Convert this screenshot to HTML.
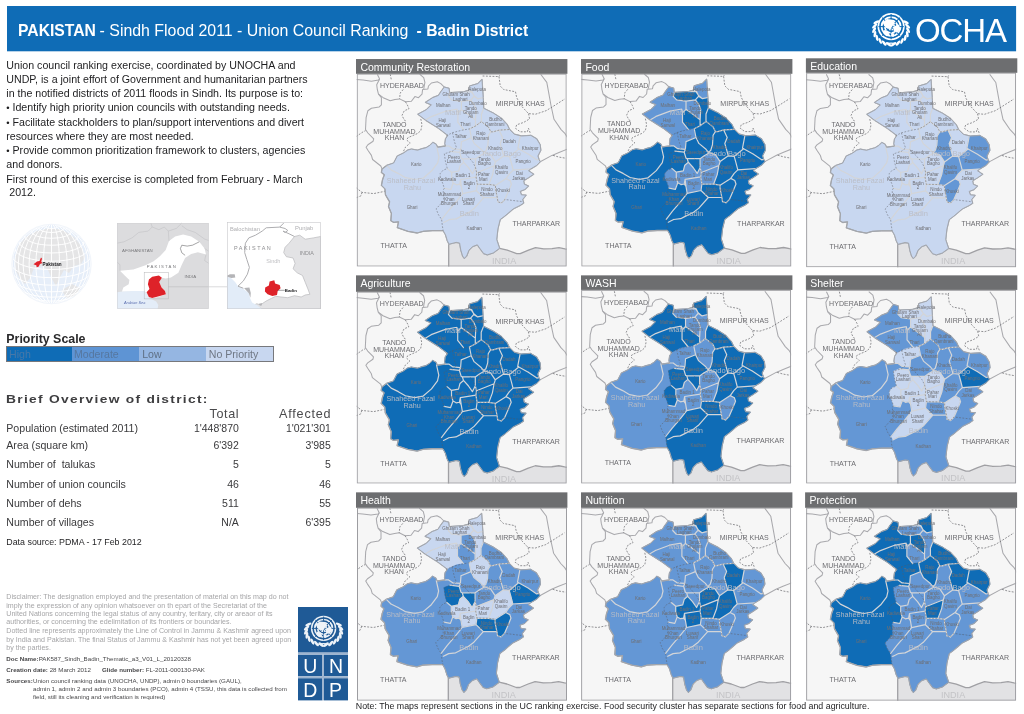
<!DOCTYPE html>
<html lang="en">
<head>
<meta charset="utf-8">
<title>PAKISTAN - Sindh Flood 2011 - Union Council Ranking - Badin District</title>
<style>
html,body{margin:0;padding:0;background:#fff;}
body{width:1024px;height:714px;overflow:hidden;font-family:"Liberation Sans",sans-serif;}
#page{position:relative;width:1024px;height:714px;overflow:hidden;background:#fff;}
#page *{box-sizing:border-box;}
.abs{position:absolute;white-space:nowrap;line-height:1;}
.ht{position:absolute;top:19.2px;color:#fff;font-size:15.8px;line-height:1;white-space:nowrap;}
.ptitle{position:absolute;color:#fff;font-size:10.5px;line-height:16.1px;padding-left:4.4px;white-space:nowrap;overflow:hidden;}
#maps{position:absolute;left:0;top:0;display:block;}
.intro{position:absolute;left:6.3px;font-size:10.65px;color:#1d1d1f;white-space:nowrap;line-height:1;}
.row{position:absolute;left:6.3px;font-size:10.6px;color:#3a3a3c;white-space:nowrap;line-height:1;}
.val{position:absolute;font-size:10.5px;color:#3a3a3c;white-space:nowrap;line-height:1;text-align:right;}
.disc{position:absolute;left:6.3px;font-size:7.1px;color:#a3a3a5;white-space:nowrap;line-height:1;}
.meta{position:absolute;left:6.3px;font-size:6.2px;color:#4a4a4c;white-space:nowrap;line-height:1;}
.meta b{font-weight:bold;}
.bul{display:inline-block;width:6.2px;font-size:9.5px;line-height:1px;vertical-align:0.3px;}
#legend{position:absolute;left:6px;top:346px;width:268.2px;height:16px;border:1px solid #77787c;display:flex;font-size:10.6px;line-height:14px;}
#legend span{display:block;height:100%;white-space:nowrap;padding-left:3px;}
#legend span:nth-child(1){width:65px;padding-left:2px;}
#legend span:nth-child(2){width:67.2px;padding-left:2px;}
#legend span:nth-child(3){width:66.6px;}
#legend span:nth-child(4){flex:1;}
#undp{position:absolute;left:298px;top:607.4px;width:50px;height:93.4px;}

</style>
</head>
<body>
<div id="page">
<svg id="maps" width="1024" height="714" viewBox="0 0 1024 714">
<rect x="7" y="6" width="1009.1" height="45.3" fill="#0f6cb6"/>
<svg x="356.70" y="73.60" width="210" height="193.00" overflow="hidden">
<g transform="translate(-0.60 0.60)">
<rect x="-3" y="-3" width="216" height="199" fill="#f6f6f6"/>
<polygon points="92.6,165.0 143.5,174.1 151.2,175.9 160.6,179.4 164.1,179.4 172.4,175.9 179.4,173.5 187.6,174.7 195.9,174.5 202.9,173.5 208.8,174.7 213.0,175.3 213.0,196.0 92.6,196.0" fill="#e2e2e4"/>
<g fill="none" stroke="#a9a9ad" stroke-width="1.05" stroke-linejoin="round">
<polyline points="-3.0,5.1 7.0,5.9 15.3,7.0 22.4,5.9 23.5,4.7 21.2,0.0"/>
<polyline points="23.5,4.7 20.6,10.6 21.2,15.3 22.4,20.0 25.3,23.5 25.3,30.6 22.9,32.9 15.3,34.1 11.8,36.5 10.0,43.5 9.4,55.3 11.8,58.8 17.6,64.7 17.0,67.0 11.8,70.6 10.0,73.0 11.8,76.0 15.3,81.2 16.5,85.3 24.7,91.8 25.9,94.7"/>
<polyline points="22.4,20.0 27.1,23.5 34.1,26.5 38.8,25.3 43.5,24.7 49.4,27.6 55.3,27.1 58.8,22.4 62.4,23.5 65.9,20.0 66.5,15.3 71.8,14.7 72.4,11.8 75.3,8.8 81.2,7.6 84.7,9.4 88.2,12.9"/>
<polyline points="63.5,0.0 67.6,3.5 68.8,8.2 67.6,14.7"/>
<polyline points="184.6,0.0 190.7,8.2 192.5,18.0 194.8,30.8 197.9,45.1 205.0,55.4 209.0,59.5 213.0,66.0"/>
<polyline points="184.1,87.6 195.9,81.2 202.9,78.2 213.0,74.2"/>
<polyline points="143.5,174.1 151.2,175.9 160.6,179.4 164.1,179.4 172.4,175.9 179.4,173.5 187.6,174.7 195.9,174.5 202.9,173.5 208.8,174.7 213.0,175.3" stroke="#a0a0a4" stroke-width="1.3"/>
<polyline points="92.6,170.0 92.6,196.0" stroke="#a0a0a4" stroke-width="1.3"/>
</g>
<g fill="none" stroke="#66666a" stroke-width="0.7" stroke-dasharray="1.9 1.4">
<polyline points="34.1,0.0 35.3,5.9"/>
<polyline points="47.1,15.3 44.1,18.8 43.5,24.7"/>
<polyline points="49.4,27.6 51.8,31.8 52.9,34.7 48.2,36.5 45.9,41.2 48.2,45.9 50.6,47.1"/>
<polyline points="64.7,44.7 65.9,50.6 64.7,56.5 61.2,59.4 51.8,63.5 50.6,65.9 54.1,68.8 49.4,72.9 47.1,77.6"/>
<polyline points="0.0,62.4 7.0,57.6 9.4,56.5"/>
<polyline points="0.0,113.5 5.9,118.2 17.6,119.4 28.8,117.1"/>
<polyline points="5.9,118.2 4.7,121.8 0.0,123.5"/>
<polyline points="126.5,1.8 142.9,2.4 143.5,1.2"/>
<polyline points="142.9,2.4 144.1,11.8 147.6,15.3 159.4,17.6 160.6,23.5 165.3,31.8 172.4,39.4 179.4,40.0 190.0,36.5 195.9,32.9 208.8,24.7"/>
<polyline points="172.4,39.4 173.5,44.7 167.6,48.2 160.6,50.6 159.4,54.1 164.1,57.6 171.2,57.6 172.4,54.1 174.1,58.8"/>
<polyline points="197.0,81.2 202.9,82.9 210.0,84.1"/>
</g>
<polygon points="125.9,5.3 127.1,23.5 127.6,34.1 137.1,38.8 145.3,44.1 151.2,50.6 153.5,55.3 158.2,60.0 165.3,61.8 174.7,61.2 180.6,64.7 184.1,70.6 184.7,76.0 181.8,81.8 182.9,85.3 184.1,87.6 180.6,91.2 174.7,94.7 172.4,96.5 177.6,100.0 172.4,103.5 167.6,106.5 168.2,110.0 172.4,111.8 168.8,115.3 164.1,117.1 165.3,120.6 170.0,121.0 166.5,125.3 167.6,128.8 164.1,131.2 157.1,134.7 148.8,141.8 144.1,145.3 141.8,154.7 140.6,165.3 143.5,174.1 137.1,178.8 131.2,180.6 127.6,179.4 124.1,174.7 121.2,170.6 116.5,172.4 112.9,175.9 110.6,181.8 108.2,184.1 106.5,181.8 104.7,175.9 103.5,168.8 100.0,168.2 92.9,170.0 91.2,166.5 89.4,160.6 87.1,156.5 76.5,156.5 67.1,157.1 61.2,158.8 51.8,157.1 41.2,153.5 42.4,147.6 37.6,148.2 34.7,146.5 35.3,139.4 32.4,132.4 33.5,127.6 29.4,120.6 28.8,114.7 25.3,111.2 26.5,105.3 28.2,100.6 25.3,98.2 25.9,94.7 30.6,91.2 37.6,88.8 41.2,81.8 47.2,79.0 51.8,75.8 55.4,74.9 61.5,76.0 66.0,74.5 70.0,73.5 74.0,71.0 76.8,68.2 80.0,70.0 81.5,72.9 89.4,71.8 88.8,69.4 89.4,64.7 91.8,61.2 82.4,54.1 69.4,45.9 61.8,40.0 70.6,35.3 75.3,30.6 69.4,28.2 76.5,23.5 82.4,21.2 84.7,17.6 88.2,12.9 92.9,14.1 93.5,18.5 107.6,17.6 112.9,16.0 113.5,11.8 121.8,9.4" fill="#c8d7f0" stroke="#a3a6ac" stroke-width="1.3" stroke-linejoin="round"/>
<polygon points="125.9,5.3 121.8,9.4 113.5,11.8 113.5,16.5 115.9,17.6 118.2,22.4 121.8,24.7 125.3,23.8 127.1,23.5" fill="#c8d7f0" stroke="#c8d7f0" stroke-width="0.35"/>
<polygon points="93.5,18.5 107.6,17.6 115.3,17.6 118.2,21.8 114.7,25.9 105.3,27.1 95.9,25.9 92.6,22.4" fill="#c8d7f0" stroke="#c8d7f0" stroke-width="0.35"/>
<polygon points="121.8,24.7 125.3,23.8 127.1,23.5 127.6,34.1 125.3,40.0 125.3,47.4 119.4,51.8 119.4,45.9 120.0,35.3 118.2,30.6 114.7,25.9 118.2,21.8" fill="#c8d7f0" stroke="#c8d7f0" stroke-width="0.35"/>
<polygon points="105.3,27.1 114.7,25.9 118.2,30.6 120.0,35.3 119.4,45.9 113.5,41.2 105.3,35.3" fill="#c8d7f0" stroke="#c8d7f0" stroke-width="0.35"/>
<polygon points="101.8,38.8 105.3,35.3 113.5,41.2 119.4,45.9 119.4,51.8 113.5,54.7 107.6,55.3 101.8,48.2" fill="#c8d7f0" stroke="#c8d7f0" stroke-width="0.35"/>
<polygon points="88.2,12.9 92.9,14.1 93.5,18.5 92.6,22.4 95.9,25.9 105.3,27.1 105.3,35.3 101.8,38.8 101.0,35.0 89.4,37.1 75.3,42.4 69.4,45.9 61.8,40.0 70.6,35.3 75.3,30.6 69.4,28.2 76.5,23.5 82.4,21.2 84.7,17.6" fill="#c8d7f0" stroke="#c8d7f0" stroke-width="0.35"/>
<polygon points="69.4,45.9 75.3,42.4 89.4,37.1 101.0,35.0 101.8,38.8 101.8,48.2 107.6,55.3 100.0,57.0 91.8,61.2 82.4,54.1" fill="#c8d7f0" stroke="#c8d7f0" stroke-width="0.35"/>
<polygon points="91.8,61.2 100.0,57.0 107.6,55.3 113.5,54.7 115.3,63.5 105.3,67.6 104.7,75.3 97.0,74.7 92.9,71.8 89.4,71.8 88.8,69.4 89.4,64.7" fill="#c8d7f0" stroke="#c8d7f0" stroke-width="0.35"/>
<polygon points="113.5,54.7 119.4,51.8 125.3,47.4 132.4,52.9 134.7,57.6 132.4,61.2 131.8,70.6 130.0,76.5 127.6,78.2 125.3,75.3 118.2,69.4 115.3,63.5" fill="#c8d7f0" stroke="#c8d7f0" stroke-width="0.35"/>
<polygon points="127.6,34.1 137.1,38.8 145.3,44.1 151.2,50.6 153.5,55.3 143.0,55.9 137.1,57.6 134.7,57.6 132.4,52.9 125.3,47.4 125.3,40.0" fill="#c8d7f0" stroke="#c8d7f0" stroke-width="0.35"/>
<polygon points="134.7,57.6 137.1,57.6 143.0,55.9 146.5,63.5 144.1,69.4 146.0,76.0 147.6,81.8 139.4,87.6 134.7,80.6 128.8,78.8 127.6,78.2 130.0,76.5 131.8,70.6 132.4,61.2" fill="#c8d7f0" stroke="#c8d7f0" stroke-width="0.35"/>
<polygon points="143.0,55.9 153.5,55.3 158.2,60.0 164.1,62.1 161.8,74.1 162.9,74.7 153.5,82.4 147.6,81.8 146.0,76.0 144.1,69.4 146.5,63.5" fill="#c8d7f0" stroke="#c8d7f0" stroke-width="0.35"/>
<polygon points="164.1,62.1 165.3,61.8 174.7,61.2 180.6,64.7 184.1,70.6 184.7,76.0 181.8,81.8 182.9,85.3 181.0,85.8 172.4,80.0 162.9,74.7 161.8,74.1" fill="#c8d7f0" stroke="#c8d7f0" stroke-width="0.35"/>
<polygon points="162.9,74.7 172.4,80.0 181.0,85.8 182.9,85.3 184.1,87.6 180.6,91.2 174.7,94.7 157.1,95.9 155.3,88.8 153.5,82.4" fill="#c8d7f0" stroke="#c8d7f0" stroke-width="0.35"/>
<polygon points="139.4,87.6 147.6,81.8 153.5,82.4 155.3,88.8 157.1,95.9 153.5,99.4 150.0,104.4 139.4,111.2 132.9,110.2 136.5,100.6 138.2,91.5" fill="#c8d7f0" stroke="#c8d7f0" stroke-width="0.35"/>
<polygon points="123.5,81.8 128.8,78.8 134.7,80.6 139.4,87.6 138.2,91.5 120.6,98.5 119.4,93.5 119.4,84.7" fill="#c8d7f0" stroke="#c8d7f0" stroke-width="0.35"/>
<polygon points="120.6,98.5 138.2,91.5 136.5,100.6 132.9,110.2 121.2,110.0 120.0,102.9" fill="#c8d7f0" stroke="#c8d7f0" stroke-width="0.35"/>
<polygon points="105.3,67.6 115.3,63.5 118.2,69.4 125.3,75.3 127.6,78.2 128.8,78.8 123.5,81.8 119.4,84.7 106.5,84.7 105.3,84.1 103.5,78.2 104.7,75.3" fill="#c8d7f0" stroke="#c8d7f0" stroke-width="0.35"/>
<polygon points="88.2,79.4 94.1,77.1 103.5,78.2 105.3,84.1 106.5,84.7 107.6,88.2 104.1,91.2 102.6,96.8 95.6,98.2 91.2,94.4 89.4,87.6" fill="#c8d7f0" stroke="#c8d7f0" stroke-width="0.35"/>
<polygon points="107.6,88.2 106.5,84.7 119.4,84.7 119.4,93.5 116.5,99.4 112.4,93.5" fill="#c8d7f0" stroke="#c8d7f0" stroke-width="0.35"/>
<polygon points="95.6,98.2 102.6,96.8 104.1,91.2 107.6,88.2 112.4,93.5 116.5,99.4 119.4,93.5 120.6,98.5 120.0,102.9 104.4,105.3 103.5,110.0 100.3,110.6 97.1,108.8 95.6,104.1" fill="#c8d7f0" stroke="#c8d7f0" stroke-width="0.35"/>
<polygon points="87.1,95.9 91.2,94.4 95.6,98.2 95.6,104.1 97.1,108.8 94.7,115.3 88.2,114.1 86.5,108.8 84.1,104.1 84.1,99.4" fill="#c8d7f0" stroke="#c8d7f0" stroke-width="0.35"/>
<polygon points="104.4,105.3 120.0,102.9 121.2,110.0 120.3,116.5 106.5,119.4 105.3,112.4" fill="#c8d7f0" stroke="#c8d7f0" stroke-width="0.35"/>
<polygon points="121.2,110.0 132.9,110.2 139.4,111.2 139.4,114.7 141.2,123.5 127.6,123.5 120.3,116.5" fill="#c8d7f0" stroke="#c8d7f0" stroke-width="0.35"/>
<polygon points="139.4,111.2 150.0,104.4 154.1,106.5 155.3,110.0 152.4,117.1 148.8,125.3 145.3,128.8 141.8,127.6 141.2,123.5 139.4,114.7" fill="#c8d7f0" stroke="#c8d7f0" stroke-width="0.35"/>
<polygon points="157.1,95.9 174.7,94.7 172.4,96.5 177.6,100.0 172.4,103.5 167.6,106.5 168.2,110.0 172.4,111.8 168.8,115.3 164.1,117.1 165.3,120.6 170.0,121.0 166.5,125.3 167.0,127.5 148.8,125.3 152.4,117.1 155.3,110.0 154.1,106.5 150.0,104.4 153.5,99.4" fill="#c8d7f0" stroke="#c8d7f0" stroke-width="0.35"/>
<polygon points="106.5,119.4 120.3,116.5 127.6,123.5 118.2,134.1 112.9,138.2 103.5,142.9 100.0,144.7 93.0,145.5 89.5,147.3 87.6,148.2 85.5,145.3 91.8,137.1 100.0,127.6" fill="#c8d7f0" stroke="#c8d7f0" stroke-width="0.35"/>
<polygon points="88.2,114.1 94.7,115.3 97.1,108.8 100.3,110.6 103.5,110.0 105.3,112.4 106.5,119.4 100.0,127.6 91.8,137.1 85.5,145.3 82.4,140.6 80.0,134.7 87.6,126.5 87.1,115.9" fill="#c8d7f0" stroke="#c8d7f0" stroke-width="0.35"/>
<polygon points="87.6,148.2 89.5,147.3 93.0,145.5 100.0,144.7 103.5,142.9 112.9,138.2 118.2,134.1 127.6,123.5 141.2,123.5 141.8,127.6 145.3,128.8 148.8,125.3 167.0,127.5 167.6,128.8 164.1,131.2 157.1,134.7 148.8,141.8 144.1,145.3 141.8,154.7 140.6,165.3 143.5,174.1 137.1,178.8 131.2,180.6 127.6,179.4 124.1,174.7 121.2,170.6 116.5,172.4 112.9,175.9 110.6,181.8 108.2,184.1 106.5,181.8 104.7,175.9 103.5,168.8 100.0,168.2 92.9,170.0 91.2,166.5 89.4,160.6 87.1,156.5 86.3,152.0 85.5,145.3" fill="#c8d7f0" stroke="#c8d7f0" stroke-width="0.35"/>
<polygon points="30.6,91.2 37.6,88.8 41.2,81.8 47.2,79.0 51.8,75.8 55.4,74.9 61.5,76.0 66.0,74.5 70.0,73.5 74.0,71.0 76.8,68.2 80.0,70.0 80.6,72.6 82.9,82.9 81.6,88.6 75.6,96.6 67.3,103.8 58.8,105.3 49.4,103.5 42.4,99.4 35.3,95.9" fill="#c8d7f0" stroke="#c8d7f0" stroke-width="0.35"/>
<path d="M113.5 16.5L115.9 17.6 M115.9 17.6L118.2 22.4 M118.2 22.4L121.8 24.7 M121.8 24.7L125.3 23.8 M125.3 23.8L127.1 23.5 M107.6 17.6L115.3 17.6 M115.3 17.6L118.2 21.8 M118.2 21.8L114.7 25.9 M114.7 25.9L105.3 27.1 M105.3 27.1L95.9 25.9 M95.9 25.9L92.6 22.4 M92.6 22.4L93.5 18.5 M121.8 24.7L125.3 23.8 M125.3 23.8L127.1 23.5 M127.6 34.1L125.3 40.0 M125.3 40.0L125.3 47.4 M125.3 47.4L119.4 51.8 M119.4 51.8L119.4 45.9 M119.4 45.9L120.0 35.3 M120.0 35.3L118.2 30.6 M118.2 30.6L114.7 25.9 M114.7 25.9L118.2 21.8 M118.2 21.8L121.8 24.7 M105.3 27.1L114.7 25.9 M114.7 25.9L118.2 30.6 M118.2 30.6L120.0 35.3 M120.0 35.3L119.4 45.9 M119.4 45.9L113.5 41.2 M113.5 41.2L105.3 35.3 M105.3 35.3L105.3 27.1 M101.8 38.8L105.3 35.3 M105.3 35.3L113.5 41.2 M113.5 41.2L119.4 45.9 M119.4 45.9L119.4 51.8 M119.4 51.8L113.5 54.7 M107.6 55.3L101.8 48.2 M101.8 48.2L101.8 38.8 M93.5 18.5L92.6 22.4 M92.6 22.4L95.9 25.9 M95.9 25.9L105.3 27.1 M105.3 27.1L105.3 35.3 M105.3 35.3L101.8 38.8 M101.8 38.8L101.0 35.0 M101.0 35.0L89.4 37.1 M89.4 37.1L75.3 42.4 M75.3 42.4L69.4 45.9 M69.4 45.9L75.3 42.4 M75.3 42.4L89.4 37.1 M89.4 37.1L101.0 35.0 M101.0 35.0L101.8 38.8 M101.8 38.8L101.8 48.2 M101.8 48.2L107.6 55.3 M113.5 54.7L115.3 63.5 M115.3 63.5L105.3 67.6 M105.3 67.6L104.7 75.3 M104.7 75.3L97.0 74.7 M97.0 74.7L92.9 71.8 M92.9 71.8L89.4 71.8 M113.5 54.7L119.4 51.8 M119.4 51.8L125.3 47.4 M125.3 47.4L132.4 52.9 M132.4 52.9L134.7 57.6 M134.7 57.6L132.4 61.2 M132.4 61.2L131.8 70.6 M131.8 70.6L130.0 76.5 M130.0 76.5L127.6 78.2 M127.6 78.2L125.3 75.3 M125.3 75.3L118.2 69.4 M118.2 69.4L115.3 63.5 M115.3 63.5L113.5 54.7 M153.5 55.3L143.0 55.9 M143.0 55.9L137.1 57.6 M137.1 57.6L134.7 57.6 M134.7 57.6L132.4 52.9 M132.4 52.9L125.3 47.4 M125.3 47.4L125.3 40.0 M125.3 40.0L127.6 34.1 M134.7 57.6L137.1 57.6 M137.1 57.6L143.0 55.9 M143.0 55.9L146.5 63.5 M146.5 63.5L144.1 69.4 M144.1 69.4L146.0 76.0 M146.0 76.0L147.6 81.8 M147.6 81.8L139.4 87.6 M139.4 87.6L134.7 80.6 M134.7 80.6L128.8 78.8 M128.8 78.8L127.6 78.2 M127.6 78.2L130.0 76.5 M130.0 76.5L131.8 70.6 M131.8 70.6L132.4 61.2 M132.4 61.2L134.7 57.6 M143.0 55.9L153.5 55.3 M164.1 62.1L161.8 74.1 M161.8 74.1L162.9 74.7 M162.9 74.7L153.5 82.4 M153.5 82.4L147.6 81.8 M147.6 81.8L146.0 76.0 M146.0 76.0L144.1 69.4 M144.1 69.4L146.5 63.5 M146.5 63.5L143.0 55.9 M182.9 85.3L181.0 85.8 M181.0 85.8L172.4 80.0 M172.4 80.0L162.9 74.7 M162.9 74.7L161.8 74.1 M161.8 74.1L164.1 62.1 M162.9 74.7L172.4 80.0 M172.4 80.0L181.0 85.8 M181.0 85.8L182.9 85.3 M174.7 94.7L157.1 95.9 M157.1 95.9L155.3 88.8 M155.3 88.8L153.5 82.4 M153.5 82.4L162.9 74.7 M139.4 87.6L147.6 81.8 M147.6 81.8L153.5 82.4 M153.5 82.4L155.3 88.8 M155.3 88.8L157.1 95.9 M157.1 95.9L153.5 99.4 M153.5 99.4L150.0 104.4 M150.0 104.4L139.4 111.2 M139.4 111.2L132.9 110.2 M132.9 110.2L136.5 100.6 M136.5 100.6L138.2 91.5 M138.2 91.5L139.4 87.6 M123.5 81.8L128.8 78.8 M128.8 78.8L134.7 80.6 M134.7 80.6L139.4 87.6 M139.4 87.6L138.2 91.5 M138.2 91.5L120.6 98.5 M120.6 98.5L119.4 93.5 M119.4 93.5L119.4 84.7 M119.4 84.7L123.5 81.8 M120.6 98.5L138.2 91.5 M138.2 91.5L136.5 100.6 M136.5 100.6L132.9 110.2 M132.9 110.2L121.2 110.0 M121.2 110.0L120.0 102.9 M120.0 102.9L120.6 98.5 M105.3 67.6L115.3 63.5 M115.3 63.5L118.2 69.4 M118.2 69.4L125.3 75.3 M125.3 75.3L127.6 78.2 M127.6 78.2L128.8 78.8 M128.8 78.8L123.5 81.8 M123.5 81.8L119.4 84.7 M119.4 84.7L106.5 84.7 M106.5 84.7L105.3 84.1 M105.3 84.1L103.5 78.2 M103.5 78.2L104.7 75.3 M104.7 75.3L105.3 67.6 M94.1 77.1L103.5 78.2 M103.5 78.2L105.3 84.1 M105.3 84.1L106.5 84.7 M106.5 84.7L107.6 88.2 M107.6 88.2L104.1 91.2 M104.1 91.2L102.6 96.8 M102.6 96.8L95.6 98.2 M95.6 98.2L91.2 94.4 M107.6 88.2L106.5 84.7 M106.5 84.7L119.4 84.7 M119.4 84.7L119.4 93.5 M119.4 93.5L116.5 99.4 M116.5 99.4L112.4 93.5 M112.4 93.5L107.6 88.2 M95.6 98.2L102.6 96.8 M102.6 96.8L104.1 91.2 M104.1 91.2L107.6 88.2 M107.6 88.2L112.4 93.5 M112.4 93.5L116.5 99.4 M116.5 99.4L119.4 93.5 M119.4 93.5L120.6 98.5 M120.6 98.5L120.0 102.9 M120.0 102.9L104.4 105.3 M104.4 105.3L103.5 110.0 M103.5 110.0L100.3 110.6 M100.3 110.6L97.1 108.8 M97.1 108.8L95.6 104.1 M95.6 104.1L95.6 98.2 M91.2 94.4L95.6 98.2 M95.6 98.2L95.6 104.1 M95.6 104.1L97.1 108.8 M97.1 108.8L94.7 115.3 M94.7 115.3L88.2 114.1 M104.4 105.3L120.0 102.9 M120.0 102.9L121.2 110.0 M121.2 110.0L120.3 116.5 M120.3 116.5L106.5 119.4 M106.5 119.4L105.3 112.4 M105.3 112.4L104.4 105.3 M121.2 110.0L132.9 110.2 M132.9 110.2L139.4 111.2 M139.4 111.2L139.4 114.7 M139.4 114.7L141.2 123.5 M141.2 123.5L127.6 123.5 M127.6 123.5L120.3 116.5 M120.3 116.5L121.2 110.0 M139.4 111.2L150.0 104.4 M150.0 104.4L154.1 106.5 M154.1 106.5L155.3 110.0 M155.3 110.0L152.4 117.1 M152.4 117.1L148.8 125.3 M148.8 125.3L145.3 128.8 M145.3 128.8L141.8 127.6 M141.8 127.6L141.2 123.5 M141.2 123.5L139.4 114.7 M139.4 114.7L139.4 111.2 M157.1 95.9L174.7 94.7 M148.8 125.3L152.4 117.1 M152.4 117.1L155.3 110.0 M155.3 110.0L154.1 106.5 M154.1 106.5L150.0 104.4 M150.0 104.4L153.5 99.4 M153.5 99.4L157.1 95.9 M106.5 119.4L120.3 116.5 M120.3 116.5L127.6 123.5 M127.6 123.5L118.2 134.1 M118.2 134.1L112.9 138.2 M112.9 138.2L103.5 142.9 M103.5 142.9L100.0 144.7 M100.0 144.7L93.0 145.5 M93.0 145.5L89.5 147.3 M89.5 147.3L87.6 148.2 M85.5 145.3L91.8 137.1 M91.8 137.1L100.0 127.6 M100.0 127.6L106.5 119.4 M88.2 114.1L94.7 115.3 M94.7 115.3L97.1 108.8 M97.1 108.8L100.3 110.6 M100.3 110.6L103.5 110.0 M103.5 110.0L105.3 112.4 M105.3 112.4L106.5 119.4 M106.5 119.4L100.0 127.6 M100.0 127.6L91.8 137.1 M91.8 137.1L85.5 145.3 M87.6 148.2L89.5 147.3 M89.5 147.3L93.0 145.5 M93.0 145.5L100.0 144.7 M100.0 144.7L103.5 142.9 M103.5 142.9L112.9 138.2 M112.9 138.2L118.2 134.1 M118.2 134.1L127.6 123.5 M127.6 123.5L141.2 123.5 M141.2 123.5L141.8 127.6 M141.8 127.6L145.3 128.8 M145.3 128.8L148.8 125.3 M80.6 72.6L82.9 82.9 M82.9 82.9L81.6 88.6 M81.6 88.6L75.6 96.6 M75.6 96.6L67.3 103.8 M67.3 103.8L58.8 105.3 M58.8 105.3L49.4 103.5 M49.4 103.5L42.4 99.4 M42.4 99.4L35.3 95.9 M35.3 95.9L30.6 91.2" fill="none" stroke="#d3d5d8" stroke-width="1.2" stroke-linecap="round"/>
<polygon points="125.9,5.3 127.1,23.5 127.6,34.1 137.1,38.8 145.3,44.1 151.2,50.6 153.5,55.3 158.2,60.0 165.3,61.8 174.7,61.2 180.6,64.7 184.1,70.6 184.7,76.0 181.8,81.8 182.9,85.3 184.1,87.6 180.6,91.2 174.7,94.7 172.4,96.5 177.6,100.0 172.4,103.5 167.6,106.5 168.2,110.0 172.4,111.8 168.8,115.3 164.1,117.1 165.3,120.6 170.0,121.0 166.5,125.3 167.6,128.8 164.1,131.2 157.1,134.7 148.8,141.8 144.1,145.3 141.8,154.7 140.6,165.3 143.5,174.1 137.1,178.8 131.2,180.6 127.6,179.4 124.1,174.7 121.2,170.6 116.5,172.4 112.9,175.9 110.6,181.8 108.2,184.1 106.5,181.8 104.7,175.9 103.5,168.8 100.0,168.2 92.9,170.0 91.2,166.5 89.4,160.6 87.1,156.5 76.5,156.5 67.1,157.1 61.2,158.8 51.8,157.1 41.2,153.5 42.4,147.6 37.6,148.2 34.7,146.5 35.3,139.4 32.4,132.4 33.5,127.6 29.4,120.6 28.8,114.7 25.3,111.2 26.5,105.3 28.2,100.6 25.3,98.2 25.9,94.7 30.6,91.2 37.6,88.8 41.2,81.8 47.2,79.0 51.8,75.8 55.4,74.9 61.5,76.0 66.0,74.5 70.0,73.5 74.0,71.0 76.8,68.2 80.0,70.0 81.5,72.9 89.4,71.8 88.8,69.4 89.4,64.7 91.8,61.2 82.4,54.1 69.4,45.9 61.8,40.0 70.6,35.3 75.3,30.6 69.4,28.2 76.5,23.5 82.4,21.2 84.7,17.6 88.2,12.9 92.9,14.1 93.5,18.5 107.6,17.6 112.9,16.0 113.5,11.8 121.8,9.4" fill="none" stroke="#a3a6ac" stroke-width="1" stroke-linejoin="round"/>
<g fill="none" stroke="#5a5a5e" stroke-width="0.6" stroke-dasharray="1.8 1.5" stroke-opacity="0.8">
<polyline points="90.2,61.5 96.4,58.5 105.9,56.0 113.5,54.7 119.4,51.8 125.3,47.4 132.4,52.9 134.7,57.6 137.1,57.6 143.0,55.9 153.5,55.3"/>
<polyline points="96.4,58.5 98.4,67.7 100.5,73.8 96.4,76.9 90.2,79.0 88.2,79.4 89.4,87.6 91.2,94.4 87.1,95.9 84.1,99.4 84.1,104.1 86.5,108.8 88.2,114.1 87.1,115.9 87.6,126.5 80.0,134.7 82.4,140.6 85.5,145.3 86.3,152.0 87.1,156.5"/>
<polyline points="104.7,75.3 110.7,81.0 116.9,88.2 119.4,93.5 120.6,98.5 120.0,102.9 121.2,110.0 132.9,110.2 139.4,111.2 139.4,114.7 141.2,123.5 141.8,127.6 145.3,128.8 148.8,125.3 167.0,127.5"/>
</g>
<g font-family="'Liberation Sans',sans-serif" text-anchor="middle">
<g font-size="7.05" fill="#6c6c70">
<text x="45.8" y="13.80">HYDERABAD</text>
<text x="164.1" y="31.80">MIRPUR KHAS</text>
<text x="38.4" y="52.80">TANDO</text>
<text x="38.4" y="59.80">MUHAMMAD</text>
<text x="38.4" y="65.80">KHAN</text>
<text x="37.6" y="173.80">THATTA</text>
<text x="180.2" y="151.80">THARPARKAR</text>
</g>
<text x="148.0" y="189.80" font-size="9.1" fill="#c3c3c6">INDIA</text>
<g font-size="7.15" fill="#b9bdc5" fill-opacity="0.95">
<text x="96.8" y="40.80" font-size="7.5">Matli</text>
<text x="144.9" y="81.80" font-size="7.5">Tando Bago</text>
<text x="54.8" y="108.80" font-size="7.2">Shaheed Fazal</text>
<text x="56.3" y="115.80" font-size="7.2">Rahu</text>
<text x="113.2" y="141.80" font-size="7.5">Badin</text>
</g>
<g font-size="4.45" fill="#6e6e72">
<text x="121.0" y="16.80">Halepota</text>
<text x="100.1" y="21.80">Ghulam Shah</text>
<text x="104.1" y="26.80">Laghari</text>
<text x="121.7" y="30.80">Dumbalo</text>
<text x="87.1" y="32.80">Malhan</text>
<text x="114.6" y="35.80">Tando</text>
<text x="114.6" y="39.80">Ghulam</text>
<text x="114.6" y="43.80">Ali</text>
<text x="86.2" y="47.80">Haji</text>
<text x="87.1" y="52.80">Sanwal</text>
<text x="109.3" y="51.80">Thari</text>
<text x="139.5" y="46.80">Budho</text>
<text x="138.6" y="51.80">Qambrani</text>
<text x="104.7" y="63.80">Talhar</text>
<text x="124.7" y="60.80">Rajo</text>
<text x="124.7" y="65.80">Khanani</text>
<text x="153.1" y="68.80">Dadah</text>
<text x="139.2" y="75.80">Khadro</text>
<text x="174.1" y="75.80">Khairpur</text>
<text x="114.9" y="79.80">Saeedpur</text>
<text x="97.9" y="84.80">Peero</text>
<text x="97.9" y="88.80">Lashari</text>
<text x="128.4" y="86.80">Tando</text>
<text x="128.4" y="90.80">Bagho</text>
<text x="167.0" y="88.80">Pangrio</text>
<text x="60.1" y="91.80">Kario</text>
<text x="145.4" y="94.80">Khalifo</text>
<text x="145.4" y="99.80">Qasim</text>
<text x="163.3" y="100.80">Dai</text>
<text x="162.7" y="105.80">Jarkas</text>
<text x="106.9" y="102.80">Badin 1</text>
<text x="127.8" y="101.80">Pahar</text>
<text x="127.2" y="106.80">Mari</text>
<text x="90.8" y="106.80">Kadiwala</text>
<text x="113.0" y="110.80">Badin</text>
<text x="113.0" y="114.80">2</text>
<text x="130.9" y="116.80">Nindo</text>
<text x="130.9" y="121.80">Shahar</text>
<text x="146.9" y="117.80">Khoski</text>
<text x="93.3" y="121.80">Muhammad</text>
<text x="93.3" y="126.80">Khan</text>
<text x="93.3" y="130.80">Bhurgari</text>
<text x="112.4" y="126.80">Luwari</text>
<text x="112.4" y="130.80">Sharif</text>
<text x="56.0" y="134.80">Ghari</text>
<text x="118.0" y="155.80">Kadhan</text>
</g>
</g>
</g>
<rect x="0.5" y="0.5" width="209" height="192.00" fill="none" stroke="#9d9da1" stroke-width="1"/>
</svg>
<rect x="356.00" y="59.05" width="211.40" height="14.75" fill="#6d6e70"/>
<svg x="581.30" y="73.60" width="210" height="193.00" overflow="hidden">
<g transform="translate(-0.60 0.40)">
<rect x="-3" y="-3" width="216" height="199" fill="#f6f6f6"/>
<polygon points="92.6,165.0 143.5,174.1 151.2,175.9 160.6,179.4 164.1,179.4 172.4,175.9 179.4,173.5 187.6,174.7 195.9,174.5 202.9,173.5 208.8,174.7 213.0,175.3 213.0,196.0 92.6,196.0" fill="#e2e2e4"/>
<g fill="none" stroke="#a9a9ad" stroke-width="1.05" stroke-linejoin="round">
<polyline points="-3.0,5.1 7.0,5.9 15.3,7.0 22.4,5.9 23.5,4.7 21.2,0.0"/>
<polyline points="23.5,4.7 20.6,10.6 21.2,15.3 22.4,20.0 25.3,23.5 25.3,30.6 22.9,32.9 15.3,34.1 11.8,36.5 10.0,43.5 9.4,55.3 11.8,58.8 17.6,64.7 17.0,67.0 11.8,70.6 10.0,73.0 11.8,76.0 15.3,81.2 16.5,85.3 24.7,91.8 25.9,94.7"/>
<polyline points="22.4,20.0 27.1,23.5 34.1,26.5 38.8,25.3 43.5,24.7 49.4,27.6 55.3,27.1 58.8,22.4 62.4,23.5 65.9,20.0 66.5,15.3 71.8,14.7 72.4,11.8 75.3,8.8 81.2,7.6 84.7,9.4 88.2,12.9"/>
<polyline points="63.5,0.0 67.6,3.5 68.8,8.2 67.6,14.7"/>
<polyline points="184.6,0.0 190.7,8.2 192.5,18.0 194.8,30.8 197.9,45.1 205.0,55.4 209.0,59.5 213.0,66.0"/>
<polyline points="184.1,87.6 195.9,81.2 202.9,78.2 213.0,74.2"/>
<polyline points="143.5,174.1 151.2,175.9 160.6,179.4 164.1,179.4 172.4,175.9 179.4,173.5 187.6,174.7 195.9,174.5 202.9,173.5 208.8,174.7 213.0,175.3" stroke="#a0a0a4" stroke-width="1.3"/>
<polyline points="92.6,170.0 92.6,196.0" stroke="#a0a0a4" stroke-width="1.3"/>
</g>
<g fill="none" stroke="#66666a" stroke-width="0.7" stroke-dasharray="1.9 1.4">
<polyline points="34.1,0.0 35.3,5.9"/>
<polyline points="47.1,15.3 44.1,18.8 43.5,24.7"/>
<polyline points="49.4,27.6 51.8,31.8 52.9,34.7 48.2,36.5 45.9,41.2 48.2,45.9 50.6,47.1"/>
<polyline points="64.7,44.7 65.9,50.6 64.7,56.5 61.2,59.4 51.8,63.5 50.6,65.9 54.1,68.8 49.4,72.9 47.1,77.6"/>
<polyline points="0.0,62.4 7.0,57.6 9.4,56.5"/>
<polyline points="0.0,113.5 5.9,118.2 17.6,119.4 28.8,117.1"/>
<polyline points="5.9,118.2 4.7,121.8 0.0,123.5"/>
<polyline points="126.5,1.8 142.9,2.4 143.5,1.2"/>
<polyline points="142.9,2.4 144.1,11.8 147.6,15.3 159.4,17.6 160.6,23.5 165.3,31.8 172.4,39.4 179.4,40.0 190.0,36.5 195.9,32.9 208.8,24.7"/>
<polyline points="172.4,39.4 173.5,44.7 167.6,48.2 160.6,50.6 159.4,54.1 164.1,57.6 171.2,57.6 172.4,54.1 174.1,58.8"/>
<polyline points="197.0,81.2 202.9,82.9 210.0,84.1"/>
</g>
<polygon points="125.9,5.3 127.1,23.5 127.6,34.1 137.1,38.8 145.3,44.1 151.2,50.6 153.5,55.3 158.2,60.0 165.3,61.8 174.7,61.2 180.6,64.7 184.1,70.6 184.7,76.0 181.8,81.8 182.9,85.3 184.1,87.6 180.6,91.2 174.7,94.7 172.4,96.5 177.6,100.0 172.4,103.5 167.6,106.5 168.2,110.0 172.4,111.8 168.8,115.3 164.1,117.1 165.3,120.6 170.0,121.0 166.5,125.3 167.6,128.8 164.1,131.2 157.1,134.7 148.8,141.8 144.1,145.3 141.8,154.7 140.6,165.3 143.5,174.1 137.1,178.8 131.2,180.6 127.6,179.4 124.1,174.7 121.2,170.6 116.5,172.4 112.9,175.9 110.6,181.8 108.2,184.1 106.5,181.8 104.7,175.9 103.5,168.8 100.0,168.2 92.9,170.0 91.2,166.5 89.4,160.6 87.1,156.5 76.5,156.5 67.1,157.1 61.2,158.8 51.8,157.1 41.2,153.5 42.4,147.6 37.6,148.2 34.7,146.5 35.3,139.4 32.4,132.4 33.5,127.6 29.4,120.6 28.8,114.7 25.3,111.2 26.5,105.3 28.2,100.6 25.3,98.2 25.9,94.7 30.6,91.2 37.6,88.8 41.2,81.8 47.2,79.0 51.8,75.8 55.4,74.9 61.5,76.0 66.0,74.5 70.0,73.5 74.0,71.0 76.8,68.2 80.0,70.0 81.5,72.9 89.4,71.8 88.8,69.4 89.4,64.7 91.8,61.2 82.4,54.1 69.4,45.9 61.8,40.0 70.6,35.3 75.3,30.6 69.4,28.2 76.5,23.5 82.4,21.2 84.7,17.6 88.2,12.9 92.9,14.1 93.5,18.5 107.6,17.6 112.9,16.0 113.5,11.8 121.8,9.4" fill="#0f6cb6" stroke="#a3a6ac" stroke-width="1.3" stroke-linejoin="round"/>
<polygon points="125.9,5.3 121.8,9.4 113.5,11.8 113.5,16.5 115.9,17.6 118.2,22.4 121.8,24.7 125.3,23.8 127.1,23.5" fill="#6497d5" stroke="#6497d5" stroke-width="0.35"/>
<polygon points="93.5,18.5 107.6,17.6 115.3,17.6 118.2,21.8 114.7,25.9 105.3,27.1 95.9,25.9 92.6,22.4" fill="#0f6cb6" stroke="#0f6cb6" stroke-width="0.35"/>
<polygon points="121.8,24.7 125.3,23.8 127.1,23.5 127.6,34.1 125.3,40.0 125.3,47.4 119.4,51.8 119.4,45.9 120.0,35.3 118.2,30.6 114.7,25.9 118.2,21.8" fill="#0f6cb6" stroke="#0f6cb6" stroke-width="0.35"/>
<polygon points="105.3,27.1 114.7,25.9 118.2,30.6 120.0,35.3 119.4,45.9 113.5,41.2 105.3,35.3" fill="#6497d5" stroke="#6497d5" stroke-width="0.35"/>
<polygon points="101.8,38.8 105.3,35.3 113.5,41.2 119.4,45.9 119.4,51.8 113.5,54.7 107.6,55.3 101.8,48.2" fill="#0f6cb6" stroke="#0f6cb6" stroke-width="0.35"/>
<polygon points="88.2,12.9 92.9,14.1 93.5,18.5 92.6,22.4 95.9,25.9 105.3,27.1 105.3,35.3 101.8,38.8 101.0,35.0 89.4,37.1 75.3,42.4 69.4,45.9 61.8,40.0 70.6,35.3 75.3,30.6 69.4,28.2 76.5,23.5 82.4,21.2 84.7,17.6" fill="#6497d5" stroke="#6497d5" stroke-width="0.35"/>
<polygon points="69.4,45.9 75.3,42.4 89.4,37.1 101.0,35.0 101.8,38.8 101.8,48.2 107.6,55.3 100.0,57.0 91.8,61.2 82.4,54.1" fill="#6497d5" stroke="#6497d5" stroke-width="0.35"/>
<polygon points="91.8,61.2 100.0,57.0 107.6,55.3 113.5,54.7 115.3,63.5 105.3,67.6 104.7,75.3 97.0,74.7 92.9,71.8 89.4,71.8 88.8,69.4 89.4,64.7" fill="#6497d5" stroke="#6497d5" stroke-width="0.35"/>
<polygon points="113.5,54.7 119.4,51.8 125.3,47.4 132.4,52.9 134.7,57.6 132.4,61.2 131.8,70.6 130.0,76.5 127.6,78.2 125.3,75.3 118.2,69.4 115.3,63.5" fill="#0f6cb6" stroke="#0f6cb6" stroke-width="0.35"/>
<polygon points="127.6,34.1 137.1,38.8 145.3,44.1 151.2,50.6 153.5,55.3 143.0,55.9 137.1,57.6 134.7,57.6 132.4,52.9 125.3,47.4 125.3,40.0" fill="#0f6cb6" stroke="#0f6cb6" stroke-width="0.35"/>
<polygon points="134.7,57.6 137.1,57.6 143.0,55.9 146.5,63.5 144.1,69.4 146.0,76.0 147.6,81.8 139.4,87.6 134.7,80.6 128.8,78.8 127.6,78.2 130.0,76.5 131.8,70.6 132.4,61.2" fill="#0f6cb6" stroke="#0f6cb6" stroke-width="0.35"/>
<polygon points="143.0,55.9 153.5,55.3 158.2,60.0 164.1,62.1 161.8,74.1 162.9,74.7 153.5,82.4 147.6,81.8 146.0,76.0 144.1,69.4 146.5,63.5" fill="#0f6cb6" stroke="#0f6cb6" stroke-width="0.35"/>
<polygon points="164.1,62.1 165.3,61.8 174.7,61.2 180.6,64.7 184.1,70.6 184.7,76.0 181.8,81.8 182.9,85.3 181.0,85.8 172.4,80.0 162.9,74.7 161.8,74.1" fill="#0f6cb6" stroke="#0f6cb6" stroke-width="0.35"/>
<polygon points="162.9,74.7 172.4,80.0 181.0,85.8 182.9,85.3 184.1,87.6 180.6,91.2 174.7,94.7 157.1,95.9 155.3,88.8 153.5,82.4" fill="#0f6cb6" stroke="#0f6cb6" stroke-width="0.35"/>
<polygon points="139.4,87.6 147.6,81.8 153.5,82.4 155.3,88.8 157.1,95.9 153.5,99.4 150.0,104.4 139.4,111.2 132.9,110.2 136.5,100.6 138.2,91.5" fill="#0f6cb6" stroke="#0f6cb6" stroke-width="0.35"/>
<polygon points="123.5,81.8 128.8,78.8 134.7,80.6 139.4,87.6 138.2,91.5 120.6,98.5 119.4,93.5 119.4,84.7" fill="#6497d5" stroke="#6497d5" stroke-width="0.35"/>
<polygon points="120.6,98.5 138.2,91.5 136.5,100.6 132.9,110.2 121.2,110.0 120.0,102.9" fill="#6497d5" stroke="#6497d5" stroke-width="0.35"/>
<polygon points="105.3,67.6 115.3,63.5 118.2,69.4 125.3,75.3 127.6,78.2 128.8,78.8 123.5,81.8 119.4,84.7 106.5,84.7 105.3,84.1 103.5,78.2 104.7,75.3" fill="#0f6cb6" stroke="#0f6cb6" stroke-width="0.35"/>
<polygon points="88.2,79.4 94.1,77.1 103.5,78.2 105.3,84.1 106.5,84.7 107.6,88.2 104.1,91.2 102.6,96.8 95.6,98.2 91.2,94.4 89.4,87.6" fill="#0f6cb6" stroke="#0f6cb6" stroke-width="0.35"/>
<polygon points="107.6,88.2 106.5,84.7 119.4,84.7 119.4,93.5 116.5,99.4 112.4,93.5" fill="#0f6cb6" stroke="#0f6cb6" stroke-width="0.35"/>
<polygon points="95.6,98.2 102.6,96.8 104.1,91.2 107.6,88.2 112.4,93.5 116.5,99.4 119.4,93.5 120.6,98.5 120.0,102.9 104.4,105.3 103.5,110.0 100.3,110.6 97.1,108.8 95.6,104.1" fill="#6497d5" stroke="#6497d5" stroke-width="0.35"/>
<polygon points="87.1,95.9 91.2,94.4 95.6,98.2 95.6,104.1 97.1,108.8 94.7,115.3 88.2,114.1 86.5,108.8 84.1,104.1 84.1,99.4" fill="#6497d5" stroke="#6497d5" stroke-width="0.35"/>
<polygon points="104.4,105.3 120.0,102.9 121.2,110.0 120.3,116.5 106.5,119.4 105.3,112.4" fill="#6497d5" stroke="#6497d5" stroke-width="0.35"/>
<polygon points="121.2,110.0 132.9,110.2 139.4,111.2 139.4,114.7 141.2,123.5 127.6,123.5 120.3,116.5" fill="#0f6cb6" stroke="#0f6cb6" stroke-width="0.35"/>
<polygon points="139.4,111.2 150.0,104.4 154.1,106.5 155.3,110.0 152.4,117.1 148.8,125.3 145.3,128.8 141.8,127.6 141.2,123.5 139.4,114.7" fill="#0f6cb6" stroke="#0f6cb6" stroke-width="0.35"/>
<polygon points="157.1,95.9 174.7,94.7 172.4,96.5 177.6,100.0 172.4,103.5 167.6,106.5 168.2,110.0 172.4,111.8 168.8,115.3 164.1,117.1 165.3,120.6 170.0,121.0 166.5,125.3 167.0,127.5 148.8,125.3 152.4,117.1 155.3,110.0 154.1,106.5 150.0,104.4 153.5,99.4" fill="#0f6cb6" stroke="#0f6cb6" stroke-width="0.35"/>
<polygon points="106.5,119.4 120.3,116.5 127.6,123.5 118.2,134.1 112.9,138.2 103.5,142.9 100.0,144.7 93.0,145.5 89.5,147.3 87.6,148.2 85.5,145.3 91.8,137.1 100.0,127.6" fill="#0f6cb6" stroke="#0f6cb6" stroke-width="0.35"/>
<polygon points="88.2,114.1 94.7,115.3 97.1,108.8 100.3,110.6 103.5,110.0 105.3,112.4 106.5,119.4 100.0,127.6 91.8,137.1 85.5,145.3 82.4,140.6 80.0,134.7 87.6,126.5 87.1,115.9" fill="#0f6cb6" stroke="#0f6cb6" stroke-width="0.35"/>
<polygon points="87.6,148.2 89.5,147.3 93.0,145.5 100.0,144.7 103.5,142.9 112.9,138.2 118.2,134.1 127.6,123.5 141.2,123.5 141.8,127.6 145.3,128.8 148.8,125.3 167.0,127.5 167.6,128.8 164.1,131.2 157.1,134.7 148.8,141.8 144.1,145.3 141.8,154.7 140.6,165.3 143.5,174.1 137.1,178.8 131.2,180.6 127.6,179.4 124.1,174.7 121.2,170.6 116.5,172.4 112.9,175.9 110.6,181.8 108.2,184.1 106.5,181.8 104.7,175.9 103.5,168.8 100.0,168.2 92.9,170.0 91.2,166.5 89.4,160.6 87.1,156.5 86.3,152.0 85.5,145.3" fill="#0f6cb6" stroke="#0f6cb6" stroke-width="0.35"/>
<polygon points="30.6,91.2 37.6,88.8 41.2,81.8 47.2,79.0 51.8,75.8 55.4,74.9 61.5,76.0 66.0,74.5 70.0,73.5 74.0,71.0 76.8,68.2 80.0,70.0 80.6,72.6 82.9,82.9 81.6,88.6 75.6,96.6 67.3,103.8 58.8,105.3 49.4,103.5 42.4,99.4 35.3,95.9" fill="#0f6cb6" stroke="#0f6cb6" stroke-width="0.35"/>
<path d="M113.5 16.5L115.9 17.6 M115.9 17.6L118.2 22.4 M118.2 22.4L121.8 24.7 M121.8 24.7L125.3 23.8 M125.3 23.8L127.1 23.5 M107.6 17.6L115.3 17.6 M115.3 17.6L118.2 21.8 M118.2 21.8L114.7 25.9 M114.7 25.9L105.3 27.1 M105.3 27.1L95.9 25.9 M95.9 25.9L92.6 22.4 M92.6 22.4L93.5 18.5 M121.8 24.7L125.3 23.8 M125.3 23.8L127.1 23.5 M127.6 34.1L125.3 40.0 M125.3 40.0L125.3 47.4 M125.3 47.4L119.4 51.8 M119.4 51.8L119.4 45.9 M119.4 45.9L120.0 35.3 M120.0 35.3L118.2 30.6 M118.2 30.6L114.7 25.9 M114.7 25.9L118.2 21.8 M118.2 21.8L121.8 24.7 M105.3 27.1L114.7 25.9 M114.7 25.9L118.2 30.6 M118.2 30.6L120.0 35.3 M120.0 35.3L119.4 45.9 M119.4 45.9L113.5 41.2 M113.5 41.2L105.3 35.3 M105.3 35.3L105.3 27.1 M101.8 38.8L105.3 35.3 M105.3 35.3L113.5 41.2 M113.5 41.2L119.4 45.9 M119.4 45.9L119.4 51.8 M119.4 51.8L113.5 54.7 M107.6 55.3L101.8 48.2 M101.8 48.2L101.8 38.8 M93.5 18.5L92.6 22.4 M92.6 22.4L95.9 25.9 M95.9 25.9L105.3 27.1 M105.3 27.1L105.3 35.3 M105.3 35.3L101.8 38.8 M101.8 38.8L101.0 35.0 M101.0 35.0L89.4 37.1 M89.4 37.1L75.3 42.4 M75.3 42.4L69.4 45.9 M69.4 45.9L75.3 42.4 M75.3 42.4L89.4 37.1 M89.4 37.1L101.0 35.0 M101.0 35.0L101.8 38.8 M101.8 38.8L101.8 48.2 M101.8 48.2L107.6 55.3 M113.5 54.7L115.3 63.5 M115.3 63.5L105.3 67.6 M105.3 67.6L104.7 75.3 M104.7 75.3L97.0 74.7 M97.0 74.7L92.9 71.8 M92.9 71.8L89.4 71.8 M113.5 54.7L119.4 51.8 M119.4 51.8L125.3 47.4 M125.3 47.4L132.4 52.9 M132.4 52.9L134.7 57.6 M134.7 57.6L132.4 61.2 M132.4 61.2L131.8 70.6 M131.8 70.6L130.0 76.5 M130.0 76.5L127.6 78.2 M127.6 78.2L125.3 75.3 M125.3 75.3L118.2 69.4 M118.2 69.4L115.3 63.5 M115.3 63.5L113.5 54.7 M153.5 55.3L143.0 55.9 M143.0 55.9L137.1 57.6 M137.1 57.6L134.7 57.6 M134.7 57.6L132.4 52.9 M132.4 52.9L125.3 47.4 M125.3 47.4L125.3 40.0 M125.3 40.0L127.6 34.1 M134.7 57.6L137.1 57.6 M137.1 57.6L143.0 55.9 M143.0 55.9L146.5 63.5 M146.5 63.5L144.1 69.4 M144.1 69.4L146.0 76.0 M146.0 76.0L147.6 81.8 M147.6 81.8L139.4 87.6 M139.4 87.6L134.7 80.6 M134.7 80.6L128.8 78.8 M128.8 78.8L127.6 78.2 M127.6 78.2L130.0 76.5 M130.0 76.5L131.8 70.6 M131.8 70.6L132.4 61.2 M132.4 61.2L134.7 57.6 M143.0 55.9L153.5 55.3 M164.1 62.1L161.8 74.1 M161.8 74.1L162.9 74.7 M162.9 74.7L153.5 82.4 M153.5 82.4L147.6 81.8 M147.6 81.8L146.0 76.0 M146.0 76.0L144.1 69.4 M144.1 69.4L146.5 63.5 M146.5 63.5L143.0 55.9 M182.9 85.3L181.0 85.8 M181.0 85.8L172.4 80.0 M172.4 80.0L162.9 74.7 M162.9 74.7L161.8 74.1 M161.8 74.1L164.1 62.1 M162.9 74.7L172.4 80.0 M172.4 80.0L181.0 85.8 M181.0 85.8L182.9 85.3 M174.7 94.7L157.1 95.9 M157.1 95.9L155.3 88.8 M155.3 88.8L153.5 82.4 M153.5 82.4L162.9 74.7 M139.4 87.6L147.6 81.8 M147.6 81.8L153.5 82.4 M153.5 82.4L155.3 88.8 M155.3 88.8L157.1 95.9 M157.1 95.9L153.5 99.4 M153.5 99.4L150.0 104.4 M150.0 104.4L139.4 111.2 M139.4 111.2L132.9 110.2 M132.9 110.2L136.5 100.6 M136.5 100.6L138.2 91.5 M138.2 91.5L139.4 87.6 M123.5 81.8L128.8 78.8 M128.8 78.8L134.7 80.6 M134.7 80.6L139.4 87.6 M139.4 87.6L138.2 91.5 M138.2 91.5L120.6 98.5 M120.6 98.5L119.4 93.5 M119.4 93.5L119.4 84.7 M119.4 84.7L123.5 81.8 M120.6 98.5L138.2 91.5 M138.2 91.5L136.5 100.6 M136.5 100.6L132.9 110.2 M132.9 110.2L121.2 110.0 M121.2 110.0L120.0 102.9 M120.0 102.9L120.6 98.5 M105.3 67.6L115.3 63.5 M115.3 63.5L118.2 69.4 M118.2 69.4L125.3 75.3 M125.3 75.3L127.6 78.2 M127.6 78.2L128.8 78.8 M128.8 78.8L123.5 81.8 M123.5 81.8L119.4 84.7 M119.4 84.7L106.5 84.7 M106.5 84.7L105.3 84.1 M105.3 84.1L103.5 78.2 M103.5 78.2L104.7 75.3 M104.7 75.3L105.3 67.6 M94.1 77.1L103.5 78.2 M103.5 78.2L105.3 84.1 M105.3 84.1L106.5 84.7 M106.5 84.7L107.6 88.2 M107.6 88.2L104.1 91.2 M104.1 91.2L102.6 96.8 M102.6 96.8L95.6 98.2 M95.6 98.2L91.2 94.4 M107.6 88.2L106.5 84.7 M106.5 84.7L119.4 84.7 M119.4 84.7L119.4 93.5 M119.4 93.5L116.5 99.4 M116.5 99.4L112.4 93.5 M112.4 93.5L107.6 88.2 M95.6 98.2L102.6 96.8 M102.6 96.8L104.1 91.2 M104.1 91.2L107.6 88.2 M107.6 88.2L112.4 93.5 M112.4 93.5L116.5 99.4 M116.5 99.4L119.4 93.5 M119.4 93.5L120.6 98.5 M120.6 98.5L120.0 102.9 M120.0 102.9L104.4 105.3 M104.4 105.3L103.5 110.0 M103.5 110.0L100.3 110.6 M100.3 110.6L97.1 108.8 M97.1 108.8L95.6 104.1 M95.6 104.1L95.6 98.2 M91.2 94.4L95.6 98.2 M95.6 98.2L95.6 104.1 M95.6 104.1L97.1 108.8 M97.1 108.8L94.7 115.3 M94.7 115.3L88.2 114.1 M104.4 105.3L120.0 102.9 M120.0 102.9L121.2 110.0 M121.2 110.0L120.3 116.5 M120.3 116.5L106.5 119.4 M106.5 119.4L105.3 112.4 M105.3 112.4L104.4 105.3 M121.2 110.0L132.9 110.2 M132.9 110.2L139.4 111.2 M139.4 111.2L139.4 114.7 M139.4 114.7L141.2 123.5 M141.2 123.5L127.6 123.5 M127.6 123.5L120.3 116.5 M120.3 116.5L121.2 110.0 M139.4 111.2L150.0 104.4 M150.0 104.4L154.1 106.5 M154.1 106.5L155.3 110.0 M155.3 110.0L152.4 117.1 M152.4 117.1L148.8 125.3 M148.8 125.3L145.3 128.8 M145.3 128.8L141.8 127.6 M141.8 127.6L141.2 123.5 M141.2 123.5L139.4 114.7 M139.4 114.7L139.4 111.2 M157.1 95.9L174.7 94.7 M148.8 125.3L152.4 117.1 M152.4 117.1L155.3 110.0 M155.3 110.0L154.1 106.5 M154.1 106.5L150.0 104.4 M150.0 104.4L153.5 99.4 M153.5 99.4L157.1 95.9 M106.5 119.4L120.3 116.5 M120.3 116.5L127.6 123.5 M127.6 123.5L118.2 134.1 M118.2 134.1L112.9 138.2 M112.9 138.2L103.5 142.9 M103.5 142.9L100.0 144.7 M100.0 144.7L93.0 145.5 M93.0 145.5L89.5 147.3 M89.5 147.3L87.6 148.2 M85.5 145.3L91.8 137.1 M91.8 137.1L100.0 127.6 M100.0 127.6L106.5 119.4 M88.2 114.1L94.7 115.3 M94.7 115.3L97.1 108.8 M97.1 108.8L100.3 110.6 M100.3 110.6L103.5 110.0 M103.5 110.0L105.3 112.4 M105.3 112.4L106.5 119.4 M106.5 119.4L100.0 127.6 M100.0 127.6L91.8 137.1 M91.8 137.1L85.5 145.3 M87.6 148.2L89.5 147.3 M89.5 147.3L93.0 145.5 M93.0 145.5L100.0 144.7 M100.0 144.7L103.5 142.9 M103.5 142.9L112.9 138.2 M112.9 138.2L118.2 134.1 M118.2 134.1L127.6 123.5 M127.6 123.5L141.2 123.5 M141.2 123.5L141.8 127.6 M141.8 127.6L145.3 128.8 M145.3 128.8L148.8 125.3 M80.6 72.6L82.9 82.9 M82.9 82.9L81.6 88.6 M81.6 88.6L75.6 96.6 M75.6 96.6L67.3 103.8 M67.3 103.8L58.8 105.3 M58.8 105.3L49.4 103.5 M49.4 103.5L42.4 99.4 M42.4 99.4L35.3 95.9 M35.3 95.9L30.6 91.2" fill="none" stroke="#d3d5d8" stroke-width="1.2" stroke-linecap="round"/>
<polygon points="125.9,5.3 127.1,23.5 127.6,34.1 137.1,38.8 145.3,44.1 151.2,50.6 153.5,55.3 158.2,60.0 165.3,61.8 174.7,61.2 180.6,64.7 184.1,70.6 184.7,76.0 181.8,81.8 182.9,85.3 184.1,87.6 180.6,91.2 174.7,94.7 172.4,96.5 177.6,100.0 172.4,103.5 167.6,106.5 168.2,110.0 172.4,111.8 168.8,115.3 164.1,117.1 165.3,120.6 170.0,121.0 166.5,125.3 167.6,128.8 164.1,131.2 157.1,134.7 148.8,141.8 144.1,145.3 141.8,154.7 140.6,165.3 143.5,174.1 137.1,178.8 131.2,180.6 127.6,179.4 124.1,174.7 121.2,170.6 116.5,172.4 112.9,175.9 110.6,181.8 108.2,184.1 106.5,181.8 104.7,175.9 103.5,168.8 100.0,168.2 92.9,170.0 91.2,166.5 89.4,160.6 87.1,156.5 76.5,156.5 67.1,157.1 61.2,158.8 51.8,157.1 41.2,153.5 42.4,147.6 37.6,148.2 34.7,146.5 35.3,139.4 32.4,132.4 33.5,127.6 29.4,120.6 28.8,114.7 25.3,111.2 26.5,105.3 28.2,100.6 25.3,98.2 25.9,94.7 30.6,91.2 37.6,88.8 41.2,81.8 47.2,79.0 51.8,75.8 55.4,74.9 61.5,76.0 66.0,74.5 70.0,73.5 74.0,71.0 76.8,68.2 80.0,70.0 81.5,72.9 89.4,71.8 88.8,69.4 89.4,64.7 91.8,61.2 82.4,54.1 69.4,45.9 61.8,40.0 70.6,35.3 75.3,30.6 69.4,28.2 76.5,23.5 82.4,21.2 84.7,17.6 88.2,12.9 92.9,14.1 93.5,18.5 107.6,17.6 112.9,16.0 113.5,11.8 121.8,9.4" fill="none" stroke="#a3a6ac" stroke-width="1" stroke-linejoin="round"/>
<g fill="none" stroke="#5a5a5e" stroke-width="0.6" stroke-dasharray="1.8 1.5" stroke-opacity="0.8">
<polyline points="90.2,61.5 96.4,58.5 105.9,56.0 113.5,54.7 119.4,51.8 125.3,47.4 132.4,52.9 134.7,57.6 137.1,57.6 143.0,55.9 153.5,55.3"/>
<polyline points="96.4,58.5 98.4,67.7 100.5,73.8 96.4,76.9 90.2,79.0 88.2,79.4 89.4,87.6 91.2,94.4 87.1,95.9 84.1,99.4 84.1,104.1 86.5,108.8 88.2,114.1 87.1,115.9 87.6,126.5 80.0,134.7 82.4,140.6 85.5,145.3 86.3,152.0 87.1,156.5"/>
<polyline points="104.7,75.3 110.7,81.0 116.9,88.2 119.4,93.5 120.6,98.5 120.0,102.9 121.2,110.0 132.9,110.2 139.4,111.2 139.4,114.7 141.2,123.5 141.8,127.6 145.3,128.8 148.8,125.3 167.0,127.5"/>
</g>
<g font-family="'Liberation Sans',sans-serif" text-anchor="middle">
<g font-size="7.05" fill="#6c6c70">
<text x="45.8" y="14.00">HYDERABAD</text>
<text x="164.1" y="32.00">MIRPUR KHAS</text>
<text x="38.4" y="52.00">TANDO</text>
<text x="38.4" y="59.00">MUHAMMAD</text>
<text x="38.4" y="66.00">KHAN</text>
<text x="37.6" y="174.00">THATTA</text>
<text x="180.2" y="152.00">THARPARKAR</text>
</g>
<text x="148.0" y="190.00" font-size="9.1" fill="#c3c3c6">INDIA</text>
<g font-size="7.15" fill="#b9bdc5" fill-opacity="0.95">
<text x="96.8" y="41.00" font-size="7.5">Matli</text>
<text x="144.9" y="82.00" font-size="7.5">Tando Bago</text>
<text x="54.8" y="109.00" font-size="7.2">Shaheed Fazal</text>
<text x="56.3" y="115.00" font-size="7.2">Rahu</text>
<text x="113.2" y="142.00" font-size="7.5">Badin</text>
</g>
<g font-size="4.45" fill="#6e6e72">
<text x="121.0" y="17.00">Halepota</text>
<text x="100.1" y="22.00">Ghulam Shah</text>
<text x="104.1" y="26.00">Laghari</text>
<text x="121.7" y="31.00">Dumbalo</text>
<text x="87.1" y="33.00">Malhan</text>
<text x="114.6" y="36.00">Tando</text>
<text x="114.6" y="40.00">Ghulam</text>
<text x="114.6" y="44.00">Ali</text>
<text x="86.2" y="48.00">Haji</text>
<text x="87.1" y="53.00">Sanwal</text>
<text x="109.3" y="52.00">Thari</text>
<text x="139.5" y="46.00">Budho</text>
<text x="138.6" y="51.00">Qambrani</text>
<text x="104.7" y="64.00">Talhar</text>
<text x="124.7" y="61.00">Rajo</text>
<text x="124.7" y="66.00">Khanani</text>
<text x="153.1" y="69.00">Dadah</text>
<text x="139.2" y="75.00">Khadro</text>
<text x="174.1" y="75.00">Khairpur</text>
<text x="114.9" y="80.00">Saeedpur</text>
<text x="97.9" y="85.00">Peero</text>
<text x="97.9" y="89.00">Lashari</text>
<text x="128.4" y="87.00">Tando</text>
<text x="128.4" y="91.00">Bagho</text>
<text x="167.0" y="88.00">Pangrio</text>
<text x="60.1" y="92.00">Kario</text>
<text x="145.4" y="95.00">Khalifo</text>
<text x="145.4" y="100.00">Qasim</text>
<text x="163.3" y="101.00">Dai</text>
<text x="162.7" y="105.00">Jarkas</text>
<text x="106.9" y="103.00">Badin 1</text>
<text x="127.8" y="102.00">Pahar</text>
<text x="127.2" y="107.00">Mari</text>
<text x="90.8" y="107.00">Kadiwala</text>
<text x="113.0" y="111.00">Badin</text>
<text x="113.0" y="115.00">2</text>
<text x="130.9" y="117.00">Nindo</text>
<text x="130.9" y="121.00">Shahar</text>
<text x="146.9" y="118.00">Khoski</text>
<text x="93.3" y="122.00">Muhammad</text>
<text x="93.3" y="127.00">Khan</text>
<text x="93.3" y="131.00">Bhurgari</text>
<text x="112.4" y="127.00">Luwari</text>
<text x="112.4" y="131.00">Sharif</text>
<text x="56.0" y="135.00">Ghari</text>
<text x="118.0" y="156.00">Kadhan</text>
</g>
</g>
</g>
<rect x="0.5" y="0.5" width="209" height="192.00" fill="none" stroke="#9d9da1" stroke-width="1"/>
</svg>
<rect x="581.00" y="59.05" width="211.40" height="14.75" fill="#6d6e70"/>
<svg x="806.10" y="72.60" width="210" height="194.70" overflow="hidden">
<g transform="translate(-1.00 1.70)">
<rect x="-3" y="-3" width="216" height="199" fill="#f6f6f6"/>
<polygon points="92.6,165.0 143.5,174.1 151.2,175.9 160.6,179.4 164.1,179.4 172.4,175.9 179.4,173.5 187.6,174.7 195.9,174.5 202.9,173.5 208.8,174.7 213.0,175.3 213.0,196.0 92.6,196.0" fill="#e2e2e4"/>
<g fill="none" stroke="#a9a9ad" stroke-width="1.05" stroke-linejoin="round">
<polyline points="-3.0,5.1 7.0,5.9 15.3,7.0 22.4,5.9 23.5,4.7 21.2,0.0"/>
<polyline points="23.5,4.7 20.6,10.6 21.2,15.3 22.4,20.0 25.3,23.5 25.3,30.6 22.9,32.9 15.3,34.1 11.8,36.5 10.0,43.5 9.4,55.3 11.8,58.8 17.6,64.7 17.0,67.0 11.8,70.6 10.0,73.0 11.8,76.0 15.3,81.2 16.5,85.3 24.7,91.8 25.9,94.7"/>
<polyline points="22.4,20.0 27.1,23.5 34.1,26.5 38.8,25.3 43.5,24.7 49.4,27.6 55.3,27.1 58.8,22.4 62.4,23.5 65.9,20.0 66.5,15.3 71.8,14.7 72.4,11.8 75.3,8.8 81.2,7.6 84.7,9.4 88.2,12.9"/>
<polyline points="63.5,0.0 67.6,3.5 68.8,8.2 67.6,14.7"/>
<polyline points="184.6,0.0 190.7,8.2 192.5,18.0 194.8,30.8 197.9,45.1 205.0,55.4 209.0,59.5 213.0,66.0"/>
<polyline points="184.1,87.6 195.9,81.2 202.9,78.2 213.0,74.2"/>
<polyline points="143.5,174.1 151.2,175.9 160.6,179.4 164.1,179.4 172.4,175.9 179.4,173.5 187.6,174.7 195.9,174.5 202.9,173.5 208.8,174.7 213.0,175.3" stroke="#a0a0a4" stroke-width="1.3"/>
<polyline points="92.6,170.0 92.6,196.0" stroke="#a0a0a4" stroke-width="1.3"/>
</g>
<g fill="none" stroke="#66666a" stroke-width="0.7" stroke-dasharray="1.9 1.4">
<polyline points="34.1,0.0 35.3,5.9"/>
<polyline points="47.1,15.3 44.1,18.8 43.5,24.7"/>
<polyline points="49.4,27.6 51.8,31.8 52.9,34.7 48.2,36.5 45.9,41.2 48.2,45.9 50.6,47.1"/>
<polyline points="64.7,44.7 65.9,50.6 64.7,56.5 61.2,59.4 51.8,63.5 50.6,65.9 54.1,68.8 49.4,72.9 47.1,77.6"/>
<polyline points="0.0,62.4 7.0,57.6 9.4,56.5"/>
<polyline points="0.0,113.5 5.9,118.2 17.6,119.4 28.8,117.1"/>
<polyline points="5.9,118.2 4.7,121.8 0.0,123.5"/>
<polyline points="126.5,1.8 142.9,2.4 143.5,1.2"/>
<polyline points="142.9,2.4 144.1,11.8 147.6,15.3 159.4,17.6 160.6,23.5 165.3,31.8 172.4,39.4 179.4,40.0 190.0,36.5 195.9,32.9 208.8,24.7"/>
<polyline points="172.4,39.4 173.5,44.7 167.6,48.2 160.6,50.6 159.4,54.1 164.1,57.6 171.2,57.6 172.4,54.1 174.1,58.8"/>
<polyline points="197.0,81.2 202.9,82.9 210.0,84.1"/>
</g>
<polygon points="125.9,5.3 127.1,23.5 127.6,34.1 137.1,38.8 145.3,44.1 151.2,50.6 153.5,55.3 158.2,60.0 165.3,61.8 174.7,61.2 180.6,64.7 184.1,70.6 184.7,76.0 181.8,81.8 182.9,85.3 184.1,87.6 180.6,91.2 174.7,94.7 172.4,96.5 177.6,100.0 172.4,103.5 167.6,106.5 168.2,110.0 172.4,111.8 168.8,115.3 164.1,117.1 165.3,120.6 170.0,121.0 166.5,125.3 167.6,128.8 164.1,131.2 157.1,134.7 148.8,141.8 144.1,145.3 141.8,154.7 140.6,165.3 143.5,174.1 137.1,178.8 131.2,180.6 127.6,179.4 124.1,174.7 121.2,170.6 116.5,172.4 112.9,175.9 110.6,181.8 108.2,184.1 106.5,181.8 104.7,175.9 103.5,168.8 100.0,168.2 92.9,170.0 91.2,166.5 89.4,160.6 87.1,156.5 76.5,156.5 67.1,157.1 61.2,158.8 51.8,157.1 41.2,153.5 42.4,147.6 37.6,148.2 34.7,146.5 35.3,139.4 32.4,132.4 33.5,127.6 29.4,120.6 28.8,114.7 25.3,111.2 26.5,105.3 28.2,100.6 25.3,98.2 25.9,94.7 30.6,91.2 37.6,88.8 41.2,81.8 47.2,79.0 51.8,75.8 55.4,74.9 61.5,76.0 66.0,74.5 70.0,73.5 74.0,71.0 76.8,68.2 80.0,70.0 81.5,72.9 89.4,71.8 88.8,69.4 89.4,64.7 91.8,61.2 82.4,54.1 69.4,45.9 61.8,40.0 70.6,35.3 75.3,30.6 69.4,28.2 76.5,23.5 82.4,21.2 84.7,17.6 88.2,12.9 92.9,14.1 93.5,18.5 107.6,17.6 112.9,16.0 113.5,11.8 121.8,9.4" fill="#c8d7f0" stroke="#a3a6ac" stroke-width="1.3" stroke-linejoin="round"/>
<polygon points="125.9,5.3 121.8,9.4 113.5,11.8 113.5,16.5 115.9,17.6 118.2,22.4 121.8,24.7 125.3,23.8 127.1,23.5" fill="#c8d7f0" stroke="#c8d7f0" stroke-width="0.35"/>
<polygon points="93.5,18.5 107.6,17.6 115.3,17.6 118.2,21.8 114.7,25.9 105.3,27.1 95.9,25.9 92.6,22.4" fill="#c8d7f0" stroke="#c8d7f0" stroke-width="0.35"/>
<polygon points="121.8,24.7 125.3,23.8 127.1,23.5 127.6,34.1 125.3,40.0 125.3,47.4 119.4,51.8 119.4,45.9 120.0,35.3 118.2,30.6 114.7,25.9 118.2,21.8" fill="#c8d7f0" stroke="#c8d7f0" stroke-width="0.35"/>
<polygon points="105.3,27.1 114.7,25.9 118.2,30.6 120.0,35.3 119.4,45.9 113.5,41.2 105.3,35.3" fill="#c8d7f0" stroke="#c8d7f0" stroke-width="0.35"/>
<polygon points="101.8,38.8 105.3,35.3 113.5,41.2 119.4,45.9 119.4,51.8 113.5,54.7 107.6,55.3 101.8,48.2" fill="#c8d7f0" stroke="#c8d7f0" stroke-width="0.35"/>
<polygon points="88.2,12.9 92.9,14.1 93.5,18.5 92.6,22.4 95.9,25.9 105.3,27.1 105.3,35.3 101.8,38.8 101.0,35.0 89.4,37.1 75.3,42.4 69.4,45.9 61.8,40.0 70.6,35.3 75.3,30.6 69.4,28.2 76.5,23.5 82.4,21.2 84.7,17.6" fill="#c8d7f0" stroke="#c8d7f0" stroke-width="0.35"/>
<polygon points="69.4,45.9 75.3,42.4 89.4,37.1 101.0,35.0 101.8,38.8 101.8,48.2 107.6,55.3 100.0,57.0 91.8,61.2 82.4,54.1" fill="#c8d7f0" stroke="#c8d7f0" stroke-width="0.35"/>
<polygon points="91.8,61.2 100.0,57.0 107.6,55.3 113.5,54.7 115.3,63.5 105.3,67.6 104.7,75.3 97.0,74.7 92.9,71.8 89.4,71.8 88.8,69.4 89.4,64.7" fill="#c8d7f0" stroke="#c8d7f0" stroke-width="0.35"/>
<polygon points="113.5,54.7 119.4,51.8 125.3,47.4 132.4,52.9 134.7,57.6 132.4,61.2 131.8,70.6 130.0,76.5 127.6,78.2 125.3,75.3 118.2,69.4 115.3,63.5" fill="#c8d7f0" stroke="#c8d7f0" stroke-width="0.35"/>
<polygon points="127.6,34.1 137.1,38.8 145.3,44.1 151.2,50.6 153.5,55.3 143.0,55.9 137.1,57.6 134.7,57.6 132.4,52.9 125.3,47.4 125.3,40.0" fill="#c8d7f0" stroke="#c8d7f0" stroke-width="0.35"/>
<polygon points="134.7,57.6 137.1,57.6 143.0,55.9 146.5,63.5 144.1,69.4 146.0,76.0 147.6,81.8 139.4,87.6 134.7,80.6 128.8,78.8 127.6,78.2 130.0,76.5 131.8,70.6 132.4,61.2" fill="#6497d5" stroke="#6497d5" stroke-width="0.35"/>
<polygon points="143.0,55.9 153.5,55.3 158.2,60.0 164.1,62.1 161.8,74.1 162.9,74.7 153.5,82.4 147.6,81.8 146.0,76.0 144.1,69.4 146.5,63.5" fill="#c8d7f0" stroke="#c8d7f0" stroke-width="0.35"/>
<polygon points="164.1,62.1 165.3,61.8 174.7,61.2 180.6,64.7 184.1,70.6 184.7,76.0 181.8,81.8 182.9,85.3 181.0,85.8 172.4,80.0 162.9,74.7 161.8,74.1" fill="#6497d5" stroke="#6497d5" stroke-width="0.35"/>
<polygon points="162.9,74.7 172.4,80.0 181.0,85.8 182.9,85.3 184.1,87.6 180.6,91.2 174.7,94.7 157.1,95.9 155.3,88.8 153.5,82.4" fill="#6497d5" stroke="#6497d5" stroke-width="0.35"/>
<polygon points="139.4,87.6 147.6,81.8 153.5,82.4 155.3,88.8 157.1,95.9 153.5,99.4 150.0,104.4 139.4,111.2 132.9,110.2 136.5,100.6 138.2,91.5" fill="#6497d5" stroke="#6497d5" stroke-width="0.35"/>
<polygon points="123.5,81.8 128.8,78.8 134.7,80.6 139.4,87.6 138.2,91.5 120.6,98.5 119.4,93.5 119.4,84.7" fill="#c8d7f0" stroke="#c8d7f0" stroke-width="0.35"/>
<polygon points="120.6,98.5 138.2,91.5 136.5,100.6 132.9,110.2 121.2,110.0 120.0,102.9" fill="#c8d7f0" stroke="#c8d7f0" stroke-width="0.35"/>
<polygon points="105.3,67.6 115.3,63.5 118.2,69.4 125.3,75.3 127.6,78.2 128.8,78.8 123.5,81.8 119.4,84.7 106.5,84.7 105.3,84.1 103.5,78.2 104.7,75.3" fill="#c8d7f0" stroke="#c8d7f0" stroke-width="0.35"/>
<polygon points="88.2,79.4 94.1,77.1 103.5,78.2 105.3,84.1 106.5,84.7 107.6,88.2 104.1,91.2 102.6,96.8 95.6,98.2 91.2,94.4 89.4,87.6" fill="#c8d7f0" stroke="#c8d7f0" stroke-width="0.35"/>
<polygon points="107.6,88.2 106.5,84.7 119.4,84.7 119.4,93.5 116.5,99.4 112.4,93.5" fill="#c8d7f0" stroke="#c8d7f0" stroke-width="0.35"/>
<polygon points="95.6,98.2 102.6,96.8 104.1,91.2 107.6,88.2 112.4,93.5 116.5,99.4 119.4,93.5 120.6,98.5 120.0,102.9 104.4,105.3 103.5,110.0 100.3,110.6 97.1,108.8 95.6,104.1" fill="#c8d7f0" stroke="#c8d7f0" stroke-width="0.35"/>
<polygon points="87.1,95.9 91.2,94.4 95.6,98.2 95.6,104.1 97.1,108.8 94.7,115.3 88.2,114.1 86.5,108.8 84.1,104.1 84.1,99.4" fill="#c8d7f0" stroke="#c8d7f0" stroke-width="0.35"/>
<polygon points="104.4,105.3 120.0,102.9 121.2,110.0 120.3,116.5 106.5,119.4 105.3,112.4" fill="#c8d7f0" stroke="#c8d7f0" stroke-width="0.35"/>
<polygon points="121.2,110.0 132.9,110.2 139.4,111.2 139.4,114.7 141.2,123.5 127.6,123.5 120.3,116.5" fill="#c8d7f0" stroke="#c8d7f0" stroke-width="0.35"/>
<polygon points="139.4,111.2 150.0,104.4 154.1,106.5 155.3,110.0 152.4,117.1 148.8,125.3 145.3,128.8 141.8,127.6 141.2,123.5 139.4,114.7" fill="#6497d5" stroke="#6497d5" stroke-width="0.35"/>
<polygon points="157.1,95.9 174.7,94.7 172.4,96.5 177.6,100.0 172.4,103.5 167.6,106.5 168.2,110.0 172.4,111.8 168.8,115.3 164.1,117.1 165.3,120.6 170.0,121.0 166.5,125.3 167.0,127.5 148.8,125.3 152.4,117.1 155.3,110.0 154.1,106.5 150.0,104.4 153.5,99.4" fill="#c8d7f0" stroke="#c8d7f0" stroke-width="0.35"/>
<polygon points="106.5,119.4 120.3,116.5 127.6,123.5 118.2,134.1 112.9,138.2 103.5,142.9 100.0,144.7 93.0,145.5 89.5,147.3 87.6,148.2 85.5,145.3 91.8,137.1 100.0,127.6" fill="#c8d7f0" stroke="#c8d7f0" stroke-width="0.35"/>
<polygon points="88.2,114.1 94.7,115.3 97.1,108.8 100.3,110.6 103.5,110.0 105.3,112.4 106.5,119.4 100.0,127.6 91.8,137.1 85.5,145.3 82.4,140.6 80.0,134.7 87.6,126.5 87.1,115.9" fill="#c8d7f0" stroke="#c8d7f0" stroke-width="0.35"/>
<polygon points="87.6,148.2 89.5,147.3 93.0,145.5 100.0,144.7 103.5,142.9 112.9,138.2 118.2,134.1 127.6,123.5 141.2,123.5 141.8,127.6 145.3,128.8 148.8,125.3 167.0,127.5 167.6,128.8 164.1,131.2 157.1,134.7 148.8,141.8 144.1,145.3 141.8,154.7 140.6,165.3 143.5,174.1 137.1,178.8 131.2,180.6 127.6,179.4 124.1,174.7 121.2,170.6 116.5,172.4 112.9,175.9 110.6,181.8 108.2,184.1 106.5,181.8 104.7,175.9 103.5,168.8 100.0,168.2 92.9,170.0 91.2,166.5 89.4,160.6 87.1,156.5 86.3,152.0 85.5,145.3" fill="#c8d7f0" stroke="#c8d7f0" stroke-width="0.35"/>
<polygon points="30.6,91.2 37.6,88.8 41.2,81.8 47.2,79.0 51.8,75.8 55.4,74.9 61.5,76.0 66.0,74.5 70.0,73.5 74.0,71.0 76.8,68.2 80.0,70.0 80.6,72.6 82.9,82.9 81.6,88.6 75.6,96.6 67.3,103.8 58.8,105.3 49.4,103.5 42.4,99.4 35.3,95.9" fill="#c8d7f0" stroke="#c8d7f0" stroke-width="0.35"/>
<path d="M113.5 16.5L115.9 17.6 M115.9 17.6L118.2 22.4 M118.2 22.4L121.8 24.7 M121.8 24.7L125.3 23.8 M125.3 23.8L127.1 23.5 M107.6 17.6L115.3 17.6 M115.3 17.6L118.2 21.8 M118.2 21.8L114.7 25.9 M114.7 25.9L105.3 27.1 M105.3 27.1L95.9 25.9 M95.9 25.9L92.6 22.4 M92.6 22.4L93.5 18.5 M121.8 24.7L125.3 23.8 M125.3 23.8L127.1 23.5 M127.6 34.1L125.3 40.0 M125.3 40.0L125.3 47.4 M125.3 47.4L119.4 51.8 M119.4 51.8L119.4 45.9 M119.4 45.9L120.0 35.3 M120.0 35.3L118.2 30.6 M118.2 30.6L114.7 25.9 M114.7 25.9L118.2 21.8 M118.2 21.8L121.8 24.7 M105.3 27.1L114.7 25.9 M114.7 25.9L118.2 30.6 M118.2 30.6L120.0 35.3 M120.0 35.3L119.4 45.9 M119.4 45.9L113.5 41.2 M113.5 41.2L105.3 35.3 M105.3 35.3L105.3 27.1 M101.8 38.8L105.3 35.3 M105.3 35.3L113.5 41.2 M113.5 41.2L119.4 45.9 M119.4 45.9L119.4 51.8 M119.4 51.8L113.5 54.7 M107.6 55.3L101.8 48.2 M101.8 48.2L101.8 38.8 M93.5 18.5L92.6 22.4 M92.6 22.4L95.9 25.9 M95.9 25.9L105.3 27.1 M105.3 27.1L105.3 35.3 M105.3 35.3L101.8 38.8 M101.8 38.8L101.0 35.0 M101.0 35.0L89.4 37.1 M89.4 37.1L75.3 42.4 M75.3 42.4L69.4 45.9 M69.4 45.9L75.3 42.4 M75.3 42.4L89.4 37.1 M89.4 37.1L101.0 35.0 M101.0 35.0L101.8 38.8 M101.8 38.8L101.8 48.2 M101.8 48.2L107.6 55.3 M113.5 54.7L115.3 63.5 M115.3 63.5L105.3 67.6 M105.3 67.6L104.7 75.3 M104.7 75.3L97.0 74.7 M97.0 74.7L92.9 71.8 M92.9 71.8L89.4 71.8 M113.5 54.7L119.4 51.8 M119.4 51.8L125.3 47.4 M125.3 47.4L132.4 52.9 M132.4 52.9L134.7 57.6 M134.7 57.6L132.4 61.2 M132.4 61.2L131.8 70.6 M131.8 70.6L130.0 76.5 M130.0 76.5L127.6 78.2 M127.6 78.2L125.3 75.3 M125.3 75.3L118.2 69.4 M118.2 69.4L115.3 63.5 M115.3 63.5L113.5 54.7 M153.5 55.3L143.0 55.9 M143.0 55.9L137.1 57.6 M137.1 57.6L134.7 57.6 M134.7 57.6L132.4 52.9 M132.4 52.9L125.3 47.4 M125.3 47.4L125.3 40.0 M125.3 40.0L127.6 34.1 M134.7 57.6L137.1 57.6 M137.1 57.6L143.0 55.9 M143.0 55.9L146.5 63.5 M146.5 63.5L144.1 69.4 M144.1 69.4L146.0 76.0 M146.0 76.0L147.6 81.8 M147.6 81.8L139.4 87.6 M139.4 87.6L134.7 80.6 M134.7 80.6L128.8 78.8 M128.8 78.8L127.6 78.2 M127.6 78.2L130.0 76.5 M130.0 76.5L131.8 70.6 M131.8 70.6L132.4 61.2 M132.4 61.2L134.7 57.6 M143.0 55.9L153.5 55.3 M164.1 62.1L161.8 74.1 M161.8 74.1L162.9 74.7 M162.9 74.7L153.5 82.4 M153.5 82.4L147.6 81.8 M147.6 81.8L146.0 76.0 M146.0 76.0L144.1 69.4 M144.1 69.4L146.5 63.5 M146.5 63.5L143.0 55.9 M182.9 85.3L181.0 85.8 M181.0 85.8L172.4 80.0 M172.4 80.0L162.9 74.7 M162.9 74.7L161.8 74.1 M161.8 74.1L164.1 62.1 M162.9 74.7L172.4 80.0 M172.4 80.0L181.0 85.8 M181.0 85.8L182.9 85.3 M174.7 94.7L157.1 95.9 M157.1 95.9L155.3 88.8 M155.3 88.8L153.5 82.4 M153.5 82.4L162.9 74.7 M139.4 87.6L147.6 81.8 M147.6 81.8L153.5 82.4 M153.5 82.4L155.3 88.8 M155.3 88.8L157.1 95.9 M157.1 95.9L153.5 99.4 M153.5 99.4L150.0 104.4 M150.0 104.4L139.4 111.2 M139.4 111.2L132.9 110.2 M132.9 110.2L136.5 100.6 M136.5 100.6L138.2 91.5 M138.2 91.5L139.4 87.6 M123.5 81.8L128.8 78.8 M128.8 78.8L134.7 80.6 M134.7 80.6L139.4 87.6 M139.4 87.6L138.2 91.5 M138.2 91.5L120.6 98.5 M120.6 98.5L119.4 93.5 M119.4 93.5L119.4 84.7 M119.4 84.7L123.5 81.8 M120.6 98.5L138.2 91.5 M138.2 91.5L136.5 100.6 M136.5 100.6L132.9 110.2 M132.9 110.2L121.2 110.0 M121.2 110.0L120.0 102.9 M120.0 102.9L120.6 98.5 M105.3 67.6L115.3 63.5 M115.3 63.5L118.2 69.4 M118.2 69.4L125.3 75.3 M125.3 75.3L127.6 78.2 M127.6 78.2L128.8 78.8 M128.8 78.8L123.5 81.8 M123.5 81.8L119.4 84.7 M119.4 84.7L106.5 84.7 M106.5 84.7L105.3 84.1 M105.3 84.1L103.5 78.2 M103.5 78.2L104.7 75.3 M104.7 75.3L105.3 67.6 M94.1 77.1L103.5 78.2 M103.5 78.2L105.3 84.1 M105.3 84.1L106.5 84.7 M106.5 84.7L107.6 88.2 M107.6 88.2L104.1 91.2 M104.1 91.2L102.6 96.8 M102.6 96.8L95.6 98.2 M95.6 98.2L91.2 94.4 M107.6 88.2L106.5 84.7 M106.5 84.7L119.4 84.7 M119.4 84.7L119.4 93.5 M119.4 93.5L116.5 99.4 M116.5 99.4L112.4 93.5 M112.4 93.5L107.6 88.2 M95.6 98.2L102.6 96.8 M102.6 96.8L104.1 91.2 M104.1 91.2L107.6 88.2 M107.6 88.2L112.4 93.5 M112.4 93.5L116.5 99.4 M116.5 99.4L119.4 93.5 M119.4 93.5L120.6 98.5 M120.6 98.5L120.0 102.9 M120.0 102.9L104.4 105.3 M104.4 105.3L103.5 110.0 M103.5 110.0L100.3 110.6 M100.3 110.6L97.1 108.8 M97.1 108.8L95.6 104.1 M95.6 104.1L95.6 98.2 M91.2 94.4L95.6 98.2 M95.6 98.2L95.6 104.1 M95.6 104.1L97.1 108.8 M97.1 108.8L94.7 115.3 M94.7 115.3L88.2 114.1 M104.4 105.3L120.0 102.9 M120.0 102.9L121.2 110.0 M121.2 110.0L120.3 116.5 M120.3 116.5L106.5 119.4 M106.5 119.4L105.3 112.4 M105.3 112.4L104.4 105.3 M121.2 110.0L132.9 110.2 M132.9 110.2L139.4 111.2 M139.4 111.2L139.4 114.7 M139.4 114.7L141.2 123.5 M141.2 123.5L127.6 123.5 M127.6 123.5L120.3 116.5 M120.3 116.5L121.2 110.0 M139.4 111.2L150.0 104.4 M150.0 104.4L154.1 106.5 M154.1 106.5L155.3 110.0 M155.3 110.0L152.4 117.1 M152.4 117.1L148.8 125.3 M148.8 125.3L145.3 128.8 M145.3 128.8L141.8 127.6 M141.8 127.6L141.2 123.5 M141.2 123.5L139.4 114.7 M139.4 114.7L139.4 111.2 M157.1 95.9L174.7 94.7 M148.8 125.3L152.4 117.1 M152.4 117.1L155.3 110.0 M155.3 110.0L154.1 106.5 M154.1 106.5L150.0 104.4 M150.0 104.4L153.5 99.4 M153.5 99.4L157.1 95.9 M106.5 119.4L120.3 116.5 M120.3 116.5L127.6 123.5 M127.6 123.5L118.2 134.1 M118.2 134.1L112.9 138.2 M112.9 138.2L103.5 142.9 M103.5 142.9L100.0 144.7 M100.0 144.7L93.0 145.5 M93.0 145.5L89.5 147.3 M89.5 147.3L87.6 148.2 M85.5 145.3L91.8 137.1 M91.8 137.1L100.0 127.6 M100.0 127.6L106.5 119.4 M88.2 114.1L94.7 115.3 M94.7 115.3L97.1 108.8 M97.1 108.8L100.3 110.6 M100.3 110.6L103.5 110.0 M103.5 110.0L105.3 112.4 M105.3 112.4L106.5 119.4 M106.5 119.4L100.0 127.6 M100.0 127.6L91.8 137.1 M91.8 137.1L85.5 145.3 M87.6 148.2L89.5 147.3 M89.5 147.3L93.0 145.5 M93.0 145.5L100.0 144.7 M100.0 144.7L103.5 142.9 M103.5 142.9L112.9 138.2 M112.9 138.2L118.2 134.1 M118.2 134.1L127.6 123.5 M127.6 123.5L141.2 123.5 M141.2 123.5L141.8 127.6 M141.8 127.6L145.3 128.8 M145.3 128.8L148.8 125.3 M80.6 72.6L82.9 82.9 M82.9 82.9L81.6 88.6 M81.6 88.6L75.6 96.6 M75.6 96.6L67.3 103.8 M67.3 103.8L58.8 105.3 M58.8 105.3L49.4 103.5 M49.4 103.5L42.4 99.4 M42.4 99.4L35.3 95.9 M35.3 95.9L30.6 91.2" fill="none" stroke="#d3d5d8" stroke-width="1.2" stroke-linecap="round"/>
<polygon points="125.9,5.3 127.1,23.5 127.6,34.1 137.1,38.8 145.3,44.1 151.2,50.6 153.5,55.3 158.2,60.0 165.3,61.8 174.7,61.2 180.6,64.7 184.1,70.6 184.7,76.0 181.8,81.8 182.9,85.3 184.1,87.6 180.6,91.2 174.7,94.7 172.4,96.5 177.6,100.0 172.4,103.5 167.6,106.5 168.2,110.0 172.4,111.8 168.8,115.3 164.1,117.1 165.3,120.6 170.0,121.0 166.5,125.3 167.6,128.8 164.1,131.2 157.1,134.7 148.8,141.8 144.1,145.3 141.8,154.7 140.6,165.3 143.5,174.1 137.1,178.8 131.2,180.6 127.6,179.4 124.1,174.7 121.2,170.6 116.5,172.4 112.9,175.9 110.6,181.8 108.2,184.1 106.5,181.8 104.7,175.9 103.5,168.8 100.0,168.2 92.9,170.0 91.2,166.5 89.4,160.6 87.1,156.5 76.5,156.5 67.1,157.1 61.2,158.8 51.8,157.1 41.2,153.5 42.4,147.6 37.6,148.2 34.7,146.5 35.3,139.4 32.4,132.4 33.5,127.6 29.4,120.6 28.8,114.7 25.3,111.2 26.5,105.3 28.2,100.6 25.3,98.2 25.9,94.7 30.6,91.2 37.6,88.8 41.2,81.8 47.2,79.0 51.8,75.8 55.4,74.9 61.5,76.0 66.0,74.5 70.0,73.5 74.0,71.0 76.8,68.2 80.0,70.0 81.5,72.9 89.4,71.8 88.8,69.4 89.4,64.7 91.8,61.2 82.4,54.1 69.4,45.9 61.8,40.0 70.6,35.3 75.3,30.6 69.4,28.2 76.5,23.5 82.4,21.2 84.7,17.6 88.2,12.9 92.9,14.1 93.5,18.5 107.6,17.6 112.9,16.0 113.5,11.8 121.8,9.4" fill="none" stroke="#a3a6ac" stroke-width="1" stroke-linejoin="round"/>
<g fill="none" stroke="#5a5a5e" stroke-width="0.6" stroke-dasharray="1.8 1.5" stroke-opacity="0.8">
<polyline points="90.2,61.5 96.4,58.5 105.9,56.0 113.5,54.7 119.4,51.8 125.3,47.4 132.4,52.9 134.7,57.6 137.1,57.6 143.0,55.9 153.5,55.3"/>
<polyline points="96.4,58.5 98.4,67.7 100.5,73.8 96.4,76.9 90.2,79.0 88.2,79.4 89.4,87.6 91.2,94.4 87.1,95.9 84.1,99.4 84.1,104.1 86.5,108.8 88.2,114.1 87.1,115.9 87.6,126.5 80.0,134.7 82.4,140.6 85.5,145.3 86.3,152.0 87.1,156.5"/>
<polyline points="104.7,75.3 110.7,81.0 116.9,88.2 119.4,93.5 120.6,98.5 120.0,102.9 121.2,110.0 132.9,110.2 139.4,111.2 139.4,114.7 141.2,123.5 141.8,127.6 145.3,128.8 148.8,125.3 167.0,127.5"/>
</g>
<g font-family="'Liberation Sans',sans-serif" text-anchor="middle">
<g font-size="7.05" fill="#6c6c70">
<text x="45.8" y="13.70">HYDERABAD</text>
<text x="164.1" y="31.70">MIRPUR KHAS</text>
<text x="38.4" y="52.70">TANDO</text>
<text x="38.4" y="59.70">MUHAMMAD</text>
<text x="38.4" y="65.70">KHAN</text>
<text x="37.6" y="174.70">THATTA</text>
<text x="180.2" y="151.70">THARPARKAR</text>
</g>
<text x="148.0" y="189.70" font-size="9.1" fill="#c3c3c6">INDIA</text>
<g font-size="7.15" fill="#b9bdc5" fill-opacity="0.95">
<text x="96.8" y="40.70" font-size="7.5">Matli</text>
<text x="144.9" y="81.70" font-size="7.5">Tando Bago</text>
<text x="54.8" y="108.70" font-size="7.2">Shaheed Fazal</text>
<text x="56.3" y="115.70" font-size="7.2">Rahu</text>
<text x="113.2" y="141.70" font-size="7.5">Badin</text>
</g>
<g font-size="4.45" fill="#6e6e72">
<text x="121.0" y="16.70">Halepota</text>
<text x="100.1" y="21.70">Ghulam Shah</text>
<text x="104.1" y="26.70">Laghari</text>
<text x="121.7" y="30.70">Dumbalo</text>
<text x="87.1" y="32.70">Malhan</text>
<text x="114.6" y="35.70">Tando</text>
<text x="114.6" y="39.70">Ghulam</text>
<text x="114.6" y="44.70">Ali</text>
<text x="86.2" y="47.70">Haji</text>
<text x="87.1" y="52.70">Sanwal</text>
<text x="109.3" y="51.70">Thari</text>
<text x="139.5" y="46.70">Budho</text>
<text x="138.6" y="51.70">Qambrani</text>
<text x="104.7" y="64.70">Talhar</text>
<text x="124.7" y="61.70">Rajo</text>
<text x="124.7" y="65.70">Khanani</text>
<text x="153.1" y="69.70">Dadah</text>
<text x="139.2" y="75.70">Khadro</text>
<text x="174.1" y="75.70">Khairpur</text>
<text x="114.9" y="79.70">Saeedpur</text>
<text x="97.9" y="84.70">Peero</text>
<text x="97.9" y="89.70">Lashari</text>
<text x="128.4" y="86.70">Tando</text>
<text x="128.4" y="90.70">Bagho</text>
<text x="167.0" y="88.70">Pangrio</text>
<text x="60.1" y="91.70">Kario</text>
<text x="145.4" y="94.70">Khalifo</text>
<text x="145.4" y="99.70">Qasim</text>
<text x="163.3" y="100.70">Dai</text>
<text x="162.7" y="105.70">Jarkas</text>
<text x="106.9" y="102.70">Badin 1</text>
<text x="127.8" y="101.70">Pahar</text>
<text x="127.2" y="106.70">Mari</text>
<text x="90.8" y="106.70">Kadiwala</text>
<text x="113.0" y="110.70">Badin</text>
<text x="113.0" y="114.70">2</text>
<text x="130.9" y="116.70">Nindo</text>
<text x="130.9" y="121.70">Shahar</text>
<text x="146.9" y="118.70">Khoski</text>
<text x="93.3" y="122.70">Muhammad</text>
<text x="93.3" y="126.70">Khan</text>
<text x="93.3" y="131.70">Bhurgari</text>
<text x="112.4" y="126.70">Luwari</text>
<text x="112.4" y="131.70">Sharif</text>
<text x="56.0" y="134.70">Ghari</text>
<text x="118.0" y="155.70">Kadhan</text>
</g>
</g>
</g>
<rect x="0.5" y="0.5" width="209" height="193.70" fill="none" stroke="#9d9da1" stroke-width="1"/>
</svg>
<rect x="805.90" y="58.30" width="211.40" height="14.50" fill="#6d6e70"/>
<svg x="356.70" y="291.60" width="210" height="192.00" overflow="hidden">
<g transform="translate(-0.80 0.65)">
<rect x="-3" y="-3" width="216" height="199" fill="#f6f6f6"/>
<polygon points="92.6,165.0 143.5,174.1 151.2,175.9 160.6,179.4 164.1,179.4 172.4,175.9 179.4,173.5 187.6,174.7 195.9,174.5 202.9,173.5 208.8,174.7 213.0,175.3 213.0,196.0 92.6,196.0" fill="#e2e2e4"/>
<g fill="none" stroke="#a9a9ad" stroke-width="1.05" stroke-linejoin="round">
<polyline points="-3.0,5.1 7.0,5.9 15.3,7.0 22.4,5.9 23.5,4.7 21.2,0.0"/>
<polyline points="23.5,4.7 20.6,10.6 21.2,15.3 22.4,20.0 25.3,23.5 25.3,30.6 22.9,32.9 15.3,34.1 11.8,36.5 10.0,43.5 9.4,55.3 11.8,58.8 17.6,64.7 17.0,67.0 11.8,70.6 10.0,73.0 11.8,76.0 15.3,81.2 16.5,85.3 24.7,91.8 25.9,94.7"/>
<polyline points="22.4,20.0 27.1,23.5 34.1,26.5 38.8,25.3 43.5,24.7 49.4,27.6 55.3,27.1 58.8,22.4 62.4,23.5 65.9,20.0 66.5,15.3 71.8,14.7 72.4,11.8 75.3,8.8 81.2,7.6 84.7,9.4 88.2,12.9"/>
<polyline points="63.5,0.0 67.6,3.5 68.8,8.2 67.6,14.7"/>
<polyline points="184.6,0.0 190.7,8.2 192.5,18.0 194.8,30.8 197.9,45.1 205.0,55.4 209.0,59.5 213.0,66.0"/>
<polyline points="184.1,87.6 195.9,81.2 202.9,78.2 213.0,74.2"/>
<polyline points="143.5,174.1 151.2,175.9 160.6,179.4 164.1,179.4 172.4,175.9 179.4,173.5 187.6,174.7 195.9,174.5 202.9,173.5 208.8,174.7 213.0,175.3" stroke="#a0a0a4" stroke-width="1.3"/>
<polyline points="92.6,170.0 92.6,196.0" stroke="#a0a0a4" stroke-width="1.3"/>
</g>
<g fill="none" stroke="#66666a" stroke-width="0.7" stroke-dasharray="1.9 1.4">
<polyline points="34.1,0.0 35.3,5.9"/>
<polyline points="47.1,15.3 44.1,18.8 43.5,24.7"/>
<polyline points="49.4,27.6 51.8,31.8 52.9,34.7 48.2,36.5 45.9,41.2 48.2,45.9 50.6,47.1"/>
<polyline points="64.7,44.7 65.9,50.6 64.7,56.5 61.2,59.4 51.8,63.5 50.6,65.9 54.1,68.8 49.4,72.9 47.1,77.6"/>
<polyline points="0.0,62.4 7.0,57.6 9.4,56.5"/>
<polyline points="0.0,113.5 5.9,118.2 17.6,119.4 28.8,117.1"/>
<polyline points="5.9,118.2 4.7,121.8 0.0,123.5"/>
<polyline points="126.5,1.8 142.9,2.4 143.5,1.2"/>
<polyline points="142.9,2.4 144.1,11.8 147.6,15.3 159.4,17.6 160.6,23.5 165.3,31.8 172.4,39.4 179.4,40.0 190.0,36.5 195.9,32.9 208.8,24.7"/>
<polyline points="172.4,39.4 173.5,44.7 167.6,48.2 160.6,50.6 159.4,54.1 164.1,57.6 171.2,57.6 172.4,54.1 174.1,58.8"/>
<polyline points="197.0,81.2 202.9,82.9 210.0,84.1"/>
</g>
<polygon points="125.9,5.3 127.1,23.5 127.6,34.1 137.1,38.8 145.3,44.1 151.2,50.6 153.5,55.3 158.2,60.0 165.3,61.8 174.7,61.2 180.6,64.7 184.1,70.6 184.7,76.0 181.8,81.8 182.9,85.3 184.1,87.6 180.6,91.2 174.7,94.7 172.4,96.5 177.6,100.0 172.4,103.5 167.6,106.5 168.2,110.0 172.4,111.8 168.8,115.3 164.1,117.1 165.3,120.6 170.0,121.0 166.5,125.3 167.6,128.8 164.1,131.2 157.1,134.7 148.8,141.8 144.1,145.3 141.8,154.7 140.6,165.3 143.5,174.1 137.1,178.8 131.2,180.6 127.6,179.4 124.1,174.7 121.2,170.6 116.5,172.4 112.9,175.9 110.6,181.8 108.2,184.1 106.5,181.8 104.7,175.9 103.5,168.8 100.0,168.2 92.9,170.0 91.2,166.5 89.4,160.6 87.1,156.5 76.5,156.5 67.1,157.1 61.2,158.8 51.8,157.1 41.2,153.5 42.4,147.6 37.6,148.2 34.7,146.5 35.3,139.4 32.4,132.4 33.5,127.6 29.4,120.6 28.8,114.7 25.3,111.2 26.5,105.3 28.2,100.6 25.3,98.2 25.9,94.7 30.6,91.2 37.6,88.8 41.2,81.8 47.2,79.0 51.8,75.8 55.4,74.9 61.5,76.0 66.0,74.5 70.0,73.5 74.0,71.0 76.8,68.2 80.0,70.0 81.5,72.9 89.4,71.8 88.8,69.4 89.4,64.7 91.8,61.2 82.4,54.1 69.4,45.9 61.8,40.0 70.6,35.3 75.3,30.6 69.4,28.2 76.5,23.5 82.4,21.2 84.7,17.6 88.2,12.9 92.9,14.1 93.5,18.5 107.6,17.6 112.9,16.0 113.5,11.8 121.8,9.4" fill="#0f6cb6" stroke="#a3a6ac" stroke-width="1.3" stroke-linejoin="round"/>
<polygon points="125.9,5.3 121.8,9.4 113.5,11.8 113.5,16.5 115.9,17.6 118.2,22.4 121.8,24.7 125.3,23.8 127.1,23.5" fill="#0f6cb6" stroke="#0f6cb6" stroke-width="0.35"/>
<polygon points="93.5,18.5 107.6,17.6 115.3,17.6 118.2,21.8 114.7,25.9 105.3,27.1 95.9,25.9 92.6,22.4" fill="#0f6cb6" stroke="#0f6cb6" stroke-width="0.35"/>
<polygon points="121.8,24.7 125.3,23.8 127.1,23.5 127.6,34.1 125.3,40.0 125.3,47.4 119.4,51.8 119.4,45.9 120.0,35.3 118.2,30.6 114.7,25.9 118.2,21.8" fill="#0f6cb6" stroke="#0f6cb6" stroke-width="0.35"/>
<polygon points="105.3,27.1 114.7,25.9 118.2,30.6 120.0,35.3 119.4,45.9 113.5,41.2 105.3,35.3" fill="#0f6cb6" stroke="#0f6cb6" stroke-width="0.35"/>
<polygon points="101.8,38.8 105.3,35.3 113.5,41.2 119.4,45.9 119.4,51.8 113.5,54.7 107.6,55.3 101.8,48.2" fill="#0f6cb6" stroke="#0f6cb6" stroke-width="0.35"/>
<polygon points="88.2,12.9 92.9,14.1 93.5,18.5 92.6,22.4 95.9,25.9 105.3,27.1 105.3,35.3 101.8,38.8 101.0,35.0 89.4,37.1 75.3,42.4 69.4,45.9 61.8,40.0 70.6,35.3 75.3,30.6 69.4,28.2 76.5,23.5 82.4,21.2 84.7,17.6" fill="#0f6cb6" stroke="#0f6cb6" stroke-width="0.35"/>
<polygon points="69.4,45.9 75.3,42.4 89.4,37.1 101.0,35.0 101.8,38.8 101.8,48.2 107.6,55.3 100.0,57.0 91.8,61.2 82.4,54.1" fill="#0f6cb6" stroke="#0f6cb6" stroke-width="0.35"/>
<polygon points="91.8,61.2 100.0,57.0 107.6,55.3 113.5,54.7 115.3,63.5 105.3,67.6 104.7,75.3 97.0,74.7 92.9,71.8 89.4,71.8 88.8,69.4 89.4,64.7" fill="#0f6cb6" stroke="#0f6cb6" stroke-width="0.35"/>
<polygon points="113.5,54.7 119.4,51.8 125.3,47.4 132.4,52.9 134.7,57.6 132.4,61.2 131.8,70.6 130.0,76.5 127.6,78.2 125.3,75.3 118.2,69.4 115.3,63.5" fill="#0f6cb6" stroke="#0f6cb6" stroke-width="0.35"/>
<polygon points="127.6,34.1 137.1,38.8 145.3,44.1 151.2,50.6 153.5,55.3 143.0,55.9 137.1,57.6 134.7,57.6 132.4,52.9 125.3,47.4 125.3,40.0" fill="#0f6cb6" stroke="#0f6cb6" stroke-width="0.35"/>
<polygon points="134.7,57.6 137.1,57.6 143.0,55.9 146.5,63.5 144.1,69.4 146.0,76.0 147.6,81.8 139.4,87.6 134.7,80.6 128.8,78.8 127.6,78.2 130.0,76.5 131.8,70.6 132.4,61.2" fill="#0f6cb6" stroke="#0f6cb6" stroke-width="0.35"/>
<polygon points="143.0,55.9 153.5,55.3 158.2,60.0 164.1,62.1 161.8,74.1 162.9,74.7 153.5,82.4 147.6,81.8 146.0,76.0 144.1,69.4 146.5,63.5" fill="#0f6cb6" stroke="#0f6cb6" stroke-width="0.35"/>
<polygon points="164.1,62.1 165.3,61.8 174.7,61.2 180.6,64.7 184.1,70.6 184.7,76.0 181.8,81.8 182.9,85.3 181.0,85.8 172.4,80.0 162.9,74.7 161.8,74.1" fill="#0f6cb6" stroke="#0f6cb6" stroke-width="0.35"/>
<polygon points="162.9,74.7 172.4,80.0 181.0,85.8 182.9,85.3 184.1,87.6 180.6,91.2 174.7,94.7 157.1,95.9 155.3,88.8 153.5,82.4" fill="#0f6cb6" stroke="#0f6cb6" stroke-width="0.35"/>
<polygon points="139.4,87.6 147.6,81.8 153.5,82.4 155.3,88.8 157.1,95.9 153.5,99.4 150.0,104.4 139.4,111.2 132.9,110.2 136.5,100.6 138.2,91.5" fill="#0f6cb6" stroke="#0f6cb6" stroke-width="0.35"/>
<polygon points="123.5,81.8 128.8,78.8 134.7,80.6 139.4,87.6 138.2,91.5 120.6,98.5 119.4,93.5 119.4,84.7" fill="#0f6cb6" stroke="#0f6cb6" stroke-width="0.35"/>
<polygon points="120.6,98.5 138.2,91.5 136.5,100.6 132.9,110.2 121.2,110.0 120.0,102.9" fill="#0f6cb6" stroke="#0f6cb6" stroke-width="0.35"/>
<polygon points="105.3,67.6 115.3,63.5 118.2,69.4 125.3,75.3 127.6,78.2 128.8,78.8 123.5,81.8 119.4,84.7 106.5,84.7 105.3,84.1 103.5,78.2 104.7,75.3" fill="#0f6cb6" stroke="#0f6cb6" stroke-width="0.35"/>
<polygon points="88.2,79.4 94.1,77.1 103.5,78.2 105.3,84.1 106.5,84.7 107.6,88.2 104.1,91.2 102.6,96.8 95.6,98.2 91.2,94.4 89.4,87.6" fill="#0f6cb6" stroke="#0f6cb6" stroke-width="0.35"/>
<polygon points="107.6,88.2 106.5,84.7 119.4,84.7 119.4,93.5 116.5,99.4 112.4,93.5" fill="#0f6cb6" stroke="#0f6cb6" stroke-width="0.35"/>
<polygon points="95.6,98.2 102.6,96.8 104.1,91.2 107.6,88.2 112.4,93.5 116.5,99.4 119.4,93.5 120.6,98.5 120.0,102.9 104.4,105.3 103.5,110.0 100.3,110.6 97.1,108.8 95.6,104.1" fill="#0f6cb6" stroke="#0f6cb6" stroke-width="0.35"/>
<polygon points="87.1,95.9 91.2,94.4 95.6,98.2 95.6,104.1 97.1,108.8 94.7,115.3 88.2,114.1 86.5,108.8 84.1,104.1 84.1,99.4" fill="#0f6cb6" stroke="#0f6cb6" stroke-width="0.35"/>
<polygon points="104.4,105.3 120.0,102.9 121.2,110.0 120.3,116.5 106.5,119.4 105.3,112.4" fill="#0f6cb6" stroke="#0f6cb6" stroke-width="0.35"/>
<polygon points="121.2,110.0 132.9,110.2 139.4,111.2 139.4,114.7 141.2,123.5 127.6,123.5 120.3,116.5" fill="#0f6cb6" stroke="#0f6cb6" stroke-width="0.35"/>
<polygon points="139.4,111.2 150.0,104.4 154.1,106.5 155.3,110.0 152.4,117.1 148.8,125.3 145.3,128.8 141.8,127.6 141.2,123.5 139.4,114.7" fill="#0f6cb6" stroke="#0f6cb6" stroke-width="0.35"/>
<polygon points="157.1,95.9 174.7,94.7 172.4,96.5 177.6,100.0 172.4,103.5 167.6,106.5 168.2,110.0 172.4,111.8 168.8,115.3 164.1,117.1 165.3,120.6 170.0,121.0 166.5,125.3 167.0,127.5 148.8,125.3 152.4,117.1 155.3,110.0 154.1,106.5 150.0,104.4 153.5,99.4" fill="#0f6cb6" stroke="#0f6cb6" stroke-width="0.35"/>
<polygon points="106.5,119.4 120.3,116.5 127.6,123.5 118.2,134.1 112.9,138.2 103.5,142.9 100.0,144.7 93.0,145.5 89.5,147.3 87.6,148.2 85.5,145.3 91.8,137.1 100.0,127.6" fill="#0f6cb6" stroke="#0f6cb6" stroke-width="0.35"/>
<polygon points="88.2,114.1 94.7,115.3 97.1,108.8 100.3,110.6 103.5,110.0 105.3,112.4 106.5,119.4 100.0,127.6 91.8,137.1 85.5,145.3 82.4,140.6 80.0,134.7 87.6,126.5 87.1,115.9" fill="#0f6cb6" stroke="#0f6cb6" stroke-width="0.35"/>
<polygon points="87.6,148.2 89.5,147.3 93.0,145.5 100.0,144.7 103.5,142.9 112.9,138.2 118.2,134.1 127.6,123.5 141.2,123.5 141.8,127.6 145.3,128.8 148.8,125.3 167.0,127.5 167.6,128.8 164.1,131.2 157.1,134.7 148.8,141.8 144.1,145.3 141.8,154.7 140.6,165.3 143.5,174.1 137.1,178.8 131.2,180.6 127.6,179.4 124.1,174.7 121.2,170.6 116.5,172.4 112.9,175.9 110.6,181.8 108.2,184.1 106.5,181.8 104.7,175.9 103.5,168.8 100.0,168.2 92.9,170.0 91.2,166.5 89.4,160.6 87.1,156.5 86.3,152.0 85.5,145.3" fill="#0f6cb6" stroke="#0f6cb6" stroke-width="0.35"/>
<polygon points="30.6,91.2 37.6,88.8 41.2,81.8 47.2,79.0 51.8,75.8 55.4,74.9 61.5,76.0 66.0,74.5 70.0,73.5 74.0,71.0 76.8,68.2 80.0,70.0 80.6,72.6 82.9,82.9 81.6,88.6 75.6,96.6 67.3,103.8 58.8,105.3 49.4,103.5 42.4,99.4 35.3,95.9" fill="#0f6cb6" stroke="#0f6cb6" stroke-width="0.35"/>
<path d="M113.5 16.5L115.9 17.6 M115.9 17.6L118.2 22.4 M118.2 22.4L121.8 24.7 M121.8 24.7L125.3 23.8 M125.3 23.8L127.1 23.5 M107.6 17.6L115.3 17.6 M115.3 17.6L118.2 21.8 M118.2 21.8L114.7 25.9 M114.7 25.9L105.3 27.1 M105.3 27.1L95.9 25.9 M95.9 25.9L92.6 22.4 M92.6 22.4L93.5 18.5 M121.8 24.7L125.3 23.8 M125.3 23.8L127.1 23.5 M127.6 34.1L125.3 40.0 M125.3 40.0L125.3 47.4 M125.3 47.4L119.4 51.8 M119.4 51.8L119.4 45.9 M119.4 45.9L120.0 35.3 M120.0 35.3L118.2 30.6 M118.2 30.6L114.7 25.9 M114.7 25.9L118.2 21.8 M118.2 21.8L121.8 24.7 M105.3 27.1L114.7 25.9 M114.7 25.9L118.2 30.6 M118.2 30.6L120.0 35.3 M120.0 35.3L119.4 45.9 M119.4 45.9L113.5 41.2 M113.5 41.2L105.3 35.3 M105.3 35.3L105.3 27.1 M101.8 38.8L105.3 35.3 M105.3 35.3L113.5 41.2 M113.5 41.2L119.4 45.9 M119.4 45.9L119.4 51.8 M119.4 51.8L113.5 54.7 M107.6 55.3L101.8 48.2 M101.8 48.2L101.8 38.8 M93.5 18.5L92.6 22.4 M92.6 22.4L95.9 25.9 M95.9 25.9L105.3 27.1 M105.3 27.1L105.3 35.3 M105.3 35.3L101.8 38.8 M101.8 38.8L101.0 35.0 M101.0 35.0L89.4 37.1 M89.4 37.1L75.3 42.4 M75.3 42.4L69.4 45.9 M69.4 45.9L75.3 42.4 M75.3 42.4L89.4 37.1 M89.4 37.1L101.0 35.0 M101.0 35.0L101.8 38.8 M101.8 38.8L101.8 48.2 M101.8 48.2L107.6 55.3 M113.5 54.7L115.3 63.5 M115.3 63.5L105.3 67.6 M105.3 67.6L104.7 75.3 M104.7 75.3L97.0 74.7 M97.0 74.7L92.9 71.8 M92.9 71.8L89.4 71.8 M113.5 54.7L119.4 51.8 M119.4 51.8L125.3 47.4 M125.3 47.4L132.4 52.9 M132.4 52.9L134.7 57.6 M134.7 57.6L132.4 61.2 M132.4 61.2L131.8 70.6 M131.8 70.6L130.0 76.5 M130.0 76.5L127.6 78.2 M127.6 78.2L125.3 75.3 M125.3 75.3L118.2 69.4 M118.2 69.4L115.3 63.5 M115.3 63.5L113.5 54.7 M153.5 55.3L143.0 55.9 M143.0 55.9L137.1 57.6 M137.1 57.6L134.7 57.6 M134.7 57.6L132.4 52.9 M132.4 52.9L125.3 47.4 M125.3 47.4L125.3 40.0 M125.3 40.0L127.6 34.1 M134.7 57.6L137.1 57.6 M137.1 57.6L143.0 55.9 M143.0 55.9L146.5 63.5 M146.5 63.5L144.1 69.4 M144.1 69.4L146.0 76.0 M146.0 76.0L147.6 81.8 M147.6 81.8L139.4 87.6 M139.4 87.6L134.7 80.6 M134.7 80.6L128.8 78.8 M128.8 78.8L127.6 78.2 M127.6 78.2L130.0 76.5 M130.0 76.5L131.8 70.6 M131.8 70.6L132.4 61.2 M132.4 61.2L134.7 57.6 M143.0 55.9L153.5 55.3 M164.1 62.1L161.8 74.1 M161.8 74.1L162.9 74.7 M162.9 74.7L153.5 82.4 M153.5 82.4L147.6 81.8 M147.6 81.8L146.0 76.0 M146.0 76.0L144.1 69.4 M144.1 69.4L146.5 63.5 M146.5 63.5L143.0 55.9 M182.9 85.3L181.0 85.8 M181.0 85.8L172.4 80.0 M172.4 80.0L162.9 74.7 M162.9 74.7L161.8 74.1 M161.8 74.1L164.1 62.1 M162.9 74.7L172.4 80.0 M172.4 80.0L181.0 85.8 M181.0 85.8L182.9 85.3 M174.7 94.7L157.1 95.9 M157.1 95.9L155.3 88.8 M155.3 88.8L153.5 82.4 M153.5 82.4L162.9 74.7 M139.4 87.6L147.6 81.8 M147.6 81.8L153.5 82.4 M153.5 82.4L155.3 88.8 M155.3 88.8L157.1 95.9 M157.1 95.9L153.5 99.4 M153.5 99.4L150.0 104.4 M150.0 104.4L139.4 111.2 M139.4 111.2L132.9 110.2 M132.9 110.2L136.5 100.6 M136.5 100.6L138.2 91.5 M138.2 91.5L139.4 87.6 M123.5 81.8L128.8 78.8 M128.8 78.8L134.7 80.6 M134.7 80.6L139.4 87.6 M139.4 87.6L138.2 91.5 M138.2 91.5L120.6 98.5 M120.6 98.5L119.4 93.5 M119.4 93.5L119.4 84.7 M119.4 84.7L123.5 81.8 M120.6 98.5L138.2 91.5 M138.2 91.5L136.5 100.6 M136.5 100.6L132.9 110.2 M132.9 110.2L121.2 110.0 M121.2 110.0L120.0 102.9 M120.0 102.9L120.6 98.5 M105.3 67.6L115.3 63.5 M115.3 63.5L118.2 69.4 M118.2 69.4L125.3 75.3 M125.3 75.3L127.6 78.2 M127.6 78.2L128.8 78.8 M128.8 78.8L123.5 81.8 M123.5 81.8L119.4 84.7 M119.4 84.7L106.5 84.7 M106.5 84.7L105.3 84.1 M105.3 84.1L103.5 78.2 M103.5 78.2L104.7 75.3 M104.7 75.3L105.3 67.6 M94.1 77.1L103.5 78.2 M103.5 78.2L105.3 84.1 M105.3 84.1L106.5 84.7 M106.5 84.7L107.6 88.2 M107.6 88.2L104.1 91.2 M104.1 91.2L102.6 96.8 M102.6 96.8L95.6 98.2 M95.6 98.2L91.2 94.4 M107.6 88.2L106.5 84.7 M106.5 84.7L119.4 84.7 M119.4 84.7L119.4 93.5 M119.4 93.5L116.5 99.4 M116.5 99.4L112.4 93.5 M112.4 93.5L107.6 88.2 M95.6 98.2L102.6 96.8 M102.6 96.8L104.1 91.2 M104.1 91.2L107.6 88.2 M107.6 88.2L112.4 93.5 M112.4 93.5L116.5 99.4 M116.5 99.4L119.4 93.5 M119.4 93.5L120.6 98.5 M120.6 98.5L120.0 102.9 M120.0 102.9L104.4 105.3 M104.4 105.3L103.5 110.0 M103.5 110.0L100.3 110.6 M100.3 110.6L97.1 108.8 M97.1 108.8L95.6 104.1 M95.6 104.1L95.6 98.2 M91.2 94.4L95.6 98.2 M95.6 98.2L95.6 104.1 M95.6 104.1L97.1 108.8 M97.1 108.8L94.7 115.3 M94.7 115.3L88.2 114.1 M104.4 105.3L120.0 102.9 M120.0 102.9L121.2 110.0 M121.2 110.0L120.3 116.5 M120.3 116.5L106.5 119.4 M106.5 119.4L105.3 112.4 M105.3 112.4L104.4 105.3 M121.2 110.0L132.9 110.2 M132.9 110.2L139.4 111.2 M139.4 111.2L139.4 114.7 M139.4 114.7L141.2 123.5 M141.2 123.5L127.6 123.5 M127.6 123.5L120.3 116.5 M120.3 116.5L121.2 110.0 M139.4 111.2L150.0 104.4 M150.0 104.4L154.1 106.5 M154.1 106.5L155.3 110.0 M155.3 110.0L152.4 117.1 M152.4 117.1L148.8 125.3 M148.8 125.3L145.3 128.8 M145.3 128.8L141.8 127.6 M141.8 127.6L141.2 123.5 M141.2 123.5L139.4 114.7 M139.4 114.7L139.4 111.2 M157.1 95.9L174.7 94.7 M148.8 125.3L152.4 117.1 M152.4 117.1L155.3 110.0 M155.3 110.0L154.1 106.5 M154.1 106.5L150.0 104.4 M150.0 104.4L153.5 99.4 M153.5 99.4L157.1 95.9 M106.5 119.4L120.3 116.5 M120.3 116.5L127.6 123.5 M127.6 123.5L118.2 134.1 M118.2 134.1L112.9 138.2 M112.9 138.2L103.5 142.9 M103.5 142.9L100.0 144.7 M100.0 144.7L93.0 145.5 M93.0 145.5L89.5 147.3 M89.5 147.3L87.6 148.2 M85.5 145.3L91.8 137.1 M91.8 137.1L100.0 127.6 M100.0 127.6L106.5 119.4 M88.2 114.1L94.7 115.3 M94.7 115.3L97.1 108.8 M97.1 108.8L100.3 110.6 M100.3 110.6L103.5 110.0 M103.5 110.0L105.3 112.4 M105.3 112.4L106.5 119.4 M106.5 119.4L100.0 127.6 M100.0 127.6L91.8 137.1 M91.8 137.1L85.5 145.3 M87.6 148.2L89.5 147.3 M89.5 147.3L93.0 145.5 M93.0 145.5L100.0 144.7 M100.0 144.7L103.5 142.9 M103.5 142.9L112.9 138.2 M112.9 138.2L118.2 134.1 M118.2 134.1L127.6 123.5 M127.6 123.5L141.2 123.5 M141.2 123.5L141.8 127.6 M141.8 127.6L145.3 128.8 M145.3 128.8L148.8 125.3 M80.6 72.6L82.9 82.9 M82.9 82.9L81.6 88.6 M81.6 88.6L75.6 96.6 M75.6 96.6L67.3 103.8 M67.3 103.8L58.8 105.3 M58.8 105.3L49.4 103.5 M49.4 103.5L42.4 99.4 M42.4 99.4L35.3 95.9 M35.3 95.9L30.6 91.2" fill="none" stroke="#d3d5d8" stroke-width="1.2" stroke-linecap="round"/>
<polygon points="125.9,5.3 127.1,23.5 127.6,34.1 137.1,38.8 145.3,44.1 151.2,50.6 153.5,55.3 158.2,60.0 165.3,61.8 174.7,61.2 180.6,64.7 184.1,70.6 184.7,76.0 181.8,81.8 182.9,85.3 184.1,87.6 180.6,91.2 174.7,94.7 172.4,96.5 177.6,100.0 172.4,103.5 167.6,106.5 168.2,110.0 172.4,111.8 168.8,115.3 164.1,117.1 165.3,120.6 170.0,121.0 166.5,125.3 167.6,128.8 164.1,131.2 157.1,134.7 148.8,141.8 144.1,145.3 141.8,154.7 140.6,165.3 143.5,174.1 137.1,178.8 131.2,180.6 127.6,179.4 124.1,174.7 121.2,170.6 116.5,172.4 112.9,175.9 110.6,181.8 108.2,184.1 106.5,181.8 104.7,175.9 103.5,168.8 100.0,168.2 92.9,170.0 91.2,166.5 89.4,160.6 87.1,156.5 76.5,156.5 67.1,157.1 61.2,158.8 51.8,157.1 41.2,153.5 42.4,147.6 37.6,148.2 34.7,146.5 35.3,139.4 32.4,132.4 33.5,127.6 29.4,120.6 28.8,114.7 25.3,111.2 26.5,105.3 28.2,100.6 25.3,98.2 25.9,94.7 30.6,91.2 37.6,88.8 41.2,81.8 47.2,79.0 51.8,75.8 55.4,74.9 61.5,76.0 66.0,74.5 70.0,73.5 74.0,71.0 76.8,68.2 80.0,70.0 81.5,72.9 89.4,71.8 88.8,69.4 89.4,64.7 91.8,61.2 82.4,54.1 69.4,45.9 61.8,40.0 70.6,35.3 75.3,30.6 69.4,28.2 76.5,23.5 82.4,21.2 84.7,17.6 88.2,12.9 92.9,14.1 93.5,18.5 107.6,17.6 112.9,16.0 113.5,11.8 121.8,9.4" fill="none" stroke="#a3a6ac" stroke-width="1" stroke-linejoin="round"/>
<g fill="none" stroke="#5a5a5e" stroke-width="0.6" stroke-dasharray="1.8 1.5" stroke-opacity="0.8">
<polyline points="90.2,61.5 96.4,58.5 105.9,56.0 113.5,54.7 119.4,51.8 125.3,47.4 132.4,52.9 134.7,57.6 137.1,57.6 143.0,55.9 153.5,55.3"/>
<polyline points="96.4,58.5 98.4,67.7 100.5,73.8 96.4,76.9 90.2,79.0 88.2,79.4 89.4,87.6 91.2,94.4 87.1,95.9 84.1,99.4 84.1,104.1 86.5,108.8 88.2,114.1 87.1,115.9 87.6,126.5 80.0,134.7 82.4,140.6 85.5,145.3 86.3,152.0 87.1,156.5"/>
<polyline points="104.7,75.3 110.7,81.0 116.9,88.2 119.4,93.5 120.6,98.5 120.0,102.9 121.2,110.0 132.9,110.2 139.4,111.2 139.4,114.7 141.2,123.5 141.8,127.6 145.3,128.8 148.8,125.3 167.0,127.5"/>
</g>
<g font-family="'Liberation Sans',sans-serif" text-anchor="middle">
<g font-size="7.05" fill="#6c6c70">
<text x="45.8" y="13.75">HYDERABAD</text>
<text x="164.1" y="31.75">MIRPUR KHAS</text>
<text x="38.4" y="52.75">TANDO</text>
<text x="38.4" y="59.75">MUHAMMAD</text>
<text x="38.4" y="65.75">KHAN</text>
<text x="37.6" y="173.75">THATTA</text>
<text x="180.2" y="151.75">THARPARKAR</text>
</g>
<text x="148.0" y="189.75" font-size="9.1" fill="#c3c3c6">INDIA</text>
<g font-size="7.15" fill="#b9bdc5" fill-opacity="0.95">
<text x="96.8" y="40.75" font-size="7.5">Matli</text>
<text x="144.9" y="81.75" font-size="7.5">Tando Bago</text>
<text x="54.8" y="108.75" font-size="7.2">Shaheed Fazal</text>
<text x="56.3" y="115.75" font-size="7.2">Rahu</text>
<text x="113.2" y="141.75" font-size="7.5">Badin</text>
</g>
<g font-size="4.45" fill="#6e6e72">
<text x="121.0" y="16.75">Halepota</text>
<text x="100.1" y="21.75">Ghulam Shah</text>
<text x="104.1" y="26.75">Laghari</text>
<text x="121.7" y="30.75">Dumbalo</text>
<text x="87.1" y="32.75">Malhan</text>
<text x="114.6" y="35.75">Tando</text>
<text x="114.6" y="39.75">Ghulam</text>
<text x="114.6" y="43.75">Ali</text>
<text x="86.2" y="47.75">Haji</text>
<text x="87.1" y="52.75">Sanwal</text>
<text x="109.3" y="51.75">Thari</text>
<text x="139.5" y="46.75">Budho</text>
<text x="138.6" y="51.75">Qambrani</text>
<text x="104.7" y="63.75">Talhar</text>
<text x="124.7" y="60.75">Rajo</text>
<text x="124.7" y="65.75">Khanani</text>
<text x="153.1" y="68.75">Dadah</text>
<text x="139.2" y="75.75">Khadro</text>
<text x="174.1" y="75.75">Khairpur</text>
<text x="114.9" y="79.75">Saeedpur</text>
<text x="97.9" y="84.75">Peero</text>
<text x="97.9" y="88.75">Lashari</text>
<text x="128.4" y="86.75">Tando</text>
<text x="128.4" y="90.75">Bagho</text>
<text x="167.0" y="88.75">Pangrio</text>
<text x="60.1" y="91.75">Kario</text>
<text x="145.4" y="94.75">Khalifo</text>
<text x="145.4" y="99.75">Qasim</text>
<text x="163.3" y="100.75">Dai</text>
<text x="162.7" y="105.75">Jarkas</text>
<text x="106.9" y="102.75">Badin 1</text>
<text x="127.8" y="101.75">Pahar</text>
<text x="127.2" y="106.75">Mari</text>
<text x="90.8" y="106.75">Kadiwala</text>
<text x="113.0" y="110.75">Badin</text>
<text x="113.0" y="114.75">2</text>
<text x="130.9" y="116.75">Nindo</text>
<text x="130.9" y="121.75">Shahar</text>
<text x="146.9" y="117.75">Khoski</text>
<text x="93.3" y="121.75">Muhammad</text>
<text x="93.3" y="126.75">Khan</text>
<text x="93.3" y="130.75">Bhurgari</text>
<text x="112.4" y="126.75">Luwari</text>
<text x="112.4" y="130.75">Sharif</text>
<text x="56.0" y="134.75">Ghari</text>
<text x="118.0" y="155.75">Kadhan</text>
</g>
</g>
</g>
<rect x="0.5" y="0.5" width="209" height="191.00" fill="none" stroke="#9d9da1" stroke-width="1"/>
</svg>
<rect x="356.00" y="275.35" width="211.40" height="16.45" fill="#6d6e70"/>
<svg x="581.10" y="289.80" width="210" height="193.80" overflow="hidden">
<g transform="translate(-0.85 1.40)">
<rect x="-3" y="-3" width="216" height="199" fill="#f6f6f6"/>
<polygon points="92.6,165.0 143.5,174.1 151.2,175.9 160.6,179.4 164.1,179.4 172.4,175.9 179.4,173.5 187.6,174.7 195.9,174.5 202.9,173.5 208.8,174.7 213.0,175.3 213.0,196.0 92.6,196.0" fill="#e2e2e4"/>
<g fill="none" stroke="#a9a9ad" stroke-width="1.05" stroke-linejoin="round">
<polyline points="-3.0,5.1 7.0,5.9 15.3,7.0 22.4,5.9 23.5,4.7 21.2,0.0"/>
<polyline points="23.5,4.7 20.6,10.6 21.2,15.3 22.4,20.0 25.3,23.5 25.3,30.6 22.9,32.9 15.3,34.1 11.8,36.5 10.0,43.5 9.4,55.3 11.8,58.8 17.6,64.7 17.0,67.0 11.8,70.6 10.0,73.0 11.8,76.0 15.3,81.2 16.5,85.3 24.7,91.8 25.9,94.7"/>
<polyline points="22.4,20.0 27.1,23.5 34.1,26.5 38.8,25.3 43.5,24.7 49.4,27.6 55.3,27.1 58.8,22.4 62.4,23.5 65.9,20.0 66.5,15.3 71.8,14.7 72.4,11.8 75.3,8.8 81.2,7.6 84.7,9.4 88.2,12.9"/>
<polyline points="63.5,0.0 67.6,3.5 68.8,8.2 67.6,14.7"/>
<polyline points="184.6,0.0 190.7,8.2 192.5,18.0 194.8,30.8 197.9,45.1 205.0,55.4 209.0,59.5 213.0,66.0"/>
<polyline points="184.1,87.6 195.9,81.2 202.9,78.2 213.0,74.2"/>
<polyline points="143.5,174.1 151.2,175.9 160.6,179.4 164.1,179.4 172.4,175.9 179.4,173.5 187.6,174.7 195.9,174.5 202.9,173.5 208.8,174.7 213.0,175.3" stroke="#a0a0a4" stroke-width="1.3"/>
<polyline points="92.6,170.0 92.6,196.0" stroke="#a0a0a4" stroke-width="1.3"/>
</g>
<g fill="none" stroke="#66666a" stroke-width="0.7" stroke-dasharray="1.9 1.4">
<polyline points="34.1,0.0 35.3,5.9"/>
<polyline points="47.1,15.3 44.1,18.8 43.5,24.7"/>
<polyline points="49.4,27.6 51.8,31.8 52.9,34.7 48.2,36.5 45.9,41.2 48.2,45.9 50.6,47.1"/>
<polyline points="64.7,44.7 65.9,50.6 64.7,56.5 61.2,59.4 51.8,63.5 50.6,65.9 54.1,68.8 49.4,72.9 47.1,77.6"/>
<polyline points="0.0,62.4 7.0,57.6 9.4,56.5"/>
<polyline points="0.0,113.5 5.9,118.2 17.6,119.4 28.8,117.1"/>
<polyline points="5.9,118.2 4.7,121.8 0.0,123.5"/>
<polyline points="126.5,1.8 142.9,2.4 143.5,1.2"/>
<polyline points="142.9,2.4 144.1,11.8 147.6,15.3 159.4,17.6 160.6,23.5 165.3,31.8 172.4,39.4 179.4,40.0 190.0,36.5 195.9,32.9 208.8,24.7"/>
<polyline points="172.4,39.4 173.5,44.7 167.6,48.2 160.6,50.6 159.4,54.1 164.1,57.6 171.2,57.6 172.4,54.1 174.1,58.8"/>
<polyline points="197.0,81.2 202.9,82.9 210.0,84.1"/>
</g>
<polygon points="125.9,5.3 127.1,23.5 127.6,34.1 137.1,38.8 145.3,44.1 151.2,50.6 153.5,55.3 158.2,60.0 165.3,61.8 174.7,61.2 180.6,64.7 184.1,70.6 184.7,76.0 181.8,81.8 182.9,85.3 184.1,87.6 180.6,91.2 174.7,94.7 172.4,96.5 177.6,100.0 172.4,103.5 167.6,106.5 168.2,110.0 172.4,111.8 168.8,115.3 164.1,117.1 165.3,120.6 170.0,121.0 166.5,125.3 167.6,128.8 164.1,131.2 157.1,134.7 148.8,141.8 144.1,145.3 141.8,154.7 140.6,165.3 143.5,174.1 137.1,178.8 131.2,180.6 127.6,179.4 124.1,174.7 121.2,170.6 116.5,172.4 112.9,175.9 110.6,181.8 108.2,184.1 106.5,181.8 104.7,175.9 103.5,168.8 100.0,168.2 92.9,170.0 91.2,166.5 89.4,160.6 87.1,156.5 76.5,156.5 67.1,157.1 61.2,158.8 51.8,157.1 41.2,153.5 42.4,147.6 37.6,148.2 34.7,146.5 35.3,139.4 32.4,132.4 33.5,127.6 29.4,120.6 28.8,114.7 25.3,111.2 26.5,105.3 28.2,100.6 25.3,98.2 25.9,94.7 30.6,91.2 37.6,88.8 41.2,81.8 47.2,79.0 51.8,75.8 55.4,74.9 61.5,76.0 66.0,74.5 70.0,73.5 74.0,71.0 76.8,68.2 80.0,70.0 81.5,72.9 89.4,71.8 88.8,69.4 89.4,64.7 91.8,61.2 82.4,54.1 69.4,45.9 61.8,40.0 70.6,35.3 75.3,30.6 69.4,28.2 76.5,23.5 82.4,21.2 84.7,17.6 88.2,12.9 92.9,14.1 93.5,18.5 107.6,17.6 112.9,16.0 113.5,11.8 121.8,9.4" fill="#6497d5" stroke="#a3a6ac" stroke-width="1.3" stroke-linejoin="round"/>
<polygon points="125.9,5.3 121.8,9.4 113.5,11.8 113.5,16.5 115.9,17.6 118.2,22.4 121.8,24.7 125.3,23.8 127.1,23.5" fill="#0f6cb6" stroke="#0f6cb6" stroke-width="0.35"/>
<polygon points="93.5,18.5 107.6,17.6 115.3,17.6 118.2,21.8 114.7,25.9 105.3,27.1 95.9,25.9 92.6,22.4" fill="#6497d5" stroke="#6497d5" stroke-width="0.35"/>
<polygon points="121.8,24.7 125.3,23.8 127.1,23.5 127.6,34.1 125.3,40.0 125.3,47.4 119.4,51.8 119.4,45.9 120.0,35.3 118.2,30.6 114.7,25.9 118.2,21.8" fill="#6497d5" stroke="#6497d5" stroke-width="0.35"/>
<polygon points="105.3,27.1 114.7,25.9 118.2,30.6 120.0,35.3 119.4,45.9 113.5,41.2 105.3,35.3" fill="#6497d5" stroke="#6497d5" stroke-width="0.35"/>
<polygon points="101.8,38.8 105.3,35.3 113.5,41.2 119.4,45.9 119.4,51.8 113.5,54.7 107.6,55.3 101.8,48.2" fill="#0f6cb6" stroke="#0f6cb6" stroke-width="0.35"/>
<polygon points="88.2,12.9 92.9,14.1 93.5,18.5 92.6,22.4 95.9,25.9 105.3,27.1 105.3,35.3 101.8,38.8 101.0,35.0 89.4,37.1 75.3,42.4 69.4,45.9 61.8,40.0 70.6,35.3 75.3,30.6 69.4,28.2 76.5,23.5 82.4,21.2 84.7,17.6" fill="#0f6cb6" stroke="#0f6cb6" stroke-width="0.35"/>
<polygon points="69.4,45.9 75.3,42.4 89.4,37.1 101.0,35.0 101.8,38.8 101.8,48.2 107.6,55.3 100.0,57.0 91.8,61.2 82.4,54.1" fill="#0f6cb6" stroke="#0f6cb6" stroke-width="0.35"/>
<polygon points="91.8,61.2 100.0,57.0 107.6,55.3 113.5,54.7 115.3,63.5 105.3,67.6 104.7,75.3 97.0,74.7 92.9,71.8 89.4,71.8 88.8,69.4 89.4,64.7" fill="#6497d5" stroke="#6497d5" stroke-width="0.35"/>
<polygon points="113.5,54.7 119.4,51.8 125.3,47.4 132.4,52.9 134.7,57.6 132.4,61.2 131.8,70.6 130.0,76.5 127.6,78.2 125.3,75.3 118.2,69.4 115.3,63.5" fill="#6497d5" stroke="#6497d5" stroke-width="0.35"/>
<polygon points="127.6,34.1 137.1,38.8 145.3,44.1 151.2,50.6 153.5,55.3 143.0,55.9 137.1,57.6 134.7,57.6 132.4,52.9 125.3,47.4 125.3,40.0" fill="#0f6cb6" stroke="#0f6cb6" stroke-width="0.35"/>
<polygon points="134.7,57.6 137.1,57.6 143.0,55.9 146.5,63.5 144.1,69.4 146.0,76.0 147.6,81.8 139.4,87.6 134.7,80.6 128.8,78.8 127.6,78.2 130.0,76.5 131.8,70.6 132.4,61.2" fill="#0f6cb6" stroke="#0f6cb6" stroke-width="0.35"/>
<polygon points="143.0,55.9 153.5,55.3 158.2,60.0 164.1,62.1 161.8,74.1 162.9,74.7 153.5,82.4 147.6,81.8 146.0,76.0 144.1,69.4 146.5,63.5" fill="#0f6cb6" stroke="#0f6cb6" stroke-width="0.35"/>
<polygon points="164.1,62.1 165.3,61.8 174.7,61.2 180.6,64.7 184.1,70.6 184.7,76.0 181.8,81.8 182.9,85.3 181.0,85.8 172.4,80.0 162.9,74.7 161.8,74.1" fill="#0f6cb6" stroke="#0f6cb6" stroke-width="0.35"/>
<polygon points="162.9,74.7 172.4,80.0 181.0,85.8 182.9,85.3 184.1,87.6 180.6,91.2 174.7,94.7 157.1,95.9 155.3,88.8 153.5,82.4" fill="#0f6cb6" stroke="#0f6cb6" stroke-width="0.35"/>
<polygon points="139.4,87.6 147.6,81.8 153.5,82.4 155.3,88.8 157.1,95.9 153.5,99.4 150.0,104.4 139.4,111.2 132.9,110.2 136.5,100.6 138.2,91.5" fill="#0f6cb6" stroke="#0f6cb6" stroke-width="0.35"/>
<polygon points="123.5,81.8 128.8,78.8 134.7,80.6 139.4,87.6 138.2,91.5 120.6,98.5 119.4,93.5 119.4,84.7" fill="#6497d5" stroke="#6497d5" stroke-width="0.35"/>
<polygon points="120.6,98.5 138.2,91.5 136.5,100.6 132.9,110.2 121.2,110.0 120.0,102.9" fill="#6497d5" stroke="#6497d5" stroke-width="0.35"/>
<polygon points="105.3,67.6 115.3,63.5 118.2,69.4 125.3,75.3 127.6,78.2 128.8,78.8 123.5,81.8 119.4,84.7 106.5,84.7 105.3,84.1 103.5,78.2 104.7,75.3" fill="#0f6cb6" stroke="#0f6cb6" stroke-width="0.35"/>
<polygon points="88.2,79.4 94.1,77.1 103.5,78.2 105.3,84.1 106.5,84.7 107.6,88.2 104.1,91.2 102.6,96.8 95.6,98.2 91.2,94.4 89.4,87.6" fill="#0f6cb6" stroke="#0f6cb6" stroke-width="0.35"/>
<polygon points="107.6,88.2 106.5,84.7 119.4,84.7 119.4,93.5 116.5,99.4 112.4,93.5" fill="#0f6cb6" stroke="#0f6cb6" stroke-width="0.35"/>
<polygon points="95.6,98.2 102.6,96.8 104.1,91.2 107.6,88.2 112.4,93.5 116.5,99.4 119.4,93.5 120.6,98.5 120.0,102.9 104.4,105.3 103.5,110.0 100.3,110.6 97.1,108.8 95.6,104.1" fill="#6497d5" stroke="#6497d5" stroke-width="0.35"/>
<polygon points="87.1,95.9 91.2,94.4 95.6,98.2 95.6,104.1 97.1,108.8 94.7,115.3 88.2,114.1 86.5,108.8 84.1,104.1 84.1,99.4" fill="#0f6cb6" stroke="#0f6cb6" stroke-width="0.35"/>
<polygon points="104.4,105.3 120.0,102.9 121.2,110.0 120.3,116.5 106.5,119.4 105.3,112.4" fill="#6497d5" stroke="#6497d5" stroke-width="0.35"/>
<polygon points="121.2,110.0 132.9,110.2 139.4,111.2 139.4,114.7 141.2,123.5 127.6,123.5 120.3,116.5" fill="#0f6cb6" stroke="#0f6cb6" stroke-width="0.35"/>
<polygon points="139.4,111.2 150.0,104.4 154.1,106.5 155.3,110.0 152.4,117.1 148.8,125.3 145.3,128.8 141.8,127.6 141.2,123.5 139.4,114.7" fill="#6497d5" stroke="#6497d5" stroke-width="0.35"/>
<polygon points="157.1,95.9 174.7,94.7 172.4,96.5 177.6,100.0 172.4,103.5 167.6,106.5 168.2,110.0 172.4,111.8 168.8,115.3 164.1,117.1 165.3,120.6 170.0,121.0 166.5,125.3 167.0,127.5 148.8,125.3 152.4,117.1 155.3,110.0 154.1,106.5 150.0,104.4 153.5,99.4" fill="#0f6cb6" stroke="#0f6cb6" stroke-width="0.35"/>
<polygon points="106.5,119.4 120.3,116.5 127.6,123.5 118.2,134.1 112.9,138.2 103.5,142.9 100.0,144.7 93.0,145.5 89.5,147.3 87.6,148.2 85.5,145.3 91.8,137.1 100.0,127.6" fill="#0f6cb6" stroke="#0f6cb6" stroke-width="0.35"/>
<polygon points="88.2,114.1 94.7,115.3 97.1,108.8 100.3,110.6 103.5,110.0 105.3,112.4 106.5,119.4 100.0,127.6 91.8,137.1 85.5,145.3 82.4,140.6 80.0,134.7 87.6,126.5 87.1,115.9" fill="#6497d5" stroke="#6497d5" stroke-width="0.35"/>
<polygon points="87.6,148.2 89.5,147.3 93.0,145.5 100.0,144.7 103.5,142.9 112.9,138.2 118.2,134.1 127.6,123.5 141.2,123.5 141.8,127.6 145.3,128.8 148.8,125.3 167.0,127.5 167.6,128.8 164.1,131.2 157.1,134.7 148.8,141.8 144.1,145.3 141.8,154.7 140.6,165.3 143.5,174.1 137.1,178.8 131.2,180.6 127.6,179.4 124.1,174.7 121.2,170.6 116.5,172.4 112.9,175.9 110.6,181.8 108.2,184.1 106.5,181.8 104.7,175.9 103.5,168.8 100.0,168.2 92.9,170.0 91.2,166.5 89.4,160.6 87.1,156.5 86.3,152.0 85.5,145.3" fill="#0f6cb6" stroke="#0f6cb6" stroke-width="0.35"/>
<polygon points="30.6,91.2 37.6,88.8 41.2,81.8 47.2,79.0 51.8,75.8 55.4,74.9 61.5,76.0 66.0,74.5 70.0,73.5 74.0,71.0 76.8,68.2 80.0,70.0 80.6,72.6 82.9,82.9 81.6,88.6 75.6,96.6 67.3,103.8 58.8,105.3 49.4,103.5 42.4,99.4 35.3,95.9" fill="#6497d5" stroke="#6497d5" stroke-width="0.35"/>
<path d="M113.5 16.5L115.9 17.6 M115.9 17.6L118.2 22.4 M118.2 22.4L121.8 24.7 M121.8 24.7L125.3 23.8 M125.3 23.8L127.1 23.5 M107.6 17.6L115.3 17.6 M115.3 17.6L118.2 21.8 M118.2 21.8L114.7 25.9 M114.7 25.9L105.3 27.1 M105.3 27.1L95.9 25.9 M95.9 25.9L92.6 22.4 M92.6 22.4L93.5 18.5 M121.8 24.7L125.3 23.8 M125.3 23.8L127.1 23.5 M127.6 34.1L125.3 40.0 M125.3 40.0L125.3 47.4 M125.3 47.4L119.4 51.8 M119.4 51.8L119.4 45.9 M119.4 45.9L120.0 35.3 M120.0 35.3L118.2 30.6 M118.2 30.6L114.7 25.9 M114.7 25.9L118.2 21.8 M118.2 21.8L121.8 24.7 M105.3 27.1L114.7 25.9 M114.7 25.9L118.2 30.6 M118.2 30.6L120.0 35.3 M120.0 35.3L119.4 45.9 M119.4 45.9L113.5 41.2 M113.5 41.2L105.3 35.3 M105.3 35.3L105.3 27.1 M101.8 38.8L105.3 35.3 M105.3 35.3L113.5 41.2 M113.5 41.2L119.4 45.9 M119.4 45.9L119.4 51.8 M119.4 51.8L113.5 54.7 M107.6 55.3L101.8 48.2 M101.8 48.2L101.8 38.8 M93.5 18.5L92.6 22.4 M92.6 22.4L95.9 25.9 M95.9 25.9L105.3 27.1 M105.3 27.1L105.3 35.3 M105.3 35.3L101.8 38.8 M101.8 38.8L101.0 35.0 M101.0 35.0L89.4 37.1 M89.4 37.1L75.3 42.4 M75.3 42.4L69.4 45.9 M69.4 45.9L75.3 42.4 M75.3 42.4L89.4 37.1 M89.4 37.1L101.0 35.0 M101.0 35.0L101.8 38.8 M101.8 38.8L101.8 48.2 M101.8 48.2L107.6 55.3 M113.5 54.7L115.3 63.5 M115.3 63.5L105.3 67.6 M105.3 67.6L104.7 75.3 M104.7 75.3L97.0 74.7 M97.0 74.7L92.9 71.8 M92.9 71.8L89.4 71.8 M113.5 54.7L119.4 51.8 M119.4 51.8L125.3 47.4 M125.3 47.4L132.4 52.9 M132.4 52.9L134.7 57.6 M134.7 57.6L132.4 61.2 M132.4 61.2L131.8 70.6 M131.8 70.6L130.0 76.5 M130.0 76.5L127.6 78.2 M127.6 78.2L125.3 75.3 M125.3 75.3L118.2 69.4 M118.2 69.4L115.3 63.5 M115.3 63.5L113.5 54.7 M153.5 55.3L143.0 55.9 M143.0 55.9L137.1 57.6 M137.1 57.6L134.7 57.6 M134.7 57.6L132.4 52.9 M132.4 52.9L125.3 47.4 M125.3 47.4L125.3 40.0 M125.3 40.0L127.6 34.1 M134.7 57.6L137.1 57.6 M137.1 57.6L143.0 55.9 M143.0 55.9L146.5 63.5 M146.5 63.5L144.1 69.4 M144.1 69.4L146.0 76.0 M146.0 76.0L147.6 81.8 M147.6 81.8L139.4 87.6 M139.4 87.6L134.7 80.6 M134.7 80.6L128.8 78.8 M128.8 78.8L127.6 78.2 M127.6 78.2L130.0 76.5 M130.0 76.5L131.8 70.6 M131.8 70.6L132.4 61.2 M132.4 61.2L134.7 57.6 M143.0 55.9L153.5 55.3 M164.1 62.1L161.8 74.1 M161.8 74.1L162.9 74.7 M162.9 74.7L153.5 82.4 M153.5 82.4L147.6 81.8 M147.6 81.8L146.0 76.0 M146.0 76.0L144.1 69.4 M144.1 69.4L146.5 63.5 M146.5 63.5L143.0 55.9 M182.9 85.3L181.0 85.8 M181.0 85.8L172.4 80.0 M172.4 80.0L162.9 74.7 M162.9 74.7L161.8 74.1 M161.8 74.1L164.1 62.1 M162.9 74.7L172.4 80.0 M172.4 80.0L181.0 85.8 M181.0 85.8L182.9 85.3 M174.7 94.7L157.1 95.9 M157.1 95.9L155.3 88.8 M155.3 88.8L153.5 82.4 M153.5 82.4L162.9 74.7 M139.4 87.6L147.6 81.8 M147.6 81.8L153.5 82.4 M153.5 82.4L155.3 88.8 M155.3 88.8L157.1 95.9 M157.1 95.9L153.5 99.4 M153.5 99.4L150.0 104.4 M150.0 104.4L139.4 111.2 M139.4 111.2L132.9 110.2 M132.9 110.2L136.5 100.6 M136.5 100.6L138.2 91.5 M138.2 91.5L139.4 87.6 M123.5 81.8L128.8 78.8 M128.8 78.8L134.7 80.6 M134.7 80.6L139.4 87.6 M139.4 87.6L138.2 91.5 M138.2 91.5L120.6 98.5 M120.6 98.5L119.4 93.5 M119.4 93.5L119.4 84.7 M119.4 84.7L123.5 81.8 M120.6 98.5L138.2 91.5 M138.2 91.5L136.5 100.6 M136.5 100.6L132.9 110.2 M132.9 110.2L121.2 110.0 M121.2 110.0L120.0 102.9 M120.0 102.9L120.6 98.5 M105.3 67.6L115.3 63.5 M115.3 63.5L118.2 69.4 M118.2 69.4L125.3 75.3 M125.3 75.3L127.6 78.2 M127.6 78.2L128.8 78.8 M128.8 78.8L123.5 81.8 M123.5 81.8L119.4 84.7 M119.4 84.7L106.5 84.7 M106.5 84.7L105.3 84.1 M105.3 84.1L103.5 78.2 M103.5 78.2L104.7 75.3 M104.7 75.3L105.3 67.6 M94.1 77.1L103.5 78.2 M103.5 78.2L105.3 84.1 M105.3 84.1L106.5 84.7 M106.5 84.7L107.6 88.2 M107.6 88.2L104.1 91.2 M104.1 91.2L102.6 96.8 M102.6 96.8L95.6 98.2 M95.6 98.2L91.2 94.4 M107.6 88.2L106.5 84.7 M106.5 84.7L119.4 84.7 M119.4 84.7L119.4 93.5 M119.4 93.5L116.5 99.4 M116.5 99.4L112.4 93.5 M112.4 93.5L107.6 88.2 M95.6 98.2L102.6 96.8 M102.6 96.8L104.1 91.2 M104.1 91.2L107.6 88.2 M107.6 88.2L112.4 93.5 M112.4 93.5L116.5 99.4 M116.5 99.4L119.4 93.5 M119.4 93.5L120.6 98.5 M120.6 98.5L120.0 102.9 M120.0 102.9L104.4 105.3 M104.4 105.3L103.5 110.0 M103.5 110.0L100.3 110.6 M100.3 110.6L97.1 108.8 M97.1 108.8L95.6 104.1 M95.6 104.1L95.6 98.2 M91.2 94.4L95.6 98.2 M95.6 98.2L95.6 104.1 M95.6 104.1L97.1 108.8 M97.1 108.8L94.7 115.3 M94.7 115.3L88.2 114.1 M104.4 105.3L120.0 102.9 M120.0 102.9L121.2 110.0 M121.2 110.0L120.3 116.5 M120.3 116.5L106.5 119.4 M106.5 119.4L105.3 112.4 M105.3 112.4L104.4 105.3 M121.2 110.0L132.9 110.2 M132.9 110.2L139.4 111.2 M139.4 111.2L139.4 114.7 M139.4 114.7L141.2 123.5 M141.2 123.5L127.6 123.5 M127.6 123.5L120.3 116.5 M120.3 116.5L121.2 110.0 M139.4 111.2L150.0 104.4 M150.0 104.4L154.1 106.5 M154.1 106.5L155.3 110.0 M155.3 110.0L152.4 117.1 M152.4 117.1L148.8 125.3 M148.8 125.3L145.3 128.8 M145.3 128.8L141.8 127.6 M141.8 127.6L141.2 123.5 M141.2 123.5L139.4 114.7 M139.4 114.7L139.4 111.2 M157.1 95.9L174.7 94.7 M148.8 125.3L152.4 117.1 M152.4 117.1L155.3 110.0 M155.3 110.0L154.1 106.5 M154.1 106.5L150.0 104.4 M150.0 104.4L153.5 99.4 M153.5 99.4L157.1 95.9 M106.5 119.4L120.3 116.5 M120.3 116.5L127.6 123.5 M127.6 123.5L118.2 134.1 M118.2 134.1L112.9 138.2 M112.9 138.2L103.5 142.9 M103.5 142.9L100.0 144.7 M100.0 144.7L93.0 145.5 M93.0 145.5L89.5 147.3 M89.5 147.3L87.6 148.2 M85.5 145.3L91.8 137.1 M91.8 137.1L100.0 127.6 M100.0 127.6L106.5 119.4 M88.2 114.1L94.7 115.3 M94.7 115.3L97.1 108.8 M97.1 108.8L100.3 110.6 M100.3 110.6L103.5 110.0 M103.5 110.0L105.3 112.4 M105.3 112.4L106.5 119.4 M106.5 119.4L100.0 127.6 M100.0 127.6L91.8 137.1 M91.8 137.1L85.5 145.3 M87.6 148.2L89.5 147.3 M89.5 147.3L93.0 145.5 M93.0 145.5L100.0 144.7 M100.0 144.7L103.5 142.9 M103.5 142.9L112.9 138.2 M112.9 138.2L118.2 134.1 M118.2 134.1L127.6 123.5 M127.6 123.5L141.2 123.5 M141.2 123.5L141.8 127.6 M141.8 127.6L145.3 128.8 M145.3 128.8L148.8 125.3 M80.6 72.6L82.9 82.9 M82.9 82.9L81.6 88.6 M81.6 88.6L75.6 96.6 M75.6 96.6L67.3 103.8 M67.3 103.8L58.8 105.3 M58.8 105.3L49.4 103.5 M49.4 103.5L42.4 99.4 M42.4 99.4L35.3 95.9 M35.3 95.9L30.6 91.2" fill="none" stroke="#d3d5d8" stroke-width="1.2" stroke-linecap="round"/>
<polygon points="125.9,5.3 127.1,23.5 127.6,34.1 137.1,38.8 145.3,44.1 151.2,50.6 153.5,55.3 158.2,60.0 165.3,61.8 174.7,61.2 180.6,64.7 184.1,70.6 184.7,76.0 181.8,81.8 182.9,85.3 184.1,87.6 180.6,91.2 174.7,94.7 172.4,96.5 177.6,100.0 172.4,103.5 167.6,106.5 168.2,110.0 172.4,111.8 168.8,115.3 164.1,117.1 165.3,120.6 170.0,121.0 166.5,125.3 167.6,128.8 164.1,131.2 157.1,134.7 148.8,141.8 144.1,145.3 141.8,154.7 140.6,165.3 143.5,174.1 137.1,178.8 131.2,180.6 127.6,179.4 124.1,174.7 121.2,170.6 116.5,172.4 112.9,175.9 110.6,181.8 108.2,184.1 106.5,181.8 104.7,175.9 103.5,168.8 100.0,168.2 92.9,170.0 91.2,166.5 89.4,160.6 87.1,156.5 76.5,156.5 67.1,157.1 61.2,158.8 51.8,157.1 41.2,153.5 42.4,147.6 37.6,148.2 34.7,146.5 35.3,139.4 32.4,132.4 33.5,127.6 29.4,120.6 28.8,114.7 25.3,111.2 26.5,105.3 28.2,100.6 25.3,98.2 25.9,94.7 30.6,91.2 37.6,88.8 41.2,81.8 47.2,79.0 51.8,75.8 55.4,74.9 61.5,76.0 66.0,74.5 70.0,73.5 74.0,71.0 76.8,68.2 80.0,70.0 81.5,72.9 89.4,71.8 88.8,69.4 89.4,64.7 91.8,61.2 82.4,54.1 69.4,45.9 61.8,40.0 70.6,35.3 75.3,30.6 69.4,28.2 76.5,23.5 82.4,21.2 84.7,17.6 88.2,12.9 92.9,14.1 93.5,18.5 107.6,17.6 112.9,16.0 113.5,11.8 121.8,9.4" fill="none" stroke="#a3a6ac" stroke-width="1" stroke-linejoin="round"/>
<g fill="none" stroke="#5a5a5e" stroke-width="0.6" stroke-dasharray="1.8 1.5" stroke-opacity="0.8">
<polyline points="90.2,61.5 96.4,58.5 105.9,56.0 113.5,54.7 119.4,51.8 125.3,47.4 132.4,52.9 134.7,57.6 137.1,57.6 143.0,55.9 153.5,55.3"/>
<polyline points="96.4,58.5 98.4,67.7 100.5,73.8 96.4,76.9 90.2,79.0 88.2,79.4 89.4,87.6 91.2,94.4 87.1,95.9 84.1,99.4 84.1,104.1 86.5,108.8 88.2,114.1 87.1,115.9 87.6,126.5 80.0,134.7 82.4,140.6 85.5,145.3 86.3,152.0 87.1,156.5"/>
<polyline points="104.7,75.3 110.7,81.0 116.9,88.2 119.4,93.5 120.6,98.5 120.0,102.9 121.2,110.0 132.9,110.2 139.4,111.2 139.4,114.7 141.2,123.5 141.8,127.6 145.3,128.8 148.8,125.3 167.0,127.5"/>
</g>
<g font-family="'Liberation Sans',sans-serif" text-anchor="middle">
<g font-size="7.05" fill="#6c6c70">
<text x="45.8" y="13.80">HYDERABAD</text>
<text x="164.1" y="31.80">MIRPUR KHAS</text>
<text x="38.4" y="52.80">TANDO</text>
<text x="38.4" y="59.80">MUHAMMAD</text>
<text x="38.4" y="65.80">KHAN</text>
<text x="37.6" y="173.80">THATTA</text>
<text x="180.2" y="151.80">THARPARKAR</text>
</g>
<text x="148.0" y="189.80" font-size="9.1" fill="#c3c3c6">INDIA</text>
<g font-size="7.15" fill="#b9bdc5" fill-opacity="0.95">
<text x="96.8" y="40.80" font-size="7.5">Matli</text>
<text x="144.9" y="81.80" font-size="7.5">Tando Bago</text>
<text x="54.8" y="108.80" font-size="7.2">Shaheed Fazal</text>
<text x="56.3" y="115.80" font-size="7.2">Rahu</text>
<text x="113.2" y="141.80" font-size="7.5">Badin</text>
</g>
<g font-size="4.45" fill="#6e6e72">
<text x="121.0" y="16.80">Halepota</text>
<text x="100.1" y="21.80">Ghulam Shah</text>
<text x="104.1" y="26.80">Laghari</text>
<text x="121.7" y="30.80">Dumbalo</text>
<text x="87.1" y="32.80">Malhan</text>
<text x="114.6" y="35.80">Tando</text>
<text x="114.6" y="39.80">Ghulam</text>
<text x="114.6" y="43.80">Ali</text>
<text x="86.2" y="47.80">Haji</text>
<text x="87.1" y="52.80">Sanwal</text>
<text x="109.3" y="51.80">Thari</text>
<text x="139.5" y="46.80">Budho</text>
<text x="138.6" y="51.80">Qambrani</text>
<text x="104.7" y="63.80">Talhar</text>
<text x="124.7" y="60.80">Rajo</text>
<text x="124.7" y="65.80">Khanani</text>
<text x="153.1" y="68.80">Dadah</text>
<text x="139.2" y="75.80">Khadro</text>
<text x="174.1" y="75.80">Khairpur</text>
<text x="114.9" y="79.80">Saeedpur</text>
<text x="97.9" y="84.80">Peero</text>
<text x="97.9" y="88.80">Lashari</text>
<text x="128.4" y="86.80">Tando</text>
<text x="128.4" y="90.80">Bagho</text>
<text x="167.0" y="88.80">Pangrio</text>
<text x="60.1" y="91.80">Kario</text>
<text x="145.4" y="94.80">Khalifo</text>
<text x="145.4" y="99.80">Qasim</text>
<text x="163.3" y="100.80">Dai</text>
<text x="162.7" y="105.80">Jarkas</text>
<text x="106.9" y="102.80">Badin 1</text>
<text x="127.8" y="101.80">Pahar</text>
<text x="127.2" y="106.80">Mari</text>
<text x="90.8" y="106.80">Kadiwala</text>
<text x="113.0" y="110.80">Badin</text>
<text x="113.0" y="114.80">2</text>
<text x="130.9" y="116.80">Nindo</text>
<text x="130.9" y="121.80">Shahar</text>
<text x="146.9" y="117.80">Khoski</text>
<text x="93.3" y="121.80">Muhammad</text>
<text x="93.3" y="126.80">Khan</text>
<text x="93.3" y="130.80">Bhurgari</text>
<text x="112.4" y="126.80">Luwari</text>
<text x="112.4" y="130.80">Sharif</text>
<text x="56.0" y="134.80">Ghari</text>
<text x="118.0" y="155.80">Kadhan</text>
</g>
</g>
</g>
<rect x="0.5" y="0.5" width="209" height="192.80" fill="none" stroke="#9d9da1" stroke-width="1"/>
</svg>
<rect x="581.00" y="275.35" width="211.40" height="14.55" fill="#6d6e70"/>
<svg x="806.10" y="289.80" width="210" height="193.80" overflow="hidden">
<g transform="translate(-0.85 1.90)">
<rect x="-3" y="-3" width="216" height="199" fill="#f6f6f6"/>
<polygon points="92.6,165.0 143.5,174.1 151.2,175.9 160.6,179.4 164.1,179.4 172.4,175.9 179.4,173.5 187.6,174.7 195.9,174.5 202.9,173.5 208.8,174.7 213.0,175.3 213.0,196.0 92.6,196.0" fill="#e2e2e4"/>
<g fill="none" stroke="#a9a9ad" stroke-width="1.05" stroke-linejoin="round">
<polyline points="-3.0,5.1 7.0,5.9 15.3,7.0 22.4,5.9 23.5,4.7 21.2,0.0"/>
<polyline points="23.5,4.7 20.6,10.6 21.2,15.3 22.4,20.0 25.3,23.5 25.3,30.6 22.9,32.9 15.3,34.1 11.8,36.5 10.0,43.5 9.4,55.3 11.8,58.8 17.6,64.7 17.0,67.0 11.8,70.6 10.0,73.0 11.8,76.0 15.3,81.2 16.5,85.3 24.7,91.8 25.9,94.7"/>
<polyline points="22.4,20.0 27.1,23.5 34.1,26.5 38.8,25.3 43.5,24.7 49.4,27.6 55.3,27.1 58.8,22.4 62.4,23.5 65.9,20.0 66.5,15.3 71.8,14.7 72.4,11.8 75.3,8.8 81.2,7.6 84.7,9.4 88.2,12.9"/>
<polyline points="63.5,0.0 67.6,3.5 68.8,8.2 67.6,14.7"/>
<polyline points="184.6,0.0 190.7,8.2 192.5,18.0 194.8,30.8 197.9,45.1 205.0,55.4 209.0,59.5 213.0,66.0"/>
<polyline points="184.1,87.6 195.9,81.2 202.9,78.2 213.0,74.2"/>
<polyline points="143.5,174.1 151.2,175.9 160.6,179.4 164.1,179.4 172.4,175.9 179.4,173.5 187.6,174.7 195.9,174.5 202.9,173.5 208.8,174.7 213.0,175.3" stroke="#a0a0a4" stroke-width="1.3"/>
<polyline points="92.6,170.0 92.6,196.0" stroke="#a0a0a4" stroke-width="1.3"/>
</g>
<g fill="none" stroke="#66666a" stroke-width="0.7" stroke-dasharray="1.9 1.4">
<polyline points="34.1,0.0 35.3,5.9"/>
<polyline points="47.1,15.3 44.1,18.8 43.5,24.7"/>
<polyline points="49.4,27.6 51.8,31.8 52.9,34.7 48.2,36.5 45.9,41.2 48.2,45.9 50.6,47.1"/>
<polyline points="64.7,44.7 65.9,50.6 64.7,56.5 61.2,59.4 51.8,63.5 50.6,65.9 54.1,68.8 49.4,72.9 47.1,77.6"/>
<polyline points="0.0,62.4 7.0,57.6 9.4,56.5"/>
<polyline points="0.0,113.5 5.9,118.2 17.6,119.4 28.8,117.1"/>
<polyline points="5.9,118.2 4.7,121.8 0.0,123.5"/>
<polyline points="126.5,1.8 142.9,2.4 143.5,1.2"/>
<polyline points="142.9,2.4 144.1,11.8 147.6,15.3 159.4,17.6 160.6,23.5 165.3,31.8 172.4,39.4 179.4,40.0 190.0,36.5 195.9,32.9 208.8,24.7"/>
<polyline points="172.4,39.4 173.5,44.7 167.6,48.2 160.6,50.6 159.4,54.1 164.1,57.6 171.2,57.6 172.4,54.1 174.1,58.8"/>
<polyline points="197.0,81.2 202.9,82.9 210.0,84.1"/>
</g>
<polygon points="125.9,5.3 127.1,23.5 127.6,34.1 137.1,38.8 145.3,44.1 151.2,50.6 153.5,55.3 158.2,60.0 165.3,61.8 174.7,61.2 180.6,64.7 184.1,70.6 184.7,76.0 181.8,81.8 182.9,85.3 184.1,87.6 180.6,91.2 174.7,94.7 172.4,96.5 177.6,100.0 172.4,103.5 167.6,106.5 168.2,110.0 172.4,111.8 168.8,115.3 164.1,117.1 165.3,120.6 170.0,121.0 166.5,125.3 167.6,128.8 164.1,131.2 157.1,134.7 148.8,141.8 144.1,145.3 141.8,154.7 140.6,165.3 143.5,174.1 137.1,178.8 131.2,180.6 127.6,179.4 124.1,174.7 121.2,170.6 116.5,172.4 112.9,175.9 110.6,181.8 108.2,184.1 106.5,181.8 104.7,175.9 103.5,168.8 100.0,168.2 92.9,170.0 91.2,166.5 89.4,160.6 87.1,156.5 76.5,156.5 67.1,157.1 61.2,158.8 51.8,157.1 41.2,153.5 42.4,147.6 37.6,148.2 34.7,146.5 35.3,139.4 32.4,132.4 33.5,127.6 29.4,120.6 28.8,114.7 25.3,111.2 26.5,105.3 28.2,100.6 25.3,98.2 25.9,94.7 30.6,91.2 37.6,88.8 41.2,81.8 47.2,79.0 51.8,75.8 55.4,74.9 61.5,76.0 66.0,74.5 70.0,73.5 74.0,71.0 76.8,68.2 80.0,70.0 81.5,72.9 89.4,71.8 88.8,69.4 89.4,64.7 91.8,61.2 82.4,54.1 69.4,45.9 61.8,40.0 70.6,35.3 75.3,30.6 69.4,28.2 76.5,23.5 82.4,21.2 84.7,17.6 88.2,12.9 92.9,14.1 93.5,18.5 107.6,17.6 112.9,16.0 113.5,11.8 121.8,9.4" fill="#6497d5" stroke="#a3a6ac" stroke-width="1.3" stroke-linejoin="round"/>
<polygon points="125.9,5.3 121.8,9.4 113.5,11.8 113.5,16.5 115.9,17.6 118.2,22.4 121.8,24.7 125.3,23.8 127.1,23.5" fill="#c8d7f0" stroke="#c8d7f0" stroke-width="0.35"/>
<polygon points="93.5,18.5 107.6,17.6 115.3,17.6 118.2,21.8 114.7,25.9 105.3,27.1 95.9,25.9 92.6,22.4" fill="#c8d7f0" stroke="#c8d7f0" stroke-width="0.35"/>
<polygon points="121.8,24.7 125.3,23.8 127.1,23.5 127.6,34.1 125.3,40.0 125.3,47.4 119.4,51.8 119.4,45.9 120.0,35.3 118.2,30.6 114.7,25.9 118.2,21.8" fill="#c8d7f0" stroke="#c8d7f0" stroke-width="0.35"/>
<polygon points="105.3,27.1 114.7,25.9 118.2,30.6 120.0,35.3 119.4,45.9 113.5,41.2 105.3,35.3" fill="#c8d7f0" stroke="#c8d7f0" stroke-width="0.35"/>
<polygon points="101.8,38.8 105.3,35.3 113.5,41.2 119.4,45.9 119.4,51.8 113.5,54.7 107.6,55.3 101.8,48.2" fill="#6497d5" stroke="#6497d5" stroke-width="0.35"/>
<polygon points="88.2,12.9 92.9,14.1 93.5,18.5 92.6,22.4 95.9,25.9 105.3,27.1 105.3,35.3 101.8,38.8 101.0,35.0 89.4,37.1 75.3,42.4 69.4,45.9 61.8,40.0 70.6,35.3 75.3,30.6 69.4,28.2 76.5,23.5 82.4,21.2 84.7,17.6" fill="#6497d5" stroke="#6497d5" stroke-width="0.35"/>
<polygon points="69.4,45.9 75.3,42.4 89.4,37.1 101.0,35.0 101.8,38.8 101.8,48.2 107.6,55.3 100.0,57.0 91.8,61.2 82.4,54.1" fill="#6497d5" stroke="#6497d5" stroke-width="0.35"/>
<polygon points="91.8,61.2 100.0,57.0 107.6,55.3 113.5,54.7 115.3,63.5 105.3,67.6 104.7,75.3 97.0,74.7 92.9,71.8 89.4,71.8 88.8,69.4 89.4,64.7" fill="#c8d7f0" stroke="#c8d7f0" stroke-width="0.35"/>
<polygon points="113.5,54.7 119.4,51.8 125.3,47.4 132.4,52.9 134.7,57.6 132.4,61.2 131.8,70.6 130.0,76.5 127.6,78.2 125.3,75.3 118.2,69.4 115.3,63.5" fill="#6497d5" stroke="#6497d5" stroke-width="0.35"/>
<polygon points="127.6,34.1 137.1,38.8 145.3,44.1 151.2,50.6 153.5,55.3 143.0,55.9 137.1,57.6 134.7,57.6 132.4,52.9 125.3,47.4 125.3,40.0" fill="#6497d5" stroke="#6497d5" stroke-width="0.35"/>
<polygon points="134.7,57.6 137.1,57.6 143.0,55.9 146.5,63.5 144.1,69.4 146.0,76.0 147.6,81.8 139.4,87.6 134.7,80.6 128.8,78.8 127.6,78.2 130.0,76.5 131.8,70.6 132.4,61.2" fill="#6497d5" stroke="#6497d5" stroke-width="0.35"/>
<polygon points="143.0,55.9 153.5,55.3 158.2,60.0 164.1,62.1 161.8,74.1 162.9,74.7 153.5,82.4 147.6,81.8 146.0,76.0 144.1,69.4 146.5,63.5" fill="#6497d5" stroke="#6497d5" stroke-width="0.35"/>
<polygon points="164.1,62.1 165.3,61.8 174.7,61.2 180.6,64.7 184.1,70.6 184.7,76.0 181.8,81.8 182.9,85.3 181.0,85.8 172.4,80.0 162.9,74.7 161.8,74.1" fill="#6497d5" stroke="#6497d5" stroke-width="0.35"/>
<polygon points="162.9,74.7 172.4,80.0 181.0,85.8 182.9,85.3 184.1,87.6 180.6,91.2 174.7,94.7 157.1,95.9 155.3,88.8 153.5,82.4" fill="#0f6cb6" stroke="#0f6cb6" stroke-width="0.35"/>
<polygon points="139.4,87.6 147.6,81.8 153.5,82.4 155.3,88.8 157.1,95.9 153.5,99.4 150.0,104.4 139.4,111.2 132.9,110.2 136.5,100.6 138.2,91.5" fill="#6497d5" stroke="#6497d5" stroke-width="0.35"/>
<polygon points="123.5,81.8 128.8,78.8 134.7,80.6 139.4,87.6 138.2,91.5 120.6,98.5 119.4,93.5 119.4,84.7" fill="#c8d7f0" stroke="#c8d7f0" stroke-width="0.35"/>
<polygon points="120.6,98.5 138.2,91.5 136.5,100.6 132.9,110.2 121.2,110.0 120.0,102.9" fill="#c8d7f0" stroke="#c8d7f0" stroke-width="0.35"/>
<polygon points="105.3,67.6 115.3,63.5 118.2,69.4 125.3,75.3 127.6,78.2 128.8,78.8 123.5,81.8 119.4,84.7 106.5,84.7 105.3,84.1 103.5,78.2 104.7,75.3" fill="#6497d5" stroke="#6497d5" stroke-width="0.35"/>
<polygon points="88.2,79.4 94.1,77.1 103.5,78.2 105.3,84.1 106.5,84.7 107.6,88.2 104.1,91.2 102.6,96.8 95.6,98.2 91.2,94.4 89.4,87.6" fill="#c8d7f0" stroke="#c8d7f0" stroke-width="0.35"/>
<polygon points="107.6,88.2 106.5,84.7 119.4,84.7 119.4,93.5 116.5,99.4 112.4,93.5" fill="#c8d7f0" stroke="#c8d7f0" stroke-width="0.35"/>
<polygon points="95.6,98.2 102.6,96.8 104.1,91.2 107.6,88.2 112.4,93.5 116.5,99.4 119.4,93.5 120.6,98.5 120.0,102.9 104.4,105.3 103.5,110.0 100.3,110.6 97.1,108.8 95.6,104.1" fill="#c8d7f0" stroke="#c8d7f0" stroke-width="0.35"/>
<polygon points="87.1,95.9 91.2,94.4 95.6,98.2 95.6,104.1 97.1,108.8 94.7,115.3 88.2,114.1 86.5,108.8 84.1,104.1 84.1,99.4" fill="#c8d7f0" stroke="#c8d7f0" stroke-width="0.35"/>
<polygon points="104.4,105.3 120.0,102.9 121.2,110.0 120.3,116.5 106.5,119.4 105.3,112.4" fill="#c8d7f0" stroke="#c8d7f0" stroke-width="0.35"/>
<polygon points="121.2,110.0 132.9,110.2 139.4,111.2 139.4,114.7 141.2,123.5 127.6,123.5 120.3,116.5" fill="#6497d5" stroke="#6497d5" stroke-width="0.35"/>
<polygon points="139.4,111.2 150.0,104.4 154.1,106.5 155.3,110.0 152.4,117.1 148.8,125.3 145.3,128.8 141.8,127.6 141.2,123.5 139.4,114.7" fill="#c8d7f0" stroke="#c8d7f0" stroke-width="0.35"/>
<polygon points="157.1,95.9 174.7,94.7 172.4,96.5 177.6,100.0 172.4,103.5 167.6,106.5 168.2,110.0 172.4,111.8 168.8,115.3 164.1,117.1 165.3,120.6 170.0,121.0 166.5,125.3 167.0,127.5 148.8,125.3 152.4,117.1 155.3,110.0 154.1,106.5 150.0,104.4 153.5,99.4" fill="#6497d5" stroke="#6497d5" stroke-width="0.35"/>
<polygon points="106.5,119.4 120.3,116.5 127.6,123.5 118.2,134.1 112.9,138.2 103.5,142.9 100.0,144.7 93.0,145.5 89.5,147.3 87.6,148.2 85.5,145.3 91.8,137.1 100.0,127.6" fill="#c8d7f0" stroke="#c8d7f0" stroke-width="0.35"/>
<polygon points="88.2,114.1 94.7,115.3 97.1,108.8 100.3,110.6 103.5,110.0 105.3,112.4 106.5,119.4 100.0,127.6 91.8,137.1 85.5,145.3 82.4,140.6 80.0,134.7 87.6,126.5 87.1,115.9" fill="#6497d5" stroke="#6497d5" stroke-width="0.35"/>
<polygon points="87.6,148.2 89.5,147.3 93.0,145.5 100.0,144.7 103.5,142.9 112.9,138.2 118.2,134.1 127.6,123.5 141.2,123.5 141.8,127.6 145.3,128.8 148.8,125.3 167.0,127.5 167.6,128.8 164.1,131.2 157.1,134.7 148.8,141.8 144.1,145.3 141.8,154.7 140.6,165.3 143.5,174.1 137.1,178.8 131.2,180.6 127.6,179.4 124.1,174.7 121.2,170.6 116.5,172.4 112.9,175.9 110.6,181.8 108.2,184.1 106.5,181.8 104.7,175.9 103.5,168.8 100.0,168.2 92.9,170.0 91.2,166.5 89.4,160.6 87.1,156.5 86.3,152.0 85.5,145.3" fill="#6497d5" stroke="#6497d5" stroke-width="0.35"/>
<polygon points="30.6,91.2 37.6,88.8 41.2,81.8 47.2,79.0 51.8,75.8 55.4,74.9 61.5,76.0 66.0,74.5 70.0,73.5 74.0,71.0 76.8,68.2 80.0,70.0 80.6,72.6 82.9,82.9 81.6,88.6 75.6,96.6 67.3,103.8 58.8,105.3 49.4,103.5 42.4,99.4 35.3,95.9" fill="#6497d5" stroke="#6497d5" stroke-width="0.35"/>
<path d="M113.5 16.5L115.9 17.6 M115.9 17.6L118.2 22.4 M118.2 22.4L121.8 24.7 M121.8 24.7L125.3 23.8 M125.3 23.8L127.1 23.5 M107.6 17.6L115.3 17.6 M115.3 17.6L118.2 21.8 M118.2 21.8L114.7 25.9 M114.7 25.9L105.3 27.1 M105.3 27.1L95.9 25.9 M95.9 25.9L92.6 22.4 M92.6 22.4L93.5 18.5 M121.8 24.7L125.3 23.8 M125.3 23.8L127.1 23.5 M127.6 34.1L125.3 40.0 M125.3 40.0L125.3 47.4 M125.3 47.4L119.4 51.8 M119.4 51.8L119.4 45.9 M119.4 45.9L120.0 35.3 M120.0 35.3L118.2 30.6 M118.2 30.6L114.7 25.9 M114.7 25.9L118.2 21.8 M118.2 21.8L121.8 24.7 M105.3 27.1L114.7 25.9 M114.7 25.9L118.2 30.6 M118.2 30.6L120.0 35.3 M120.0 35.3L119.4 45.9 M119.4 45.9L113.5 41.2 M113.5 41.2L105.3 35.3 M105.3 35.3L105.3 27.1 M101.8 38.8L105.3 35.3 M105.3 35.3L113.5 41.2 M113.5 41.2L119.4 45.9 M119.4 45.9L119.4 51.8 M119.4 51.8L113.5 54.7 M107.6 55.3L101.8 48.2 M101.8 48.2L101.8 38.8 M93.5 18.5L92.6 22.4 M92.6 22.4L95.9 25.9 M95.9 25.9L105.3 27.1 M105.3 27.1L105.3 35.3 M105.3 35.3L101.8 38.8 M101.8 38.8L101.0 35.0 M101.0 35.0L89.4 37.1 M89.4 37.1L75.3 42.4 M75.3 42.4L69.4 45.9 M69.4 45.9L75.3 42.4 M75.3 42.4L89.4 37.1 M89.4 37.1L101.0 35.0 M101.0 35.0L101.8 38.8 M101.8 38.8L101.8 48.2 M101.8 48.2L107.6 55.3 M113.5 54.7L115.3 63.5 M115.3 63.5L105.3 67.6 M105.3 67.6L104.7 75.3 M104.7 75.3L97.0 74.7 M97.0 74.7L92.9 71.8 M92.9 71.8L89.4 71.8 M113.5 54.7L119.4 51.8 M119.4 51.8L125.3 47.4 M125.3 47.4L132.4 52.9 M132.4 52.9L134.7 57.6 M134.7 57.6L132.4 61.2 M132.4 61.2L131.8 70.6 M131.8 70.6L130.0 76.5 M130.0 76.5L127.6 78.2 M127.6 78.2L125.3 75.3 M125.3 75.3L118.2 69.4 M118.2 69.4L115.3 63.5 M115.3 63.5L113.5 54.7 M153.5 55.3L143.0 55.9 M143.0 55.9L137.1 57.6 M137.1 57.6L134.7 57.6 M134.7 57.6L132.4 52.9 M132.4 52.9L125.3 47.4 M125.3 47.4L125.3 40.0 M125.3 40.0L127.6 34.1 M134.7 57.6L137.1 57.6 M137.1 57.6L143.0 55.9 M143.0 55.9L146.5 63.5 M146.5 63.5L144.1 69.4 M144.1 69.4L146.0 76.0 M146.0 76.0L147.6 81.8 M147.6 81.8L139.4 87.6 M139.4 87.6L134.7 80.6 M134.7 80.6L128.8 78.8 M128.8 78.8L127.6 78.2 M127.6 78.2L130.0 76.5 M130.0 76.5L131.8 70.6 M131.8 70.6L132.4 61.2 M132.4 61.2L134.7 57.6 M143.0 55.9L153.5 55.3 M164.1 62.1L161.8 74.1 M161.8 74.1L162.9 74.7 M162.9 74.7L153.5 82.4 M153.5 82.4L147.6 81.8 M147.6 81.8L146.0 76.0 M146.0 76.0L144.1 69.4 M144.1 69.4L146.5 63.5 M146.5 63.5L143.0 55.9 M182.9 85.3L181.0 85.8 M181.0 85.8L172.4 80.0 M172.4 80.0L162.9 74.7 M162.9 74.7L161.8 74.1 M161.8 74.1L164.1 62.1 M162.9 74.7L172.4 80.0 M172.4 80.0L181.0 85.8 M181.0 85.8L182.9 85.3 M174.7 94.7L157.1 95.9 M157.1 95.9L155.3 88.8 M155.3 88.8L153.5 82.4 M153.5 82.4L162.9 74.7 M139.4 87.6L147.6 81.8 M147.6 81.8L153.5 82.4 M153.5 82.4L155.3 88.8 M155.3 88.8L157.1 95.9 M157.1 95.9L153.5 99.4 M153.5 99.4L150.0 104.4 M150.0 104.4L139.4 111.2 M139.4 111.2L132.9 110.2 M132.9 110.2L136.5 100.6 M136.5 100.6L138.2 91.5 M138.2 91.5L139.4 87.6 M123.5 81.8L128.8 78.8 M128.8 78.8L134.7 80.6 M134.7 80.6L139.4 87.6 M139.4 87.6L138.2 91.5 M138.2 91.5L120.6 98.5 M120.6 98.5L119.4 93.5 M119.4 93.5L119.4 84.7 M119.4 84.7L123.5 81.8 M120.6 98.5L138.2 91.5 M138.2 91.5L136.5 100.6 M136.5 100.6L132.9 110.2 M132.9 110.2L121.2 110.0 M121.2 110.0L120.0 102.9 M120.0 102.9L120.6 98.5 M105.3 67.6L115.3 63.5 M115.3 63.5L118.2 69.4 M118.2 69.4L125.3 75.3 M125.3 75.3L127.6 78.2 M127.6 78.2L128.8 78.8 M128.8 78.8L123.5 81.8 M123.5 81.8L119.4 84.7 M119.4 84.7L106.5 84.7 M106.5 84.7L105.3 84.1 M105.3 84.1L103.5 78.2 M103.5 78.2L104.7 75.3 M104.7 75.3L105.3 67.6 M94.1 77.1L103.5 78.2 M103.5 78.2L105.3 84.1 M105.3 84.1L106.5 84.7 M106.5 84.7L107.6 88.2 M107.6 88.2L104.1 91.2 M104.1 91.2L102.6 96.8 M102.6 96.8L95.6 98.2 M95.6 98.2L91.2 94.4 M107.6 88.2L106.5 84.7 M106.5 84.7L119.4 84.7 M119.4 84.7L119.4 93.5 M119.4 93.5L116.5 99.4 M116.5 99.4L112.4 93.5 M112.4 93.5L107.6 88.2 M95.6 98.2L102.6 96.8 M102.6 96.8L104.1 91.2 M104.1 91.2L107.6 88.2 M107.6 88.2L112.4 93.5 M112.4 93.5L116.5 99.4 M116.5 99.4L119.4 93.5 M119.4 93.5L120.6 98.5 M120.6 98.5L120.0 102.9 M120.0 102.9L104.4 105.3 M104.4 105.3L103.5 110.0 M103.5 110.0L100.3 110.6 M100.3 110.6L97.1 108.8 M97.1 108.8L95.6 104.1 M95.6 104.1L95.6 98.2 M91.2 94.4L95.6 98.2 M95.6 98.2L95.6 104.1 M95.6 104.1L97.1 108.8 M97.1 108.8L94.7 115.3 M94.7 115.3L88.2 114.1 M104.4 105.3L120.0 102.9 M120.0 102.9L121.2 110.0 M121.2 110.0L120.3 116.5 M120.3 116.5L106.5 119.4 M106.5 119.4L105.3 112.4 M105.3 112.4L104.4 105.3 M121.2 110.0L132.9 110.2 M132.9 110.2L139.4 111.2 M139.4 111.2L139.4 114.7 M139.4 114.7L141.2 123.5 M141.2 123.5L127.6 123.5 M127.6 123.5L120.3 116.5 M120.3 116.5L121.2 110.0 M139.4 111.2L150.0 104.4 M150.0 104.4L154.1 106.5 M154.1 106.5L155.3 110.0 M155.3 110.0L152.4 117.1 M152.4 117.1L148.8 125.3 M148.8 125.3L145.3 128.8 M145.3 128.8L141.8 127.6 M141.8 127.6L141.2 123.5 M141.2 123.5L139.4 114.7 M139.4 114.7L139.4 111.2 M157.1 95.9L174.7 94.7 M148.8 125.3L152.4 117.1 M152.4 117.1L155.3 110.0 M155.3 110.0L154.1 106.5 M154.1 106.5L150.0 104.4 M150.0 104.4L153.5 99.4 M153.5 99.4L157.1 95.9 M106.5 119.4L120.3 116.5 M120.3 116.5L127.6 123.5 M127.6 123.5L118.2 134.1 M118.2 134.1L112.9 138.2 M112.9 138.2L103.5 142.9 M103.5 142.9L100.0 144.7 M100.0 144.7L93.0 145.5 M93.0 145.5L89.5 147.3 M89.5 147.3L87.6 148.2 M85.5 145.3L91.8 137.1 M91.8 137.1L100.0 127.6 M100.0 127.6L106.5 119.4 M88.2 114.1L94.7 115.3 M94.7 115.3L97.1 108.8 M97.1 108.8L100.3 110.6 M100.3 110.6L103.5 110.0 M103.5 110.0L105.3 112.4 M105.3 112.4L106.5 119.4 M106.5 119.4L100.0 127.6 M100.0 127.6L91.8 137.1 M91.8 137.1L85.5 145.3 M87.6 148.2L89.5 147.3 M89.5 147.3L93.0 145.5 M93.0 145.5L100.0 144.7 M100.0 144.7L103.5 142.9 M103.5 142.9L112.9 138.2 M112.9 138.2L118.2 134.1 M118.2 134.1L127.6 123.5 M127.6 123.5L141.2 123.5 M141.2 123.5L141.8 127.6 M141.8 127.6L145.3 128.8 M145.3 128.8L148.8 125.3 M80.6 72.6L82.9 82.9 M82.9 82.9L81.6 88.6 M81.6 88.6L75.6 96.6 M75.6 96.6L67.3 103.8 M67.3 103.8L58.8 105.3 M58.8 105.3L49.4 103.5 M49.4 103.5L42.4 99.4 M42.4 99.4L35.3 95.9 M35.3 95.9L30.6 91.2" fill="none" stroke="#d3d5d8" stroke-width="1.2" stroke-linecap="round"/>
<polygon points="125.9,5.3 127.1,23.5 127.6,34.1 137.1,38.8 145.3,44.1 151.2,50.6 153.5,55.3 158.2,60.0 165.3,61.8 174.7,61.2 180.6,64.7 184.1,70.6 184.7,76.0 181.8,81.8 182.9,85.3 184.1,87.6 180.6,91.2 174.7,94.7 172.4,96.5 177.6,100.0 172.4,103.5 167.6,106.5 168.2,110.0 172.4,111.8 168.8,115.3 164.1,117.1 165.3,120.6 170.0,121.0 166.5,125.3 167.6,128.8 164.1,131.2 157.1,134.7 148.8,141.8 144.1,145.3 141.8,154.7 140.6,165.3 143.5,174.1 137.1,178.8 131.2,180.6 127.6,179.4 124.1,174.7 121.2,170.6 116.5,172.4 112.9,175.9 110.6,181.8 108.2,184.1 106.5,181.8 104.7,175.9 103.5,168.8 100.0,168.2 92.9,170.0 91.2,166.5 89.4,160.6 87.1,156.5 76.5,156.5 67.1,157.1 61.2,158.8 51.8,157.1 41.2,153.5 42.4,147.6 37.6,148.2 34.7,146.5 35.3,139.4 32.4,132.4 33.5,127.6 29.4,120.6 28.8,114.7 25.3,111.2 26.5,105.3 28.2,100.6 25.3,98.2 25.9,94.7 30.6,91.2 37.6,88.8 41.2,81.8 47.2,79.0 51.8,75.8 55.4,74.9 61.5,76.0 66.0,74.5 70.0,73.5 74.0,71.0 76.8,68.2 80.0,70.0 81.5,72.9 89.4,71.8 88.8,69.4 89.4,64.7 91.8,61.2 82.4,54.1 69.4,45.9 61.8,40.0 70.6,35.3 75.3,30.6 69.4,28.2 76.5,23.5 82.4,21.2 84.7,17.6 88.2,12.9 92.9,14.1 93.5,18.5 107.6,17.6 112.9,16.0 113.5,11.8 121.8,9.4" fill="none" stroke="#a3a6ac" stroke-width="1" stroke-linejoin="round"/>
<g fill="none" stroke="#5a5a5e" stroke-width="0.6" stroke-dasharray="1.8 1.5" stroke-opacity="0.8">
<polyline points="90.2,61.5 96.4,58.5 105.9,56.0 113.5,54.7 119.4,51.8 125.3,47.4 132.4,52.9 134.7,57.6 137.1,57.6 143.0,55.9 153.5,55.3"/>
<polyline points="96.4,58.5 98.4,67.7 100.5,73.8 96.4,76.9 90.2,79.0 88.2,79.4 89.4,87.6 91.2,94.4 87.1,95.9 84.1,99.4 84.1,104.1 86.5,108.8 88.2,114.1 87.1,115.9 87.6,126.5 80.0,134.7 82.4,140.6 85.5,145.3 86.3,152.0 87.1,156.5"/>
<polyline points="104.7,75.3 110.7,81.0 116.9,88.2 119.4,93.5 120.6,98.5 120.0,102.9 121.2,110.0 132.9,110.2 139.4,111.2 139.4,114.7 141.2,123.5 141.8,127.6 145.3,128.8 148.8,125.3 167.0,127.5"/>
</g>
<g font-family="'Liberation Sans',sans-serif" text-anchor="middle">
<g font-size="7.05" fill="#6c6c70">
<text x="45.8" y="14.30">HYDERABAD</text>
<text x="164.1" y="31.30">MIRPUR KHAS</text>
<text x="38.4" y="52.30">TANDO</text>
<text x="38.4" y="59.30">MUHAMMAD</text>
<text x="38.4" y="66.30">KHAN</text>
<text x="37.6" y="174.30">THATTA</text>
<text x="180.2" y="152.30">THARPARKAR</text>
</g>
<text x="148.0" y="189.30" font-size="9.1" fill="#c3c3c6">INDIA</text>
<g font-size="7.15" fill="#b9bdc5" fill-opacity="0.95">
<text x="96.8" y="41.30" font-size="7.5">Matli</text>
<text x="144.9" y="82.30" font-size="7.5">Tando Bago</text>
<text x="54.8" y="108.30" font-size="7.2">Shaheed Fazal</text>
<text x="56.3" y="115.30" font-size="7.2">Rahu</text>
<text x="113.2" y="141.30" font-size="7.5">Badin</text>
</g>
<g font-size="4.45" fill="#6e6e72">
<text x="121.0" y="17.30">Halepota</text>
<text x="100.1" y="22.30">Ghulam Shah</text>
<text x="104.1" y="26.30">Laghari</text>
<text x="121.7" y="31.30">Dumbalo</text>
<text x="87.1" y="33.30">Malhan</text>
<text x="114.6" y="36.30">Tando</text>
<text x="114.6" y="40.30">Ghulam</text>
<text x="114.6" y="44.30">Ali</text>
<text x="86.2" y="47.30">Haji</text>
<text x="87.1" y="52.30">Sanwal</text>
<text x="109.3" y="52.30">Thari</text>
<text x="139.5" y="46.30">Budho</text>
<text x="138.6" y="51.30">Qambrani</text>
<text x="104.7" y="64.30">Talhar</text>
<text x="124.7" y="61.30">Rajo</text>
<text x="124.7" y="66.30">Khanani</text>
<text x="153.1" y="69.30">Dadah</text>
<text x="139.2" y="75.30">Khadro</text>
<text x="174.1" y="75.30">Khairpur</text>
<text x="114.9" y="79.30">Saeedpur</text>
<text x="97.9" y="85.30">Peero</text>
<text x="97.9" y="89.30">Lashari</text>
<text x="128.4" y="87.30">Tando</text>
<text x="128.4" y="91.30">Bagho</text>
<text x="167.0" y="88.30">Pangrio</text>
<text x="60.1" y="92.30">Kario</text>
<text x="145.4" y="95.30">Khalifo</text>
<text x="145.4" y="99.30">Qasim</text>
<text x="163.3" y="100.30">Dai</text>
<text x="162.7" y="105.30">Jarkas</text>
<text x="106.9" y="103.30">Badin 1</text>
<text x="127.8" y="102.30">Pahar</text>
<text x="127.2" y="106.30">Mari</text>
<text x="90.8" y="107.30">Kadiwala</text>
<text x="113.0" y="110.30">Badin</text>
<text x="113.0" y="114.30">2</text>
<text x="130.9" y="116.30">Nindo</text>
<text x="130.9" y="121.30">Shahar</text>
<text x="146.9" y="118.30">Khoski</text>
<text x="93.3" y="122.30">Muhammad</text>
<text x="93.3" y="126.30">Khan</text>
<text x="93.3" y="131.30">Bhurgari</text>
<text x="112.4" y="126.30">Luwari</text>
<text x="112.4" y="131.30">Sharif</text>
<text x="56.0" y="134.30">Ghari</text>
<text x="118.0" y="156.30">Kadhan</text>
</g>
</g>
</g>
<rect x="0.5" y="0.5" width="209" height="192.80" fill="none" stroke="#9d9da1" stroke-width="1"/>
</svg>
<rect x="805.90" y="275.35" width="211.40" height="14.55" fill="#6d6e70"/>
<svg x="357.00" y="507.60" width="210" height="193.10" overflow="hidden">
<g transform="translate(-1.30 0.50)">
<rect x="-3" y="-3" width="216" height="199" fill="#f6f6f6"/>
<polygon points="92.6,165.0 143.5,174.1 151.2,175.9 160.6,179.4 164.1,179.4 172.4,175.9 179.4,173.5 187.6,174.7 195.9,174.5 202.9,173.5 208.8,174.7 213.0,175.3 213.0,196.0 92.6,196.0" fill="#e2e2e4"/>
<g fill="none" stroke="#a9a9ad" stroke-width="1.05" stroke-linejoin="round">
<polyline points="-3.0,5.1 7.0,5.9 15.3,7.0 22.4,5.9 23.5,4.7 21.2,0.0"/>
<polyline points="23.5,4.7 20.6,10.6 21.2,15.3 22.4,20.0 25.3,23.5 25.3,30.6 22.9,32.9 15.3,34.1 11.8,36.5 10.0,43.5 9.4,55.3 11.8,58.8 17.6,64.7 17.0,67.0 11.8,70.6 10.0,73.0 11.8,76.0 15.3,81.2 16.5,85.3 24.7,91.8 25.9,94.7"/>
<polyline points="22.4,20.0 27.1,23.5 34.1,26.5 38.8,25.3 43.5,24.7 49.4,27.6 55.3,27.1 58.8,22.4 62.4,23.5 65.9,20.0 66.5,15.3 71.8,14.7 72.4,11.8 75.3,8.8 81.2,7.6 84.7,9.4 88.2,12.9"/>
<polyline points="63.5,0.0 67.6,3.5 68.8,8.2 67.6,14.7"/>
<polyline points="184.6,0.0 190.7,8.2 192.5,18.0 194.8,30.8 197.9,45.1 205.0,55.4 209.0,59.5 213.0,66.0"/>
<polyline points="184.1,87.6 195.9,81.2 202.9,78.2 213.0,74.2"/>
<polyline points="143.5,174.1 151.2,175.9 160.6,179.4 164.1,179.4 172.4,175.9 179.4,173.5 187.6,174.7 195.9,174.5 202.9,173.5 208.8,174.7 213.0,175.3" stroke="#a0a0a4" stroke-width="1.3"/>
<polyline points="92.6,170.0 92.6,196.0" stroke="#a0a0a4" stroke-width="1.3"/>
</g>
<g fill="none" stroke="#66666a" stroke-width="0.7" stroke-dasharray="1.9 1.4">
<polyline points="34.1,0.0 35.3,5.9"/>
<polyline points="47.1,15.3 44.1,18.8 43.5,24.7"/>
<polyline points="49.4,27.6 51.8,31.8 52.9,34.7 48.2,36.5 45.9,41.2 48.2,45.9 50.6,47.1"/>
<polyline points="64.7,44.7 65.9,50.6 64.7,56.5 61.2,59.4 51.8,63.5 50.6,65.9 54.1,68.8 49.4,72.9 47.1,77.6"/>
<polyline points="0.0,62.4 7.0,57.6 9.4,56.5"/>
<polyline points="0.0,113.5 5.9,118.2 17.6,119.4 28.8,117.1"/>
<polyline points="5.9,118.2 4.7,121.8 0.0,123.5"/>
<polyline points="126.5,1.8 142.9,2.4 143.5,1.2"/>
<polyline points="142.9,2.4 144.1,11.8 147.6,15.3 159.4,17.6 160.6,23.5 165.3,31.8 172.4,39.4 179.4,40.0 190.0,36.5 195.9,32.9 208.8,24.7"/>
<polyline points="172.4,39.4 173.5,44.7 167.6,48.2 160.6,50.6 159.4,54.1 164.1,57.6 171.2,57.6 172.4,54.1 174.1,58.8"/>
<polyline points="197.0,81.2 202.9,82.9 210.0,84.1"/>
</g>
<polygon points="125.9,5.3 127.1,23.5 127.6,34.1 137.1,38.8 145.3,44.1 151.2,50.6 153.5,55.3 158.2,60.0 165.3,61.8 174.7,61.2 180.6,64.7 184.1,70.6 184.7,76.0 181.8,81.8 182.9,85.3 184.1,87.6 180.6,91.2 174.7,94.7 172.4,96.5 177.6,100.0 172.4,103.5 167.6,106.5 168.2,110.0 172.4,111.8 168.8,115.3 164.1,117.1 165.3,120.6 170.0,121.0 166.5,125.3 167.6,128.8 164.1,131.2 157.1,134.7 148.8,141.8 144.1,145.3 141.8,154.7 140.6,165.3 143.5,174.1 137.1,178.8 131.2,180.6 127.6,179.4 124.1,174.7 121.2,170.6 116.5,172.4 112.9,175.9 110.6,181.8 108.2,184.1 106.5,181.8 104.7,175.9 103.5,168.8 100.0,168.2 92.9,170.0 91.2,166.5 89.4,160.6 87.1,156.5 76.5,156.5 67.1,157.1 61.2,158.8 51.8,157.1 41.2,153.5 42.4,147.6 37.6,148.2 34.7,146.5 35.3,139.4 32.4,132.4 33.5,127.6 29.4,120.6 28.8,114.7 25.3,111.2 26.5,105.3 28.2,100.6 25.3,98.2 25.9,94.7 30.6,91.2 37.6,88.8 41.2,81.8 47.2,79.0 51.8,75.8 55.4,74.9 61.5,76.0 66.0,74.5 70.0,73.5 74.0,71.0 76.8,68.2 80.0,70.0 81.5,72.9 89.4,71.8 88.8,69.4 89.4,64.7 91.8,61.2 82.4,54.1 69.4,45.9 61.8,40.0 70.6,35.3 75.3,30.6 69.4,28.2 76.5,23.5 82.4,21.2 84.7,17.6 88.2,12.9 92.9,14.1 93.5,18.5 107.6,17.6 112.9,16.0 113.5,11.8 121.8,9.4" fill="#6497d5" stroke="#a3a6ac" stroke-width="1.3" stroke-linejoin="round"/>
<polygon points="125.9,5.3 121.8,9.4 113.5,11.8 113.5,16.5 115.9,17.6 118.2,22.4 121.8,24.7 125.3,23.8 127.1,23.5" fill="#c8d7f0" stroke="#c8d7f0" stroke-width="0.35"/>
<polygon points="93.5,18.5 107.6,17.6 115.3,17.6 118.2,21.8 114.7,25.9 105.3,27.1 95.9,25.9 92.6,22.4" fill="#c8d7f0" stroke="#c8d7f0" stroke-width="0.35"/>
<polygon points="121.8,24.7 125.3,23.8 127.1,23.5 127.6,34.1 125.3,40.0 125.3,47.4 119.4,51.8 119.4,45.9 120.0,35.3 118.2,30.6 114.7,25.9 118.2,21.8" fill="#c8d7f0" stroke="#c8d7f0" stroke-width="0.35"/>
<polygon points="105.3,27.1 114.7,25.9 118.2,30.6 120.0,35.3 119.4,45.9 113.5,41.2 105.3,35.3" fill="#6497d5" stroke="#6497d5" stroke-width="0.35"/>
<polygon points="101.8,38.8 105.3,35.3 113.5,41.2 119.4,45.9 119.4,51.8 113.5,54.7 107.6,55.3 101.8,48.2" fill="#6497d5" stroke="#6497d5" stroke-width="0.35"/>
<polygon points="88.2,12.9 92.9,14.1 93.5,18.5 92.6,22.4 95.9,25.9 105.3,27.1 105.3,35.3 101.8,38.8 101.0,35.0 89.4,37.1 75.3,42.4 69.4,45.9 61.8,40.0 70.6,35.3 75.3,30.6 69.4,28.2 76.5,23.5 82.4,21.2 84.7,17.6" fill="#c8d7f0" stroke="#c8d7f0" stroke-width="0.35"/>
<polygon points="69.4,45.9 75.3,42.4 89.4,37.1 101.0,35.0 101.8,38.8 101.8,48.2 107.6,55.3 100.0,57.0 91.8,61.2 82.4,54.1" fill="#c8d7f0" stroke="#c8d7f0" stroke-width="0.35"/>
<polygon points="91.8,61.2 100.0,57.0 107.6,55.3 113.5,54.7 115.3,63.5 105.3,67.6 104.7,75.3 97.0,74.7 92.9,71.8 89.4,71.8 88.8,69.4 89.4,64.7" fill="#6497d5" stroke="#6497d5" stroke-width="0.35"/>
<polygon points="113.5,54.7 119.4,51.8 125.3,47.4 132.4,52.9 134.7,57.6 132.4,61.2 131.8,70.6 130.0,76.5 127.6,78.2 125.3,75.3 118.2,69.4 115.3,63.5" fill="#c8d7f0" stroke="#c8d7f0" stroke-width="0.35"/>
<polygon points="127.6,34.1 137.1,38.8 145.3,44.1 151.2,50.6 153.5,55.3 143.0,55.9 137.1,57.6 134.7,57.6 132.4,52.9 125.3,47.4 125.3,40.0" fill="#6497d5" stroke="#6497d5" stroke-width="0.35"/>
<polygon points="134.7,57.6 137.1,57.6 143.0,55.9 146.5,63.5 144.1,69.4 146.0,76.0 147.6,81.8 139.4,87.6 134.7,80.6 128.8,78.8 127.6,78.2 130.0,76.5 131.8,70.6 132.4,61.2" fill="#6497d5" stroke="#6497d5" stroke-width="0.35"/>
<polygon points="143.0,55.9 153.5,55.3 158.2,60.0 164.1,62.1 161.8,74.1 162.9,74.7 153.5,82.4 147.6,81.8 146.0,76.0 144.1,69.4 146.5,63.5" fill="#6497d5" stroke="#6497d5" stroke-width="0.35"/>
<polygon points="164.1,62.1 165.3,61.8 174.7,61.2 180.6,64.7 184.1,70.6 184.7,76.0 181.8,81.8 182.9,85.3 181.0,85.8 172.4,80.0 162.9,74.7 161.8,74.1" fill="#6497d5" stroke="#6497d5" stroke-width="0.35"/>
<polygon points="162.9,74.7 172.4,80.0 181.0,85.8 182.9,85.3 184.1,87.6 180.6,91.2 174.7,94.7 157.1,95.9 155.3,88.8 153.5,82.4" fill="#0f6cb6" stroke="#0f6cb6" stroke-width="0.35"/>
<polygon points="139.4,87.6 147.6,81.8 153.5,82.4 155.3,88.8 157.1,95.9 153.5,99.4 150.0,104.4 139.4,111.2 132.9,110.2 136.5,100.6 138.2,91.5" fill="#c8d7f0" stroke="#c8d7f0" stroke-width="0.35"/>
<polygon points="123.5,81.8 128.8,78.8 134.7,80.6 139.4,87.6 138.2,91.5 120.6,98.5 119.4,93.5 119.4,84.7" fill="#6497d5" stroke="#6497d5" stroke-width="0.35"/>
<polygon points="120.6,98.5 138.2,91.5 136.5,100.6 132.9,110.2 121.2,110.0 120.0,102.9" fill="#c8d7f0" stroke="#c8d7f0" stroke-width="0.35"/>
<polygon points="105.3,67.6 115.3,63.5 118.2,69.4 125.3,75.3 127.6,78.2 128.8,78.8 123.5,81.8 119.4,84.7 106.5,84.7 105.3,84.1 103.5,78.2 104.7,75.3" fill="#6497d5" stroke="#6497d5" stroke-width="0.35"/>
<polygon points="88.2,79.4 94.1,77.1 103.5,78.2 105.3,84.1 106.5,84.7 107.6,88.2 104.1,91.2 102.6,96.8 95.6,98.2 91.2,94.4 89.4,87.6" fill="#0f6cb6" stroke="#0f6cb6" stroke-width="0.35"/>
<polygon points="107.6,88.2 106.5,84.7 119.4,84.7 119.4,93.5 116.5,99.4 112.4,93.5" fill="#0f6cb6" stroke="#0f6cb6" stroke-width="0.35"/>
<polygon points="95.6,98.2 102.6,96.8 104.1,91.2 107.6,88.2 112.4,93.5 116.5,99.4 119.4,93.5 120.6,98.5 120.0,102.9 104.4,105.3 103.5,110.0 100.3,110.6 97.1,108.8 95.6,104.1" fill="#c8d7f0" stroke="#c8d7f0" stroke-width="0.35"/>
<polygon points="87.1,95.9 91.2,94.4 95.6,98.2 95.6,104.1 97.1,108.8 94.7,115.3 88.2,114.1 86.5,108.8 84.1,104.1 84.1,99.4" fill="#6497d5" stroke="#6497d5" stroke-width="0.35"/>
<polygon points="104.4,105.3 120.0,102.9 121.2,110.0 120.3,116.5 106.5,119.4 105.3,112.4" fill="#c8d7f0" stroke="#c8d7f0" stroke-width="0.35"/>
<polygon points="121.2,110.0 132.9,110.2 139.4,111.2 139.4,114.7 141.2,123.5 127.6,123.5 120.3,116.5" fill="#0f6cb6" stroke="#0f6cb6" stroke-width="0.35"/>
<polygon points="139.4,111.2 150.0,104.4 154.1,106.5 155.3,110.0 152.4,117.1 148.8,125.3 145.3,128.8 141.8,127.6 141.2,123.5 139.4,114.7" fill="#0f6cb6" stroke="#0f6cb6" stroke-width="0.35"/>
<polygon points="157.1,95.9 174.7,94.7 172.4,96.5 177.6,100.0 172.4,103.5 167.6,106.5 168.2,110.0 172.4,111.8 168.8,115.3 164.1,117.1 165.3,120.6 170.0,121.0 166.5,125.3 167.0,127.5 148.8,125.3 152.4,117.1 155.3,110.0 154.1,106.5 150.0,104.4 153.5,99.4" fill="#6497d5" stroke="#6497d5" stroke-width="0.35"/>
<polygon points="106.5,119.4 120.3,116.5 127.6,123.5 118.2,134.1 112.9,138.2 103.5,142.9 100.0,144.7 93.0,145.5 89.5,147.3 87.6,148.2 85.5,145.3 91.8,137.1 100.0,127.6" fill="#6497d5" stroke="#6497d5" stroke-width="0.35"/>
<polygon points="88.2,114.1 94.7,115.3 97.1,108.8 100.3,110.6 103.5,110.0 105.3,112.4 106.5,119.4 100.0,127.6 91.8,137.1 85.5,145.3 82.4,140.6 80.0,134.7 87.6,126.5 87.1,115.9" fill="#6497d5" stroke="#6497d5" stroke-width="0.35"/>
<polygon points="87.6,148.2 89.5,147.3 93.0,145.5 100.0,144.7 103.5,142.9 112.9,138.2 118.2,134.1 127.6,123.5 141.2,123.5 141.8,127.6 145.3,128.8 148.8,125.3 167.0,127.5 167.6,128.8 164.1,131.2 157.1,134.7 148.8,141.8 144.1,145.3 141.8,154.7 140.6,165.3 143.5,174.1 137.1,178.8 131.2,180.6 127.6,179.4 124.1,174.7 121.2,170.6 116.5,172.4 112.9,175.9 110.6,181.8 108.2,184.1 106.5,181.8 104.7,175.9 103.5,168.8 100.0,168.2 92.9,170.0 91.2,166.5 89.4,160.6 87.1,156.5 86.3,152.0 85.5,145.3" fill="#6497d5" stroke="#6497d5" stroke-width="0.35"/>
<polygon points="30.6,91.2 37.6,88.8 41.2,81.8 47.2,79.0 51.8,75.8 55.4,74.9 61.5,76.0 66.0,74.5 70.0,73.5 74.0,71.0 76.8,68.2 80.0,70.0 80.6,72.6 82.9,82.9 81.6,88.6 75.6,96.6 67.3,103.8 58.8,105.3 49.4,103.5 42.4,99.4 35.3,95.9" fill="#6497d5" stroke="#6497d5" stroke-width="0.35"/>
<path d="M113.5 16.5L115.9 17.6 M115.9 17.6L118.2 22.4 M118.2 22.4L121.8 24.7 M121.8 24.7L125.3 23.8 M125.3 23.8L127.1 23.5 M107.6 17.6L115.3 17.6 M115.3 17.6L118.2 21.8 M118.2 21.8L114.7 25.9 M114.7 25.9L105.3 27.1 M105.3 27.1L95.9 25.9 M95.9 25.9L92.6 22.4 M92.6 22.4L93.5 18.5 M121.8 24.7L125.3 23.8 M125.3 23.8L127.1 23.5 M127.6 34.1L125.3 40.0 M125.3 40.0L125.3 47.4 M125.3 47.4L119.4 51.8 M119.4 51.8L119.4 45.9 M119.4 45.9L120.0 35.3 M120.0 35.3L118.2 30.6 M118.2 30.6L114.7 25.9 M114.7 25.9L118.2 21.8 M118.2 21.8L121.8 24.7 M105.3 27.1L114.7 25.9 M114.7 25.9L118.2 30.6 M118.2 30.6L120.0 35.3 M120.0 35.3L119.4 45.9 M119.4 45.9L113.5 41.2 M113.5 41.2L105.3 35.3 M105.3 35.3L105.3 27.1 M101.8 38.8L105.3 35.3 M105.3 35.3L113.5 41.2 M113.5 41.2L119.4 45.9 M119.4 45.9L119.4 51.8 M119.4 51.8L113.5 54.7 M107.6 55.3L101.8 48.2 M101.8 48.2L101.8 38.8 M93.5 18.5L92.6 22.4 M92.6 22.4L95.9 25.9 M95.9 25.9L105.3 27.1 M105.3 27.1L105.3 35.3 M105.3 35.3L101.8 38.8 M101.8 38.8L101.0 35.0 M101.0 35.0L89.4 37.1 M89.4 37.1L75.3 42.4 M75.3 42.4L69.4 45.9 M69.4 45.9L75.3 42.4 M75.3 42.4L89.4 37.1 M89.4 37.1L101.0 35.0 M101.0 35.0L101.8 38.8 M101.8 38.8L101.8 48.2 M101.8 48.2L107.6 55.3 M113.5 54.7L115.3 63.5 M115.3 63.5L105.3 67.6 M105.3 67.6L104.7 75.3 M104.7 75.3L97.0 74.7 M97.0 74.7L92.9 71.8 M92.9 71.8L89.4 71.8 M113.5 54.7L119.4 51.8 M119.4 51.8L125.3 47.4 M125.3 47.4L132.4 52.9 M132.4 52.9L134.7 57.6 M134.7 57.6L132.4 61.2 M132.4 61.2L131.8 70.6 M131.8 70.6L130.0 76.5 M130.0 76.5L127.6 78.2 M127.6 78.2L125.3 75.3 M125.3 75.3L118.2 69.4 M118.2 69.4L115.3 63.5 M115.3 63.5L113.5 54.7 M153.5 55.3L143.0 55.9 M143.0 55.9L137.1 57.6 M137.1 57.6L134.7 57.6 M134.7 57.6L132.4 52.9 M132.4 52.9L125.3 47.4 M125.3 47.4L125.3 40.0 M125.3 40.0L127.6 34.1 M134.7 57.6L137.1 57.6 M137.1 57.6L143.0 55.9 M143.0 55.9L146.5 63.5 M146.5 63.5L144.1 69.4 M144.1 69.4L146.0 76.0 M146.0 76.0L147.6 81.8 M147.6 81.8L139.4 87.6 M139.4 87.6L134.7 80.6 M134.7 80.6L128.8 78.8 M128.8 78.8L127.6 78.2 M127.6 78.2L130.0 76.5 M130.0 76.5L131.8 70.6 M131.8 70.6L132.4 61.2 M132.4 61.2L134.7 57.6 M143.0 55.9L153.5 55.3 M164.1 62.1L161.8 74.1 M161.8 74.1L162.9 74.7 M162.9 74.7L153.5 82.4 M153.5 82.4L147.6 81.8 M147.6 81.8L146.0 76.0 M146.0 76.0L144.1 69.4 M144.1 69.4L146.5 63.5 M146.5 63.5L143.0 55.9 M182.9 85.3L181.0 85.8 M181.0 85.8L172.4 80.0 M172.4 80.0L162.9 74.7 M162.9 74.7L161.8 74.1 M161.8 74.1L164.1 62.1 M162.9 74.7L172.4 80.0 M172.4 80.0L181.0 85.8 M181.0 85.8L182.9 85.3 M174.7 94.7L157.1 95.9 M157.1 95.9L155.3 88.8 M155.3 88.8L153.5 82.4 M153.5 82.4L162.9 74.7 M139.4 87.6L147.6 81.8 M147.6 81.8L153.5 82.4 M153.5 82.4L155.3 88.8 M155.3 88.8L157.1 95.9 M157.1 95.9L153.5 99.4 M153.5 99.4L150.0 104.4 M150.0 104.4L139.4 111.2 M139.4 111.2L132.9 110.2 M132.9 110.2L136.5 100.6 M136.5 100.6L138.2 91.5 M138.2 91.5L139.4 87.6 M123.5 81.8L128.8 78.8 M128.8 78.8L134.7 80.6 M134.7 80.6L139.4 87.6 M139.4 87.6L138.2 91.5 M138.2 91.5L120.6 98.5 M120.6 98.5L119.4 93.5 M119.4 93.5L119.4 84.7 M119.4 84.7L123.5 81.8 M120.6 98.5L138.2 91.5 M138.2 91.5L136.5 100.6 M136.5 100.6L132.9 110.2 M132.9 110.2L121.2 110.0 M121.2 110.0L120.0 102.9 M120.0 102.9L120.6 98.5 M105.3 67.6L115.3 63.5 M115.3 63.5L118.2 69.4 M118.2 69.4L125.3 75.3 M125.3 75.3L127.6 78.2 M127.6 78.2L128.8 78.8 M128.8 78.8L123.5 81.8 M123.5 81.8L119.4 84.7 M119.4 84.7L106.5 84.7 M106.5 84.7L105.3 84.1 M105.3 84.1L103.5 78.2 M103.5 78.2L104.7 75.3 M104.7 75.3L105.3 67.6 M94.1 77.1L103.5 78.2 M103.5 78.2L105.3 84.1 M105.3 84.1L106.5 84.7 M106.5 84.7L107.6 88.2 M107.6 88.2L104.1 91.2 M104.1 91.2L102.6 96.8 M102.6 96.8L95.6 98.2 M95.6 98.2L91.2 94.4 M107.6 88.2L106.5 84.7 M106.5 84.7L119.4 84.7 M119.4 84.7L119.4 93.5 M119.4 93.5L116.5 99.4 M116.5 99.4L112.4 93.5 M112.4 93.5L107.6 88.2 M95.6 98.2L102.6 96.8 M102.6 96.8L104.1 91.2 M104.1 91.2L107.6 88.2 M107.6 88.2L112.4 93.5 M112.4 93.5L116.5 99.4 M116.5 99.4L119.4 93.5 M119.4 93.5L120.6 98.5 M120.6 98.5L120.0 102.9 M120.0 102.9L104.4 105.3 M104.4 105.3L103.5 110.0 M103.5 110.0L100.3 110.6 M100.3 110.6L97.1 108.8 M97.1 108.8L95.6 104.1 M95.6 104.1L95.6 98.2 M91.2 94.4L95.6 98.2 M95.6 98.2L95.6 104.1 M95.6 104.1L97.1 108.8 M97.1 108.8L94.7 115.3 M94.7 115.3L88.2 114.1 M104.4 105.3L120.0 102.9 M120.0 102.9L121.2 110.0 M121.2 110.0L120.3 116.5 M120.3 116.5L106.5 119.4 M106.5 119.4L105.3 112.4 M105.3 112.4L104.4 105.3 M121.2 110.0L132.9 110.2 M132.9 110.2L139.4 111.2 M139.4 111.2L139.4 114.7 M139.4 114.7L141.2 123.5 M141.2 123.5L127.6 123.5 M127.6 123.5L120.3 116.5 M120.3 116.5L121.2 110.0 M139.4 111.2L150.0 104.4 M150.0 104.4L154.1 106.5 M154.1 106.5L155.3 110.0 M155.3 110.0L152.4 117.1 M152.4 117.1L148.8 125.3 M148.8 125.3L145.3 128.8 M145.3 128.8L141.8 127.6 M141.8 127.6L141.2 123.5 M141.2 123.5L139.4 114.7 M139.4 114.7L139.4 111.2 M157.1 95.9L174.7 94.7 M148.8 125.3L152.4 117.1 M152.4 117.1L155.3 110.0 M155.3 110.0L154.1 106.5 M154.1 106.5L150.0 104.4 M150.0 104.4L153.5 99.4 M153.5 99.4L157.1 95.9 M106.5 119.4L120.3 116.5 M120.3 116.5L127.6 123.5 M127.6 123.5L118.2 134.1 M118.2 134.1L112.9 138.2 M112.9 138.2L103.5 142.9 M103.5 142.9L100.0 144.7 M100.0 144.7L93.0 145.5 M93.0 145.5L89.5 147.3 M89.5 147.3L87.6 148.2 M85.5 145.3L91.8 137.1 M91.8 137.1L100.0 127.6 M100.0 127.6L106.5 119.4 M88.2 114.1L94.7 115.3 M94.7 115.3L97.1 108.8 M97.1 108.8L100.3 110.6 M100.3 110.6L103.5 110.0 M103.5 110.0L105.3 112.4 M105.3 112.4L106.5 119.4 M106.5 119.4L100.0 127.6 M100.0 127.6L91.8 137.1 M91.8 137.1L85.5 145.3 M87.6 148.2L89.5 147.3 M89.5 147.3L93.0 145.5 M93.0 145.5L100.0 144.7 M100.0 144.7L103.5 142.9 M103.5 142.9L112.9 138.2 M112.9 138.2L118.2 134.1 M118.2 134.1L127.6 123.5 M127.6 123.5L141.2 123.5 M141.2 123.5L141.8 127.6 M141.8 127.6L145.3 128.8 M145.3 128.8L148.8 125.3 M80.6 72.6L82.9 82.9 M82.9 82.9L81.6 88.6 M81.6 88.6L75.6 96.6 M75.6 96.6L67.3 103.8 M67.3 103.8L58.8 105.3 M58.8 105.3L49.4 103.5 M49.4 103.5L42.4 99.4 M42.4 99.4L35.3 95.9 M35.3 95.9L30.6 91.2" fill="none" stroke="#d3d5d8" stroke-width="1.2" stroke-linecap="round"/>
<polygon points="125.9,5.3 127.1,23.5 127.6,34.1 137.1,38.8 145.3,44.1 151.2,50.6 153.5,55.3 158.2,60.0 165.3,61.8 174.7,61.2 180.6,64.7 184.1,70.6 184.7,76.0 181.8,81.8 182.9,85.3 184.1,87.6 180.6,91.2 174.7,94.7 172.4,96.5 177.6,100.0 172.4,103.5 167.6,106.5 168.2,110.0 172.4,111.8 168.8,115.3 164.1,117.1 165.3,120.6 170.0,121.0 166.5,125.3 167.6,128.8 164.1,131.2 157.1,134.7 148.8,141.8 144.1,145.3 141.8,154.7 140.6,165.3 143.5,174.1 137.1,178.8 131.2,180.6 127.6,179.4 124.1,174.7 121.2,170.6 116.5,172.4 112.9,175.9 110.6,181.8 108.2,184.1 106.5,181.8 104.7,175.9 103.5,168.8 100.0,168.2 92.9,170.0 91.2,166.5 89.4,160.6 87.1,156.5 76.5,156.5 67.1,157.1 61.2,158.8 51.8,157.1 41.2,153.5 42.4,147.6 37.6,148.2 34.7,146.5 35.3,139.4 32.4,132.4 33.5,127.6 29.4,120.6 28.8,114.7 25.3,111.2 26.5,105.3 28.2,100.6 25.3,98.2 25.9,94.7 30.6,91.2 37.6,88.8 41.2,81.8 47.2,79.0 51.8,75.8 55.4,74.9 61.5,76.0 66.0,74.5 70.0,73.5 74.0,71.0 76.8,68.2 80.0,70.0 81.5,72.9 89.4,71.8 88.8,69.4 89.4,64.7 91.8,61.2 82.4,54.1 69.4,45.9 61.8,40.0 70.6,35.3 75.3,30.6 69.4,28.2 76.5,23.5 82.4,21.2 84.7,17.6 88.2,12.9 92.9,14.1 93.5,18.5 107.6,17.6 112.9,16.0 113.5,11.8 121.8,9.4" fill="none" stroke="#a3a6ac" stroke-width="1" stroke-linejoin="round"/>
<g fill="none" stroke="#5a5a5e" stroke-width="0.6" stroke-dasharray="1.8 1.5" stroke-opacity="0.8">
<polyline points="90.2,61.5 96.4,58.5 105.9,56.0 113.5,54.7 119.4,51.8 125.3,47.4 132.4,52.9 134.7,57.6 137.1,57.6 143.0,55.9 153.5,55.3"/>
<polyline points="96.4,58.5 98.4,67.7 100.5,73.8 96.4,76.9 90.2,79.0 88.2,79.4 89.4,87.6 91.2,94.4 87.1,95.9 84.1,99.4 84.1,104.1 86.5,108.8 88.2,114.1 87.1,115.9 87.6,126.5 80.0,134.7 82.4,140.6 85.5,145.3 86.3,152.0 87.1,156.5"/>
<polyline points="104.7,75.3 110.7,81.0 116.9,88.2 119.4,93.5 120.6,98.5 120.0,102.9 121.2,110.0 132.9,110.2 139.4,111.2 139.4,114.7 141.2,123.5 141.8,127.6 145.3,128.8 148.8,125.3 167.0,127.5"/>
</g>
<g font-family="'Liberation Sans',sans-serif" text-anchor="middle">
<g font-size="7.05" fill="#6c6c70">
<text x="45.8" y="13.90">HYDERABAD</text>
<text x="164.1" y="31.90">MIRPUR KHAS</text>
<text x="38.4" y="52.90">TANDO</text>
<text x="38.4" y="59.90">MUHAMMAD</text>
<text x="38.4" y="65.90">KHAN</text>
<text x="37.6" y="173.90">THATTA</text>
<text x="180.2" y="151.90">THARPARKAR</text>
</g>
<text x="148.0" y="189.90" font-size="9.1" fill="#c3c3c6">INDIA</text>
<g font-size="7.15" fill="#b9bdc5" fill-opacity="0.95">
<text x="96.8" y="40.90" font-size="7.5">Matli</text>
<text x="144.9" y="81.90" font-size="7.5">Tando Bago</text>
<text x="54.8" y="108.90" font-size="7.2">Shaheed Fazal</text>
<text x="56.3" y="114.90" font-size="7.2">Rahu</text>
<text x="113.2" y="141.90" font-size="7.5">Badin</text>
</g>
<g font-size="4.45" fill="#6e6e72">
<text x="121.0" y="16.90">Halepota</text>
<text x="100.1" y="21.90">Ghulam Shah</text>
<text x="104.1" y="25.90">Laghari</text>
<text x="121.7" y="30.90">Dumbalo</text>
<text x="87.1" y="32.90">Malhan</text>
<text x="114.6" y="35.90">Tando</text>
<text x="114.6" y="39.90">Ghulam</text>
<text x="114.6" y="43.90">Ali</text>
<text x="86.2" y="47.90">Haji</text>
<text x="87.1" y="52.90">Sanwal</text>
<text x="109.3" y="51.90">Thari</text>
<text x="139.5" y="46.90">Budho</text>
<text x="138.6" y="50.90">Qambrani</text>
<text x="104.7" y="63.90">Talhar</text>
<text x="124.7" y="60.90">Rajo</text>
<text x="124.7" y="65.90">Khanani</text>
<text x="153.1" y="68.90">Dadah</text>
<text x="139.2" y="74.90">Khadro</text>
<text x="174.1" y="74.90">Khairpur</text>
<text x="114.9" y="79.90">Saeedpur</text>
<text x="97.9" y="84.90">Peero</text>
<text x="97.9" y="88.90">Lashari</text>
<text x="128.4" y="86.90">Tando</text>
<text x="128.4" y="90.90">Bagho</text>
<text x="167.0" y="87.90">Pangrio</text>
<text x="60.1" y="91.90">Kario</text>
<text x="145.4" y="94.90">Khalifo</text>
<text x="145.4" y="99.90">Qasim</text>
<text x="163.3" y="100.90">Dai</text>
<text x="162.7" y="104.90">Jarkas</text>
<text x="106.9" y="102.90">Badin 1</text>
<text x="127.8" y="101.90">Pahar</text>
<text x="127.2" y="106.90">Mari</text>
<text x="90.8" y="106.90">Kadiwala</text>
<text x="113.0" y="110.90">Badin</text>
<text x="113.0" y="114.90">2</text>
<text x="130.9" y="116.90">Nindo</text>
<text x="130.9" y="120.90">Shahar</text>
<text x="146.9" y="117.90">Khoski</text>
<text x="93.3" y="121.90">Muhammad</text>
<text x="93.3" y="126.90">Khan</text>
<text x="93.3" y="130.90">Bhurgari</text>
<text x="112.4" y="126.90">Luwari</text>
<text x="112.4" y="130.90">Sharif</text>
<text x="56.0" y="134.90">Ghari</text>
<text x="118.0" y="155.90">Kadhan</text>
</g>
</g>
</g>
<rect x="0.5" y="0.5" width="209" height="192.10" fill="none" stroke="#9d9da1" stroke-width="1"/>
</svg>
<rect x="356.00" y="492.35" width="211.40" height="15.45" fill="#6d6e70"/>
<svg x="581.10" y="507.60" width="210" height="193.10" overflow="hidden">
<g transform="translate(-1.00 0.50)">
<rect x="-3" y="-3" width="216" height="199" fill="#f6f6f6"/>
<polygon points="92.6,165.0 143.5,174.1 151.2,175.9 160.6,179.4 164.1,179.4 172.4,175.9 179.4,173.5 187.6,174.7 195.9,174.5 202.9,173.5 208.8,174.7 213.0,175.3 213.0,196.0 92.6,196.0" fill="#e2e2e4"/>
<g fill="none" stroke="#a9a9ad" stroke-width="1.05" stroke-linejoin="round">
<polyline points="-3.0,5.1 7.0,5.9 15.3,7.0 22.4,5.9 23.5,4.7 21.2,0.0"/>
<polyline points="23.5,4.7 20.6,10.6 21.2,15.3 22.4,20.0 25.3,23.5 25.3,30.6 22.9,32.9 15.3,34.1 11.8,36.5 10.0,43.5 9.4,55.3 11.8,58.8 17.6,64.7 17.0,67.0 11.8,70.6 10.0,73.0 11.8,76.0 15.3,81.2 16.5,85.3 24.7,91.8 25.9,94.7"/>
<polyline points="22.4,20.0 27.1,23.5 34.1,26.5 38.8,25.3 43.5,24.7 49.4,27.6 55.3,27.1 58.8,22.4 62.4,23.5 65.9,20.0 66.5,15.3 71.8,14.7 72.4,11.8 75.3,8.8 81.2,7.6 84.7,9.4 88.2,12.9"/>
<polyline points="63.5,0.0 67.6,3.5 68.8,8.2 67.6,14.7"/>
<polyline points="184.6,0.0 190.7,8.2 192.5,18.0 194.8,30.8 197.9,45.1 205.0,55.4 209.0,59.5 213.0,66.0"/>
<polyline points="184.1,87.6 195.9,81.2 202.9,78.2 213.0,74.2"/>
<polyline points="143.5,174.1 151.2,175.9 160.6,179.4 164.1,179.4 172.4,175.9 179.4,173.5 187.6,174.7 195.9,174.5 202.9,173.5 208.8,174.7 213.0,175.3" stroke="#a0a0a4" stroke-width="1.3"/>
<polyline points="92.6,170.0 92.6,196.0" stroke="#a0a0a4" stroke-width="1.3"/>
</g>
<g fill="none" stroke="#66666a" stroke-width="0.7" stroke-dasharray="1.9 1.4">
<polyline points="34.1,0.0 35.3,5.9"/>
<polyline points="47.1,15.3 44.1,18.8 43.5,24.7"/>
<polyline points="49.4,27.6 51.8,31.8 52.9,34.7 48.2,36.5 45.9,41.2 48.2,45.9 50.6,47.1"/>
<polyline points="64.7,44.7 65.9,50.6 64.7,56.5 61.2,59.4 51.8,63.5 50.6,65.9 54.1,68.8 49.4,72.9 47.1,77.6"/>
<polyline points="0.0,62.4 7.0,57.6 9.4,56.5"/>
<polyline points="0.0,113.5 5.9,118.2 17.6,119.4 28.8,117.1"/>
<polyline points="5.9,118.2 4.7,121.8 0.0,123.5"/>
<polyline points="126.5,1.8 142.9,2.4 143.5,1.2"/>
<polyline points="142.9,2.4 144.1,11.8 147.6,15.3 159.4,17.6 160.6,23.5 165.3,31.8 172.4,39.4 179.4,40.0 190.0,36.5 195.9,32.9 208.8,24.7"/>
<polyline points="172.4,39.4 173.5,44.7 167.6,48.2 160.6,50.6 159.4,54.1 164.1,57.6 171.2,57.6 172.4,54.1 174.1,58.8"/>
<polyline points="197.0,81.2 202.9,82.9 210.0,84.1"/>
</g>
<polygon points="125.9,5.3 127.1,23.5 127.6,34.1 137.1,38.8 145.3,44.1 151.2,50.6 153.5,55.3 158.2,60.0 165.3,61.8 174.7,61.2 180.6,64.7 184.1,70.6 184.7,76.0 181.8,81.8 182.9,85.3 184.1,87.6 180.6,91.2 174.7,94.7 172.4,96.5 177.6,100.0 172.4,103.5 167.6,106.5 168.2,110.0 172.4,111.8 168.8,115.3 164.1,117.1 165.3,120.6 170.0,121.0 166.5,125.3 167.6,128.8 164.1,131.2 157.1,134.7 148.8,141.8 144.1,145.3 141.8,154.7 140.6,165.3 143.5,174.1 137.1,178.8 131.2,180.6 127.6,179.4 124.1,174.7 121.2,170.6 116.5,172.4 112.9,175.9 110.6,181.8 108.2,184.1 106.5,181.8 104.7,175.9 103.5,168.8 100.0,168.2 92.9,170.0 91.2,166.5 89.4,160.6 87.1,156.5 76.5,156.5 67.1,157.1 61.2,158.8 51.8,157.1 41.2,153.5 42.4,147.6 37.6,148.2 34.7,146.5 35.3,139.4 32.4,132.4 33.5,127.6 29.4,120.6 28.8,114.7 25.3,111.2 26.5,105.3 28.2,100.6 25.3,98.2 25.9,94.7 30.6,91.2 37.6,88.8 41.2,81.8 47.2,79.0 51.8,75.8 55.4,74.9 61.5,76.0 66.0,74.5 70.0,73.5 74.0,71.0 76.8,68.2 80.0,70.0 81.5,72.9 89.4,71.8 88.8,69.4 89.4,64.7 91.8,61.2 82.4,54.1 69.4,45.9 61.8,40.0 70.6,35.3 75.3,30.6 69.4,28.2 76.5,23.5 82.4,21.2 84.7,17.6 88.2,12.9 92.9,14.1 93.5,18.5 107.6,17.6 112.9,16.0 113.5,11.8 121.8,9.4" fill="#6497d5" stroke="#a3a6ac" stroke-width="1.3" stroke-linejoin="round"/>
<polygon points="125.9,5.3 121.8,9.4 113.5,11.8 113.5,16.5 115.9,17.6 118.2,22.4 121.8,24.7 125.3,23.8 127.1,23.5" fill="#0f6cb6" stroke="#0f6cb6" stroke-width="0.35"/>
<polygon points="93.5,18.5 107.6,17.6 115.3,17.6 118.2,21.8 114.7,25.9 105.3,27.1 95.9,25.9 92.6,22.4" fill="#6497d5" stroke="#6497d5" stroke-width="0.35"/>
<polygon points="121.8,24.7 125.3,23.8 127.1,23.5 127.6,34.1 125.3,40.0 125.3,47.4 119.4,51.8 119.4,45.9 120.0,35.3 118.2,30.6 114.7,25.9 118.2,21.8" fill="#6497d5" stroke="#6497d5" stroke-width="0.35"/>
<polygon points="105.3,27.1 114.7,25.9 118.2,30.6 120.0,35.3 119.4,45.9 113.5,41.2 105.3,35.3" fill="#6497d5" stroke="#6497d5" stroke-width="0.35"/>
<polygon points="101.8,38.8 105.3,35.3 113.5,41.2 119.4,45.9 119.4,51.8 113.5,54.7 107.6,55.3 101.8,48.2" fill="#6497d5" stroke="#6497d5" stroke-width="0.35"/>
<polygon points="88.2,12.9 92.9,14.1 93.5,18.5 92.6,22.4 95.9,25.9 105.3,27.1 105.3,35.3 101.8,38.8 101.0,35.0 89.4,37.1 75.3,42.4 69.4,45.9 61.8,40.0 70.6,35.3 75.3,30.6 69.4,28.2 76.5,23.5 82.4,21.2 84.7,17.6" fill="#6497d5" stroke="#6497d5" stroke-width="0.35"/>
<polygon points="69.4,45.9 75.3,42.4 89.4,37.1 101.0,35.0 101.8,38.8 101.8,48.2 107.6,55.3 100.0,57.0 91.8,61.2 82.4,54.1" fill="#6497d5" stroke="#6497d5" stroke-width="0.35"/>
<polygon points="91.8,61.2 100.0,57.0 107.6,55.3 113.5,54.7 115.3,63.5 105.3,67.6 104.7,75.3 97.0,74.7 92.9,71.8 89.4,71.8 88.8,69.4 89.4,64.7" fill="#6497d5" stroke="#6497d5" stroke-width="0.35"/>
<polygon points="113.5,54.7 119.4,51.8 125.3,47.4 132.4,52.9 134.7,57.6 132.4,61.2 131.8,70.6 130.0,76.5 127.6,78.2 125.3,75.3 118.2,69.4 115.3,63.5" fill="#6497d5" stroke="#6497d5" stroke-width="0.35"/>
<polygon points="127.6,34.1 137.1,38.8 145.3,44.1 151.2,50.6 153.5,55.3 143.0,55.9 137.1,57.6 134.7,57.6 132.4,52.9 125.3,47.4 125.3,40.0" fill="#6497d5" stroke="#6497d5" stroke-width="0.35"/>
<polygon points="134.7,57.6 137.1,57.6 143.0,55.9 146.5,63.5 144.1,69.4 146.0,76.0 147.6,81.8 139.4,87.6 134.7,80.6 128.8,78.8 127.6,78.2 130.0,76.5 131.8,70.6 132.4,61.2" fill="#6497d5" stroke="#6497d5" stroke-width="0.35"/>
<polygon points="143.0,55.9 153.5,55.3 158.2,60.0 164.1,62.1 161.8,74.1 162.9,74.7 153.5,82.4 147.6,81.8 146.0,76.0 144.1,69.4 146.5,63.5" fill="#0f6cb6" stroke="#0f6cb6" stroke-width="0.35"/>
<polygon points="164.1,62.1 165.3,61.8 174.7,61.2 180.6,64.7 184.1,70.6 184.7,76.0 181.8,81.8 182.9,85.3 181.0,85.8 172.4,80.0 162.9,74.7 161.8,74.1" fill="#6497d5" stroke="#6497d5" stroke-width="0.35"/>
<polygon points="162.9,74.7 172.4,80.0 181.0,85.8 182.9,85.3 184.1,87.6 180.6,91.2 174.7,94.7 157.1,95.9 155.3,88.8 153.5,82.4" fill="#6497d5" stroke="#6497d5" stroke-width="0.35"/>
<polygon points="139.4,87.6 147.6,81.8 153.5,82.4 155.3,88.8 157.1,95.9 153.5,99.4 150.0,104.4 139.4,111.2 132.9,110.2 136.5,100.6 138.2,91.5" fill="#0f6cb6" stroke="#0f6cb6" stroke-width="0.35"/>
<polygon points="123.5,81.8 128.8,78.8 134.7,80.6 139.4,87.6 138.2,91.5 120.6,98.5 119.4,93.5 119.4,84.7" fill="#0f6cb6" stroke="#0f6cb6" stroke-width="0.35"/>
<polygon points="120.6,98.5 138.2,91.5 136.5,100.6 132.9,110.2 121.2,110.0 120.0,102.9" fill="#0f6cb6" stroke="#0f6cb6" stroke-width="0.35"/>
<polygon points="105.3,67.6 115.3,63.5 118.2,69.4 125.3,75.3 127.6,78.2 128.8,78.8 123.5,81.8 119.4,84.7 106.5,84.7 105.3,84.1 103.5,78.2 104.7,75.3" fill="#6497d5" stroke="#6497d5" stroke-width="0.35"/>
<polygon points="88.2,79.4 94.1,77.1 103.5,78.2 105.3,84.1 106.5,84.7 107.6,88.2 104.1,91.2 102.6,96.8 95.6,98.2 91.2,94.4 89.4,87.6" fill="#6497d5" stroke="#6497d5" stroke-width="0.35"/>
<polygon points="107.6,88.2 106.5,84.7 119.4,84.7 119.4,93.5 116.5,99.4 112.4,93.5" fill="#6497d5" stroke="#6497d5" stroke-width="0.35"/>
<polygon points="95.6,98.2 102.6,96.8 104.1,91.2 107.6,88.2 112.4,93.5 116.5,99.4 119.4,93.5 120.6,98.5 120.0,102.9 104.4,105.3 103.5,110.0 100.3,110.6 97.1,108.8 95.6,104.1" fill="#0f6cb6" stroke="#0f6cb6" stroke-width="0.35"/>
<polygon points="87.1,95.9 91.2,94.4 95.6,98.2 95.6,104.1 97.1,108.8 94.7,115.3 88.2,114.1 86.5,108.8 84.1,104.1 84.1,99.4" fill="#6497d5" stroke="#6497d5" stroke-width="0.35"/>
<polygon points="104.4,105.3 120.0,102.9 121.2,110.0 120.3,116.5 106.5,119.4 105.3,112.4" fill="#0f6cb6" stroke="#0f6cb6" stroke-width="0.35"/>
<polygon points="121.2,110.0 132.9,110.2 139.4,111.2 139.4,114.7 141.2,123.5 127.6,123.5 120.3,116.5" fill="#6497d5" stroke="#6497d5" stroke-width="0.35"/>
<polygon points="139.4,111.2 150.0,104.4 154.1,106.5 155.3,110.0 152.4,117.1 148.8,125.3 145.3,128.8 141.8,127.6 141.2,123.5 139.4,114.7" fill="#6497d5" stroke="#6497d5" stroke-width="0.35"/>
<polygon points="157.1,95.9 174.7,94.7 172.4,96.5 177.6,100.0 172.4,103.5 167.6,106.5 168.2,110.0 172.4,111.8 168.8,115.3 164.1,117.1 165.3,120.6 170.0,121.0 166.5,125.3 167.0,127.5 148.8,125.3 152.4,117.1 155.3,110.0 154.1,106.5 150.0,104.4 153.5,99.4" fill="#6497d5" stroke="#6497d5" stroke-width="0.35"/>
<polygon points="106.5,119.4 120.3,116.5 127.6,123.5 118.2,134.1 112.9,138.2 103.5,142.9 100.0,144.7 93.0,145.5 89.5,147.3 87.6,148.2 85.5,145.3 91.8,137.1 100.0,127.6" fill="#6497d5" stroke="#6497d5" stroke-width="0.35"/>
<polygon points="88.2,114.1 94.7,115.3 97.1,108.8 100.3,110.6 103.5,110.0 105.3,112.4 106.5,119.4 100.0,127.6 91.8,137.1 85.5,145.3 82.4,140.6 80.0,134.7 87.6,126.5 87.1,115.9" fill="#6497d5" stroke="#6497d5" stroke-width="0.35"/>
<polygon points="87.6,148.2 89.5,147.3 93.0,145.5 100.0,144.7 103.5,142.9 112.9,138.2 118.2,134.1 127.6,123.5 141.2,123.5 141.8,127.6 145.3,128.8 148.8,125.3 167.0,127.5 167.6,128.8 164.1,131.2 157.1,134.7 148.8,141.8 144.1,145.3 141.8,154.7 140.6,165.3 143.5,174.1 137.1,178.8 131.2,180.6 127.6,179.4 124.1,174.7 121.2,170.6 116.5,172.4 112.9,175.9 110.6,181.8 108.2,184.1 106.5,181.8 104.7,175.9 103.5,168.8 100.0,168.2 92.9,170.0 91.2,166.5 89.4,160.6 87.1,156.5 86.3,152.0 85.5,145.3" fill="#6497d5" stroke="#6497d5" stroke-width="0.35"/>
<polygon points="30.6,91.2 37.6,88.8 41.2,81.8 47.2,79.0 51.8,75.8 55.4,74.9 61.5,76.0 66.0,74.5 70.0,73.5 74.0,71.0 76.8,68.2 80.0,70.0 80.6,72.6 82.9,82.9 81.6,88.6 75.6,96.6 67.3,103.8 58.8,105.3 49.4,103.5 42.4,99.4 35.3,95.9" fill="#6497d5" stroke="#6497d5" stroke-width="0.35"/>
<path d="M113.5 16.5L115.9 17.6 M115.9 17.6L118.2 22.4 M118.2 22.4L121.8 24.7 M121.8 24.7L125.3 23.8 M125.3 23.8L127.1 23.5 M107.6 17.6L115.3 17.6 M115.3 17.6L118.2 21.8 M118.2 21.8L114.7 25.9 M114.7 25.9L105.3 27.1 M105.3 27.1L95.9 25.9 M95.9 25.9L92.6 22.4 M92.6 22.4L93.5 18.5 M121.8 24.7L125.3 23.8 M125.3 23.8L127.1 23.5 M127.6 34.1L125.3 40.0 M125.3 40.0L125.3 47.4 M125.3 47.4L119.4 51.8 M119.4 51.8L119.4 45.9 M119.4 45.9L120.0 35.3 M120.0 35.3L118.2 30.6 M118.2 30.6L114.7 25.9 M114.7 25.9L118.2 21.8 M118.2 21.8L121.8 24.7 M105.3 27.1L114.7 25.9 M114.7 25.9L118.2 30.6 M118.2 30.6L120.0 35.3 M120.0 35.3L119.4 45.9 M119.4 45.9L113.5 41.2 M113.5 41.2L105.3 35.3 M105.3 35.3L105.3 27.1 M101.8 38.8L105.3 35.3 M105.3 35.3L113.5 41.2 M113.5 41.2L119.4 45.9 M119.4 45.9L119.4 51.8 M119.4 51.8L113.5 54.7 M107.6 55.3L101.8 48.2 M101.8 48.2L101.8 38.8 M93.5 18.5L92.6 22.4 M92.6 22.4L95.9 25.9 M95.9 25.9L105.3 27.1 M105.3 27.1L105.3 35.3 M105.3 35.3L101.8 38.8 M101.8 38.8L101.0 35.0 M101.0 35.0L89.4 37.1 M89.4 37.1L75.3 42.4 M75.3 42.4L69.4 45.9 M69.4 45.9L75.3 42.4 M75.3 42.4L89.4 37.1 M89.4 37.1L101.0 35.0 M101.0 35.0L101.8 38.8 M101.8 38.8L101.8 48.2 M101.8 48.2L107.6 55.3 M113.5 54.7L115.3 63.5 M115.3 63.5L105.3 67.6 M105.3 67.6L104.7 75.3 M104.7 75.3L97.0 74.7 M97.0 74.7L92.9 71.8 M92.9 71.8L89.4 71.8 M113.5 54.7L119.4 51.8 M119.4 51.8L125.3 47.4 M125.3 47.4L132.4 52.9 M132.4 52.9L134.7 57.6 M134.7 57.6L132.4 61.2 M132.4 61.2L131.8 70.6 M131.8 70.6L130.0 76.5 M130.0 76.5L127.6 78.2 M127.6 78.2L125.3 75.3 M125.3 75.3L118.2 69.4 M118.2 69.4L115.3 63.5 M115.3 63.5L113.5 54.7 M153.5 55.3L143.0 55.9 M143.0 55.9L137.1 57.6 M137.1 57.6L134.7 57.6 M134.7 57.6L132.4 52.9 M132.4 52.9L125.3 47.4 M125.3 47.4L125.3 40.0 M125.3 40.0L127.6 34.1 M134.7 57.6L137.1 57.6 M137.1 57.6L143.0 55.9 M143.0 55.9L146.5 63.5 M146.5 63.5L144.1 69.4 M144.1 69.4L146.0 76.0 M146.0 76.0L147.6 81.8 M147.6 81.8L139.4 87.6 M139.4 87.6L134.7 80.6 M134.7 80.6L128.8 78.8 M128.8 78.8L127.6 78.2 M127.6 78.2L130.0 76.5 M130.0 76.5L131.8 70.6 M131.8 70.6L132.4 61.2 M132.4 61.2L134.7 57.6 M143.0 55.9L153.5 55.3 M164.1 62.1L161.8 74.1 M161.8 74.1L162.9 74.7 M162.9 74.7L153.5 82.4 M153.5 82.4L147.6 81.8 M147.6 81.8L146.0 76.0 M146.0 76.0L144.1 69.4 M144.1 69.4L146.5 63.5 M146.5 63.5L143.0 55.9 M182.9 85.3L181.0 85.8 M181.0 85.8L172.4 80.0 M172.4 80.0L162.9 74.7 M162.9 74.7L161.8 74.1 M161.8 74.1L164.1 62.1 M162.9 74.7L172.4 80.0 M172.4 80.0L181.0 85.8 M181.0 85.8L182.9 85.3 M174.7 94.7L157.1 95.9 M157.1 95.9L155.3 88.8 M155.3 88.8L153.5 82.4 M153.5 82.4L162.9 74.7 M139.4 87.6L147.6 81.8 M147.6 81.8L153.5 82.4 M153.5 82.4L155.3 88.8 M155.3 88.8L157.1 95.9 M157.1 95.9L153.5 99.4 M153.5 99.4L150.0 104.4 M150.0 104.4L139.4 111.2 M139.4 111.2L132.9 110.2 M132.9 110.2L136.5 100.6 M136.5 100.6L138.2 91.5 M138.2 91.5L139.4 87.6 M123.5 81.8L128.8 78.8 M128.8 78.8L134.7 80.6 M134.7 80.6L139.4 87.6 M139.4 87.6L138.2 91.5 M138.2 91.5L120.6 98.5 M120.6 98.5L119.4 93.5 M119.4 93.5L119.4 84.7 M119.4 84.7L123.5 81.8 M120.6 98.5L138.2 91.5 M138.2 91.5L136.5 100.6 M136.5 100.6L132.9 110.2 M132.9 110.2L121.2 110.0 M121.2 110.0L120.0 102.9 M120.0 102.9L120.6 98.5 M105.3 67.6L115.3 63.5 M115.3 63.5L118.2 69.4 M118.2 69.4L125.3 75.3 M125.3 75.3L127.6 78.2 M127.6 78.2L128.8 78.8 M128.8 78.8L123.5 81.8 M123.5 81.8L119.4 84.7 M119.4 84.7L106.5 84.7 M106.5 84.7L105.3 84.1 M105.3 84.1L103.5 78.2 M103.5 78.2L104.7 75.3 M104.7 75.3L105.3 67.6 M94.1 77.1L103.5 78.2 M103.5 78.2L105.3 84.1 M105.3 84.1L106.5 84.7 M106.5 84.7L107.6 88.2 M107.6 88.2L104.1 91.2 M104.1 91.2L102.6 96.8 M102.6 96.8L95.6 98.2 M95.6 98.2L91.2 94.4 M107.6 88.2L106.5 84.7 M106.5 84.7L119.4 84.7 M119.4 84.7L119.4 93.5 M119.4 93.5L116.5 99.4 M116.5 99.4L112.4 93.5 M112.4 93.5L107.6 88.2 M95.6 98.2L102.6 96.8 M102.6 96.8L104.1 91.2 M104.1 91.2L107.6 88.2 M107.6 88.2L112.4 93.5 M112.4 93.5L116.5 99.4 M116.5 99.4L119.4 93.5 M119.4 93.5L120.6 98.5 M120.6 98.5L120.0 102.9 M120.0 102.9L104.4 105.3 M104.4 105.3L103.5 110.0 M103.5 110.0L100.3 110.6 M100.3 110.6L97.1 108.8 M97.1 108.8L95.6 104.1 M95.6 104.1L95.6 98.2 M91.2 94.4L95.6 98.2 M95.6 98.2L95.6 104.1 M95.6 104.1L97.1 108.8 M97.1 108.8L94.7 115.3 M94.7 115.3L88.2 114.1 M104.4 105.3L120.0 102.9 M120.0 102.9L121.2 110.0 M121.2 110.0L120.3 116.5 M120.3 116.5L106.5 119.4 M106.5 119.4L105.3 112.4 M105.3 112.4L104.4 105.3 M121.2 110.0L132.9 110.2 M132.9 110.2L139.4 111.2 M139.4 111.2L139.4 114.7 M139.4 114.7L141.2 123.5 M141.2 123.5L127.6 123.5 M127.6 123.5L120.3 116.5 M120.3 116.5L121.2 110.0 M139.4 111.2L150.0 104.4 M150.0 104.4L154.1 106.5 M154.1 106.5L155.3 110.0 M155.3 110.0L152.4 117.1 M152.4 117.1L148.8 125.3 M148.8 125.3L145.3 128.8 M145.3 128.8L141.8 127.6 M141.8 127.6L141.2 123.5 M141.2 123.5L139.4 114.7 M139.4 114.7L139.4 111.2 M157.1 95.9L174.7 94.7 M148.8 125.3L152.4 117.1 M152.4 117.1L155.3 110.0 M155.3 110.0L154.1 106.5 M154.1 106.5L150.0 104.4 M150.0 104.4L153.5 99.4 M153.5 99.4L157.1 95.9 M106.5 119.4L120.3 116.5 M120.3 116.5L127.6 123.5 M127.6 123.5L118.2 134.1 M118.2 134.1L112.9 138.2 M112.9 138.2L103.5 142.9 M103.5 142.9L100.0 144.7 M100.0 144.7L93.0 145.5 M93.0 145.5L89.5 147.3 M89.5 147.3L87.6 148.2 M85.5 145.3L91.8 137.1 M91.8 137.1L100.0 127.6 M100.0 127.6L106.5 119.4 M88.2 114.1L94.7 115.3 M94.7 115.3L97.1 108.8 M97.1 108.8L100.3 110.6 M100.3 110.6L103.5 110.0 M103.5 110.0L105.3 112.4 M105.3 112.4L106.5 119.4 M106.5 119.4L100.0 127.6 M100.0 127.6L91.8 137.1 M91.8 137.1L85.5 145.3 M87.6 148.2L89.5 147.3 M89.5 147.3L93.0 145.5 M93.0 145.5L100.0 144.7 M100.0 144.7L103.5 142.9 M103.5 142.9L112.9 138.2 M112.9 138.2L118.2 134.1 M118.2 134.1L127.6 123.5 M127.6 123.5L141.2 123.5 M141.2 123.5L141.8 127.6 M141.8 127.6L145.3 128.8 M145.3 128.8L148.8 125.3 M80.6 72.6L82.9 82.9 M82.9 82.9L81.6 88.6 M81.6 88.6L75.6 96.6 M75.6 96.6L67.3 103.8 M67.3 103.8L58.8 105.3 M58.8 105.3L49.4 103.5 M49.4 103.5L42.4 99.4 M42.4 99.4L35.3 95.9 M35.3 95.9L30.6 91.2" fill="none" stroke="#d3d5d8" stroke-width="1.2" stroke-linecap="round"/>
<polygon points="125.9,5.3 127.1,23.5 127.6,34.1 137.1,38.8 145.3,44.1 151.2,50.6 153.5,55.3 158.2,60.0 165.3,61.8 174.7,61.2 180.6,64.7 184.1,70.6 184.7,76.0 181.8,81.8 182.9,85.3 184.1,87.6 180.6,91.2 174.7,94.7 172.4,96.5 177.6,100.0 172.4,103.5 167.6,106.5 168.2,110.0 172.4,111.8 168.8,115.3 164.1,117.1 165.3,120.6 170.0,121.0 166.5,125.3 167.6,128.8 164.1,131.2 157.1,134.7 148.8,141.8 144.1,145.3 141.8,154.7 140.6,165.3 143.5,174.1 137.1,178.8 131.2,180.6 127.6,179.4 124.1,174.7 121.2,170.6 116.5,172.4 112.9,175.9 110.6,181.8 108.2,184.1 106.5,181.8 104.7,175.9 103.5,168.8 100.0,168.2 92.9,170.0 91.2,166.5 89.4,160.6 87.1,156.5 76.5,156.5 67.1,157.1 61.2,158.8 51.8,157.1 41.2,153.5 42.4,147.6 37.6,148.2 34.7,146.5 35.3,139.4 32.4,132.4 33.5,127.6 29.4,120.6 28.8,114.7 25.3,111.2 26.5,105.3 28.2,100.6 25.3,98.2 25.9,94.7 30.6,91.2 37.6,88.8 41.2,81.8 47.2,79.0 51.8,75.8 55.4,74.9 61.5,76.0 66.0,74.5 70.0,73.5 74.0,71.0 76.8,68.2 80.0,70.0 81.5,72.9 89.4,71.8 88.8,69.4 89.4,64.7 91.8,61.2 82.4,54.1 69.4,45.9 61.8,40.0 70.6,35.3 75.3,30.6 69.4,28.2 76.5,23.5 82.4,21.2 84.7,17.6 88.2,12.9 92.9,14.1 93.5,18.5 107.6,17.6 112.9,16.0 113.5,11.8 121.8,9.4" fill="none" stroke="#a3a6ac" stroke-width="1" stroke-linejoin="round"/>
<g fill="none" stroke="#5a5a5e" stroke-width="0.6" stroke-dasharray="1.8 1.5" stroke-opacity="0.8">
<polyline points="90.2,61.5 96.4,58.5 105.9,56.0 113.5,54.7 119.4,51.8 125.3,47.4 132.4,52.9 134.7,57.6 137.1,57.6 143.0,55.9 153.5,55.3"/>
<polyline points="96.4,58.5 98.4,67.7 100.5,73.8 96.4,76.9 90.2,79.0 88.2,79.4 89.4,87.6 91.2,94.4 87.1,95.9 84.1,99.4 84.1,104.1 86.5,108.8 88.2,114.1 87.1,115.9 87.6,126.5 80.0,134.7 82.4,140.6 85.5,145.3 86.3,152.0 87.1,156.5"/>
<polyline points="104.7,75.3 110.7,81.0 116.9,88.2 119.4,93.5 120.6,98.5 120.0,102.9 121.2,110.0 132.9,110.2 139.4,111.2 139.4,114.7 141.2,123.5 141.8,127.6 145.3,128.8 148.8,125.3 167.0,127.5"/>
</g>
<g font-family="'Liberation Sans',sans-serif" text-anchor="middle">
<g font-size="7.05" fill="#6c6c70">
<text x="45.8" y="13.90">HYDERABAD</text>
<text x="164.1" y="31.90">MIRPUR KHAS</text>
<text x="38.4" y="52.90">TANDO</text>
<text x="38.4" y="59.90">MUHAMMAD</text>
<text x="38.4" y="65.90">KHAN</text>
<text x="37.6" y="173.90">THATTA</text>
<text x="180.2" y="151.90">THARPARKAR</text>
</g>
<text x="148.0" y="189.90" font-size="9.1" fill="#c3c3c6">INDIA</text>
<g font-size="7.15" fill="#b9bdc5" fill-opacity="0.95">
<text x="96.8" y="40.90" font-size="7.5">Matli</text>
<text x="144.9" y="81.90" font-size="7.5">Tando Bago</text>
<text x="54.8" y="108.90" font-size="7.2">Shaheed Fazal</text>
<text x="56.3" y="114.90" font-size="7.2">Rahu</text>
<text x="113.2" y="141.90" font-size="7.5">Badin</text>
</g>
<g font-size="4.45" fill="#6e6e72">
<text x="121.0" y="16.90">Halepota</text>
<text x="100.1" y="21.90">Ghulam Shah</text>
<text x="104.1" y="25.90">Laghari</text>
<text x="121.7" y="30.90">Dumbalo</text>
<text x="87.1" y="32.90">Malhan</text>
<text x="114.6" y="35.90">Tando</text>
<text x="114.6" y="39.90">Ghulam</text>
<text x="114.6" y="43.90">Ali</text>
<text x="86.2" y="47.90">Haji</text>
<text x="87.1" y="52.90">Sanwal</text>
<text x="109.3" y="51.90">Thari</text>
<text x="139.5" y="46.90">Budho</text>
<text x="138.6" y="50.90">Qambrani</text>
<text x="104.7" y="63.90">Talhar</text>
<text x="124.7" y="60.90">Rajo</text>
<text x="124.7" y="65.90">Khanani</text>
<text x="153.1" y="68.90">Dadah</text>
<text x="139.2" y="74.90">Khadro</text>
<text x="174.1" y="74.90">Khairpur</text>
<text x="114.9" y="79.90">Saeedpur</text>
<text x="97.9" y="84.90">Peero</text>
<text x="97.9" y="88.90">Lashari</text>
<text x="128.4" y="86.90">Tando</text>
<text x="128.4" y="90.90">Bagho</text>
<text x="167.0" y="87.90">Pangrio</text>
<text x="60.1" y="91.90">Kario</text>
<text x="145.4" y="94.90">Khalifo</text>
<text x="145.4" y="99.90">Qasim</text>
<text x="163.3" y="100.90">Dai</text>
<text x="162.7" y="104.90">Jarkas</text>
<text x="106.9" y="102.90">Badin 1</text>
<text x="127.8" y="101.90">Pahar</text>
<text x="127.2" y="106.90">Mari</text>
<text x="90.8" y="106.90">Kadiwala</text>
<text x="113.0" y="110.90">Badin</text>
<text x="113.0" y="114.90">2</text>
<text x="130.9" y="116.90">Nindo</text>
<text x="130.9" y="120.90">Shahar</text>
<text x="146.9" y="117.90">Khoski</text>
<text x="93.3" y="121.90">Muhammad</text>
<text x="93.3" y="126.90">Khan</text>
<text x="93.3" y="130.90">Bhurgari</text>
<text x="112.4" y="126.90">Luwari</text>
<text x="112.4" y="130.90">Sharif</text>
<text x="56.0" y="134.90">Ghari</text>
<text x="118.0" y="155.90">Kadhan</text>
</g>
</g>
</g>
<rect x="0.5" y="0.5" width="209" height="192.10" fill="none" stroke="#9d9da1" stroke-width="1"/>
</svg>
<rect x="581.00" y="492.35" width="211.40" height="15.45" fill="#6d6e70"/>
<svg x="806.10" y="507.60" width="210" height="193.10" overflow="hidden">
<g transform="translate(-1.00 0.60)">
<rect x="-3" y="-3" width="216" height="199" fill="#f6f6f6"/>
<polygon points="92.6,165.0 143.5,174.1 151.2,175.9 160.6,179.4 164.1,179.4 172.4,175.9 179.4,173.5 187.6,174.7 195.9,174.5 202.9,173.5 208.8,174.7 213.0,175.3 213.0,196.0 92.6,196.0" fill="#e2e2e4"/>
<g fill="none" stroke="#a9a9ad" stroke-width="1.05" stroke-linejoin="round">
<polyline points="-3.0,5.1 7.0,5.9 15.3,7.0 22.4,5.9 23.5,4.7 21.2,0.0"/>
<polyline points="23.5,4.7 20.6,10.6 21.2,15.3 22.4,20.0 25.3,23.5 25.3,30.6 22.9,32.9 15.3,34.1 11.8,36.5 10.0,43.5 9.4,55.3 11.8,58.8 17.6,64.7 17.0,67.0 11.8,70.6 10.0,73.0 11.8,76.0 15.3,81.2 16.5,85.3 24.7,91.8 25.9,94.7"/>
<polyline points="22.4,20.0 27.1,23.5 34.1,26.5 38.8,25.3 43.5,24.7 49.4,27.6 55.3,27.1 58.8,22.4 62.4,23.5 65.9,20.0 66.5,15.3 71.8,14.7 72.4,11.8 75.3,8.8 81.2,7.6 84.7,9.4 88.2,12.9"/>
<polyline points="63.5,0.0 67.6,3.5 68.8,8.2 67.6,14.7"/>
<polyline points="184.6,0.0 190.7,8.2 192.5,18.0 194.8,30.8 197.9,45.1 205.0,55.4 209.0,59.5 213.0,66.0"/>
<polyline points="184.1,87.6 195.9,81.2 202.9,78.2 213.0,74.2"/>
<polyline points="143.5,174.1 151.2,175.9 160.6,179.4 164.1,179.4 172.4,175.9 179.4,173.5 187.6,174.7 195.9,174.5 202.9,173.5 208.8,174.7 213.0,175.3" stroke="#a0a0a4" stroke-width="1.3"/>
<polyline points="92.6,170.0 92.6,196.0" stroke="#a0a0a4" stroke-width="1.3"/>
</g>
<g fill="none" stroke="#66666a" stroke-width="0.7" stroke-dasharray="1.9 1.4">
<polyline points="34.1,0.0 35.3,5.9"/>
<polyline points="47.1,15.3 44.1,18.8 43.5,24.7"/>
<polyline points="49.4,27.6 51.8,31.8 52.9,34.7 48.2,36.5 45.9,41.2 48.2,45.9 50.6,47.1"/>
<polyline points="64.7,44.7 65.9,50.6 64.7,56.5 61.2,59.4 51.8,63.5 50.6,65.9 54.1,68.8 49.4,72.9 47.1,77.6"/>
<polyline points="0.0,62.4 7.0,57.6 9.4,56.5"/>
<polyline points="0.0,113.5 5.9,118.2 17.6,119.4 28.8,117.1"/>
<polyline points="5.9,118.2 4.7,121.8 0.0,123.5"/>
<polyline points="126.5,1.8 142.9,2.4 143.5,1.2"/>
<polyline points="142.9,2.4 144.1,11.8 147.6,15.3 159.4,17.6 160.6,23.5 165.3,31.8 172.4,39.4 179.4,40.0 190.0,36.5 195.9,32.9 208.8,24.7"/>
<polyline points="172.4,39.4 173.5,44.7 167.6,48.2 160.6,50.6 159.4,54.1 164.1,57.6 171.2,57.6 172.4,54.1 174.1,58.8"/>
<polyline points="197.0,81.2 202.9,82.9 210.0,84.1"/>
</g>
<polygon points="125.9,5.3 127.1,23.5 127.6,34.1 137.1,38.8 145.3,44.1 151.2,50.6 153.5,55.3 158.2,60.0 165.3,61.8 174.7,61.2 180.6,64.7 184.1,70.6 184.7,76.0 181.8,81.8 182.9,85.3 184.1,87.6 180.6,91.2 174.7,94.7 172.4,96.5 177.6,100.0 172.4,103.5 167.6,106.5 168.2,110.0 172.4,111.8 168.8,115.3 164.1,117.1 165.3,120.6 170.0,121.0 166.5,125.3 167.6,128.8 164.1,131.2 157.1,134.7 148.8,141.8 144.1,145.3 141.8,154.7 140.6,165.3 143.5,174.1 137.1,178.8 131.2,180.6 127.6,179.4 124.1,174.7 121.2,170.6 116.5,172.4 112.9,175.9 110.6,181.8 108.2,184.1 106.5,181.8 104.7,175.9 103.5,168.8 100.0,168.2 92.9,170.0 91.2,166.5 89.4,160.6 87.1,156.5 76.5,156.5 67.1,157.1 61.2,158.8 51.8,157.1 41.2,153.5 42.4,147.6 37.6,148.2 34.7,146.5 35.3,139.4 32.4,132.4 33.5,127.6 29.4,120.6 28.8,114.7 25.3,111.2 26.5,105.3 28.2,100.6 25.3,98.2 25.9,94.7 30.6,91.2 37.6,88.8 41.2,81.8 47.2,79.0 51.8,75.8 55.4,74.9 61.5,76.0 66.0,74.5 70.0,73.5 74.0,71.0 76.8,68.2 80.0,70.0 81.5,72.9 89.4,71.8 88.8,69.4 89.4,64.7 91.8,61.2 82.4,54.1 69.4,45.9 61.8,40.0 70.6,35.3 75.3,30.6 69.4,28.2 76.5,23.5 82.4,21.2 84.7,17.6 88.2,12.9 92.9,14.1 93.5,18.5 107.6,17.6 112.9,16.0 113.5,11.8 121.8,9.4" fill="#0f6cb6" stroke="#a3a6ac" stroke-width="1.3" stroke-linejoin="round"/>
<polygon points="125.9,5.3 121.8,9.4 113.5,11.8 113.5,16.5 115.9,17.6 118.2,22.4 121.8,24.7 125.3,23.8 127.1,23.5" fill="#0f6cb6" stroke="#0f6cb6" stroke-width="0.35"/>
<polygon points="93.5,18.5 107.6,17.6 115.3,17.6 118.2,21.8 114.7,25.9 105.3,27.1 95.9,25.9 92.6,22.4" fill="#6497d5" stroke="#6497d5" stroke-width="0.35"/>
<polygon points="121.8,24.7 125.3,23.8 127.1,23.5 127.6,34.1 125.3,40.0 125.3,47.4 119.4,51.8 119.4,45.9 120.0,35.3 118.2,30.6 114.7,25.9 118.2,21.8" fill="#6497d5" stroke="#6497d5" stroke-width="0.35"/>
<polygon points="105.3,27.1 114.7,25.9 118.2,30.6 120.0,35.3 119.4,45.9 113.5,41.2 105.3,35.3" fill="#0f6cb6" stroke="#0f6cb6" stroke-width="0.35"/>
<polygon points="101.8,38.8 105.3,35.3 113.5,41.2 119.4,45.9 119.4,51.8 113.5,54.7 107.6,55.3 101.8,48.2" fill="#6497d5" stroke="#6497d5" stroke-width="0.35"/>
<polygon points="88.2,12.9 92.9,14.1 93.5,18.5 92.6,22.4 95.9,25.9 105.3,27.1 105.3,35.3 101.8,38.8 101.0,35.0 89.4,37.1 75.3,42.4 69.4,45.9 61.8,40.0 70.6,35.3 75.3,30.6 69.4,28.2 76.5,23.5 82.4,21.2 84.7,17.6" fill="#0f6cb6" stroke="#0f6cb6" stroke-width="0.35"/>
<polygon points="69.4,45.9 75.3,42.4 89.4,37.1 101.0,35.0 101.8,38.8 101.8,48.2 107.6,55.3 100.0,57.0 91.8,61.2 82.4,54.1" fill="#0f6cb6" stroke="#0f6cb6" stroke-width="0.35"/>
<polygon points="91.8,61.2 100.0,57.0 107.6,55.3 113.5,54.7 115.3,63.5 105.3,67.6 104.7,75.3 97.0,74.7 92.9,71.8 89.4,71.8 88.8,69.4 89.4,64.7" fill="#0f6cb6" stroke="#0f6cb6" stroke-width="0.35"/>
<polygon points="113.5,54.7 119.4,51.8 125.3,47.4 132.4,52.9 134.7,57.6 132.4,61.2 131.8,70.6 130.0,76.5 127.6,78.2 125.3,75.3 118.2,69.4 115.3,63.5" fill="#0f6cb6" stroke="#0f6cb6" stroke-width="0.35"/>
<polygon points="127.6,34.1 137.1,38.8 145.3,44.1 151.2,50.6 153.5,55.3 143.0,55.9 137.1,57.6 134.7,57.6 132.4,52.9 125.3,47.4 125.3,40.0" fill="#0f6cb6" stroke="#0f6cb6" stroke-width="0.35"/>
<polygon points="134.7,57.6 137.1,57.6 143.0,55.9 146.5,63.5 144.1,69.4 146.0,76.0 147.6,81.8 139.4,87.6 134.7,80.6 128.8,78.8 127.6,78.2 130.0,76.5 131.8,70.6 132.4,61.2" fill="#6497d5" stroke="#6497d5" stroke-width="0.35"/>
<polygon points="143.0,55.9 153.5,55.3 158.2,60.0 164.1,62.1 161.8,74.1 162.9,74.7 153.5,82.4 147.6,81.8 146.0,76.0 144.1,69.4 146.5,63.5" fill="#0f6cb6" stroke="#0f6cb6" stroke-width="0.35"/>
<polygon points="164.1,62.1 165.3,61.8 174.7,61.2 180.6,64.7 184.1,70.6 184.7,76.0 181.8,81.8 182.9,85.3 181.0,85.8 172.4,80.0 162.9,74.7 161.8,74.1" fill="#0f6cb6" stroke="#0f6cb6" stroke-width="0.35"/>
<polygon points="162.9,74.7 172.4,80.0 181.0,85.8 182.9,85.3 184.1,87.6 180.6,91.2 174.7,94.7 157.1,95.9 155.3,88.8 153.5,82.4" fill="#6497d5" stroke="#6497d5" stroke-width="0.35"/>
<polygon points="139.4,87.6 147.6,81.8 153.5,82.4 155.3,88.8 157.1,95.9 153.5,99.4 150.0,104.4 139.4,111.2 132.9,110.2 136.5,100.6 138.2,91.5" fill="#6497d5" stroke="#6497d5" stroke-width="0.35"/>
<polygon points="123.5,81.8 128.8,78.8 134.7,80.6 139.4,87.6 138.2,91.5 120.6,98.5 119.4,93.5 119.4,84.7" fill="#6497d5" stroke="#6497d5" stroke-width="0.35"/>
<polygon points="120.6,98.5 138.2,91.5 136.5,100.6 132.9,110.2 121.2,110.0 120.0,102.9" fill="#0f6cb6" stroke="#0f6cb6" stroke-width="0.35"/>
<polygon points="105.3,67.6 115.3,63.5 118.2,69.4 125.3,75.3 127.6,78.2 128.8,78.8 123.5,81.8 119.4,84.7 106.5,84.7 105.3,84.1 103.5,78.2 104.7,75.3" fill="#6497d5" stroke="#6497d5" stroke-width="0.35"/>
<polygon points="88.2,79.4 94.1,77.1 103.5,78.2 105.3,84.1 106.5,84.7 107.6,88.2 104.1,91.2 102.6,96.8 95.6,98.2 91.2,94.4 89.4,87.6" fill="#6497d5" stroke="#6497d5" stroke-width="0.35"/>
<polygon points="107.6,88.2 106.5,84.7 119.4,84.7 119.4,93.5 116.5,99.4 112.4,93.5" fill="#6497d5" stroke="#6497d5" stroke-width="0.35"/>
<polygon points="95.6,98.2 102.6,96.8 104.1,91.2 107.6,88.2 112.4,93.5 116.5,99.4 119.4,93.5 120.6,98.5 120.0,102.9 104.4,105.3 103.5,110.0 100.3,110.6 97.1,108.8 95.6,104.1" fill="#6497d5" stroke="#6497d5" stroke-width="0.35"/>
<polygon points="87.1,95.9 91.2,94.4 95.6,98.2 95.6,104.1 97.1,108.8 94.7,115.3 88.2,114.1 86.5,108.8 84.1,104.1 84.1,99.4" fill="#0f6cb6" stroke="#0f6cb6" stroke-width="0.35"/>
<polygon points="104.4,105.3 120.0,102.9 121.2,110.0 120.3,116.5 106.5,119.4 105.3,112.4" fill="#6497d5" stroke="#6497d5" stroke-width="0.35"/>
<polygon points="121.2,110.0 132.9,110.2 139.4,111.2 139.4,114.7 141.2,123.5 127.6,123.5 120.3,116.5" fill="#6497d5" stroke="#6497d5" stroke-width="0.35"/>
<polygon points="139.4,111.2 150.0,104.4 154.1,106.5 155.3,110.0 152.4,117.1 148.8,125.3 145.3,128.8 141.8,127.6 141.2,123.5 139.4,114.7" fill="#6497d5" stroke="#6497d5" stroke-width="0.35"/>
<polygon points="157.1,95.9 174.7,94.7 172.4,96.5 177.6,100.0 172.4,103.5 167.6,106.5 168.2,110.0 172.4,111.8 168.8,115.3 164.1,117.1 165.3,120.6 170.0,121.0 166.5,125.3 167.0,127.5 148.8,125.3 152.4,117.1 155.3,110.0 154.1,106.5 150.0,104.4 153.5,99.4" fill="#6497d5" stroke="#6497d5" stroke-width="0.35"/>
<polygon points="106.5,119.4 120.3,116.5 127.6,123.5 118.2,134.1 112.9,138.2 103.5,142.9 100.0,144.7 93.0,145.5 89.5,147.3 87.6,148.2 85.5,145.3 91.8,137.1 100.0,127.6" fill="#6497d5" stroke="#6497d5" stroke-width="0.35"/>
<polygon points="88.2,114.1 94.7,115.3 97.1,108.8 100.3,110.6 103.5,110.0 105.3,112.4 106.5,119.4 100.0,127.6 91.8,137.1 85.5,145.3 82.4,140.6 80.0,134.7 87.6,126.5 87.1,115.9" fill="#6497d5" stroke="#6497d5" stroke-width="0.35"/>
<polygon points="87.6,148.2 89.5,147.3 93.0,145.5 100.0,144.7 103.5,142.9 112.9,138.2 118.2,134.1 127.6,123.5 141.2,123.5 141.8,127.6 145.3,128.8 148.8,125.3 167.0,127.5 167.6,128.8 164.1,131.2 157.1,134.7 148.8,141.8 144.1,145.3 141.8,154.7 140.6,165.3 143.5,174.1 137.1,178.8 131.2,180.6 127.6,179.4 124.1,174.7 121.2,170.6 116.5,172.4 112.9,175.9 110.6,181.8 108.2,184.1 106.5,181.8 104.7,175.9 103.5,168.8 100.0,168.2 92.9,170.0 91.2,166.5 89.4,160.6 87.1,156.5 86.3,152.0 85.5,145.3" fill="#6497d5" stroke="#6497d5" stroke-width="0.35"/>
<polygon points="30.6,91.2 37.6,88.8 41.2,81.8 47.2,79.0 51.8,75.8 55.4,74.9 61.5,76.0 66.0,74.5 70.0,73.5 74.0,71.0 76.8,68.2 80.0,70.0 80.6,72.6 82.9,82.9 81.6,88.6 75.6,96.6 67.3,103.8 58.8,105.3 49.4,103.5 42.4,99.4 35.3,95.9" fill="#0f6cb6" stroke="#0f6cb6" stroke-width="0.35"/>
<path d="M113.5 16.5L115.9 17.6 M115.9 17.6L118.2 22.4 M118.2 22.4L121.8 24.7 M121.8 24.7L125.3 23.8 M125.3 23.8L127.1 23.5 M107.6 17.6L115.3 17.6 M115.3 17.6L118.2 21.8 M118.2 21.8L114.7 25.9 M114.7 25.9L105.3 27.1 M105.3 27.1L95.9 25.9 M95.9 25.9L92.6 22.4 M92.6 22.4L93.5 18.5 M121.8 24.7L125.3 23.8 M125.3 23.8L127.1 23.5 M127.6 34.1L125.3 40.0 M125.3 40.0L125.3 47.4 M125.3 47.4L119.4 51.8 M119.4 51.8L119.4 45.9 M119.4 45.9L120.0 35.3 M120.0 35.3L118.2 30.6 M118.2 30.6L114.7 25.9 M114.7 25.9L118.2 21.8 M118.2 21.8L121.8 24.7 M105.3 27.1L114.7 25.9 M114.7 25.9L118.2 30.6 M118.2 30.6L120.0 35.3 M120.0 35.3L119.4 45.9 M119.4 45.9L113.5 41.2 M113.5 41.2L105.3 35.3 M105.3 35.3L105.3 27.1 M101.8 38.8L105.3 35.3 M105.3 35.3L113.5 41.2 M113.5 41.2L119.4 45.9 M119.4 45.9L119.4 51.8 M119.4 51.8L113.5 54.7 M107.6 55.3L101.8 48.2 M101.8 48.2L101.8 38.8 M93.5 18.5L92.6 22.4 M92.6 22.4L95.9 25.9 M95.9 25.9L105.3 27.1 M105.3 27.1L105.3 35.3 M105.3 35.3L101.8 38.8 M101.8 38.8L101.0 35.0 M101.0 35.0L89.4 37.1 M89.4 37.1L75.3 42.4 M75.3 42.4L69.4 45.9 M69.4 45.9L75.3 42.4 M75.3 42.4L89.4 37.1 M89.4 37.1L101.0 35.0 M101.0 35.0L101.8 38.8 M101.8 38.8L101.8 48.2 M101.8 48.2L107.6 55.3 M113.5 54.7L115.3 63.5 M115.3 63.5L105.3 67.6 M105.3 67.6L104.7 75.3 M104.7 75.3L97.0 74.7 M97.0 74.7L92.9 71.8 M92.9 71.8L89.4 71.8 M113.5 54.7L119.4 51.8 M119.4 51.8L125.3 47.4 M125.3 47.4L132.4 52.9 M132.4 52.9L134.7 57.6 M134.7 57.6L132.4 61.2 M132.4 61.2L131.8 70.6 M131.8 70.6L130.0 76.5 M130.0 76.5L127.6 78.2 M127.6 78.2L125.3 75.3 M125.3 75.3L118.2 69.4 M118.2 69.4L115.3 63.5 M115.3 63.5L113.5 54.7 M153.5 55.3L143.0 55.9 M143.0 55.9L137.1 57.6 M137.1 57.6L134.7 57.6 M134.7 57.6L132.4 52.9 M132.4 52.9L125.3 47.4 M125.3 47.4L125.3 40.0 M125.3 40.0L127.6 34.1 M134.7 57.6L137.1 57.6 M137.1 57.6L143.0 55.9 M143.0 55.9L146.5 63.5 M146.5 63.5L144.1 69.4 M144.1 69.4L146.0 76.0 M146.0 76.0L147.6 81.8 M147.6 81.8L139.4 87.6 M139.4 87.6L134.7 80.6 M134.7 80.6L128.8 78.8 M128.8 78.8L127.6 78.2 M127.6 78.2L130.0 76.5 M130.0 76.5L131.8 70.6 M131.8 70.6L132.4 61.2 M132.4 61.2L134.7 57.6 M143.0 55.9L153.5 55.3 M164.1 62.1L161.8 74.1 M161.8 74.1L162.9 74.7 M162.9 74.7L153.5 82.4 M153.5 82.4L147.6 81.8 M147.6 81.8L146.0 76.0 M146.0 76.0L144.1 69.4 M144.1 69.4L146.5 63.5 M146.5 63.5L143.0 55.9 M182.9 85.3L181.0 85.8 M181.0 85.8L172.4 80.0 M172.4 80.0L162.9 74.7 M162.9 74.7L161.8 74.1 M161.8 74.1L164.1 62.1 M162.9 74.7L172.4 80.0 M172.4 80.0L181.0 85.8 M181.0 85.8L182.9 85.3 M174.7 94.7L157.1 95.9 M157.1 95.9L155.3 88.8 M155.3 88.8L153.5 82.4 M153.5 82.4L162.9 74.7 M139.4 87.6L147.6 81.8 M147.6 81.8L153.5 82.4 M153.5 82.4L155.3 88.8 M155.3 88.8L157.1 95.9 M157.1 95.9L153.5 99.4 M153.5 99.4L150.0 104.4 M150.0 104.4L139.4 111.2 M139.4 111.2L132.9 110.2 M132.9 110.2L136.5 100.6 M136.5 100.6L138.2 91.5 M138.2 91.5L139.4 87.6 M123.5 81.8L128.8 78.8 M128.8 78.8L134.7 80.6 M134.7 80.6L139.4 87.6 M139.4 87.6L138.2 91.5 M138.2 91.5L120.6 98.5 M120.6 98.5L119.4 93.5 M119.4 93.5L119.4 84.7 M119.4 84.7L123.5 81.8 M120.6 98.5L138.2 91.5 M138.2 91.5L136.5 100.6 M136.5 100.6L132.9 110.2 M132.9 110.2L121.2 110.0 M121.2 110.0L120.0 102.9 M120.0 102.9L120.6 98.5 M105.3 67.6L115.3 63.5 M115.3 63.5L118.2 69.4 M118.2 69.4L125.3 75.3 M125.3 75.3L127.6 78.2 M127.6 78.2L128.8 78.8 M128.8 78.8L123.5 81.8 M123.5 81.8L119.4 84.7 M119.4 84.7L106.5 84.7 M106.5 84.7L105.3 84.1 M105.3 84.1L103.5 78.2 M103.5 78.2L104.7 75.3 M104.7 75.3L105.3 67.6 M94.1 77.1L103.5 78.2 M103.5 78.2L105.3 84.1 M105.3 84.1L106.5 84.7 M106.5 84.7L107.6 88.2 M107.6 88.2L104.1 91.2 M104.1 91.2L102.6 96.8 M102.6 96.8L95.6 98.2 M95.6 98.2L91.2 94.4 M107.6 88.2L106.5 84.7 M106.5 84.7L119.4 84.7 M119.4 84.7L119.4 93.5 M119.4 93.5L116.5 99.4 M116.5 99.4L112.4 93.5 M112.4 93.5L107.6 88.2 M95.6 98.2L102.6 96.8 M102.6 96.8L104.1 91.2 M104.1 91.2L107.6 88.2 M107.6 88.2L112.4 93.5 M112.4 93.5L116.5 99.4 M116.5 99.4L119.4 93.5 M119.4 93.5L120.6 98.5 M120.6 98.5L120.0 102.9 M120.0 102.9L104.4 105.3 M104.4 105.3L103.5 110.0 M103.5 110.0L100.3 110.6 M100.3 110.6L97.1 108.8 M97.1 108.8L95.6 104.1 M95.6 104.1L95.6 98.2 M91.2 94.4L95.6 98.2 M95.6 98.2L95.6 104.1 M95.6 104.1L97.1 108.8 M97.1 108.8L94.7 115.3 M94.7 115.3L88.2 114.1 M104.4 105.3L120.0 102.9 M120.0 102.9L121.2 110.0 M121.2 110.0L120.3 116.5 M120.3 116.5L106.5 119.4 M106.5 119.4L105.3 112.4 M105.3 112.4L104.4 105.3 M121.2 110.0L132.9 110.2 M132.9 110.2L139.4 111.2 M139.4 111.2L139.4 114.7 M139.4 114.7L141.2 123.5 M141.2 123.5L127.6 123.5 M127.6 123.5L120.3 116.5 M120.3 116.5L121.2 110.0 M139.4 111.2L150.0 104.4 M150.0 104.4L154.1 106.5 M154.1 106.5L155.3 110.0 M155.3 110.0L152.4 117.1 M152.4 117.1L148.8 125.3 M148.8 125.3L145.3 128.8 M145.3 128.8L141.8 127.6 M141.8 127.6L141.2 123.5 M141.2 123.5L139.4 114.7 M139.4 114.7L139.4 111.2 M157.1 95.9L174.7 94.7 M148.8 125.3L152.4 117.1 M152.4 117.1L155.3 110.0 M155.3 110.0L154.1 106.5 M154.1 106.5L150.0 104.4 M150.0 104.4L153.5 99.4 M153.5 99.4L157.1 95.9 M106.5 119.4L120.3 116.5 M120.3 116.5L127.6 123.5 M127.6 123.5L118.2 134.1 M118.2 134.1L112.9 138.2 M112.9 138.2L103.5 142.9 M103.5 142.9L100.0 144.7 M100.0 144.7L93.0 145.5 M93.0 145.5L89.5 147.3 M89.5 147.3L87.6 148.2 M85.5 145.3L91.8 137.1 M91.8 137.1L100.0 127.6 M100.0 127.6L106.5 119.4 M88.2 114.1L94.7 115.3 M94.7 115.3L97.1 108.8 M97.1 108.8L100.3 110.6 M100.3 110.6L103.5 110.0 M103.5 110.0L105.3 112.4 M105.3 112.4L106.5 119.4 M106.5 119.4L100.0 127.6 M100.0 127.6L91.8 137.1 M91.8 137.1L85.5 145.3 M87.6 148.2L89.5 147.3 M89.5 147.3L93.0 145.5 M93.0 145.5L100.0 144.7 M100.0 144.7L103.5 142.9 M103.5 142.9L112.9 138.2 M112.9 138.2L118.2 134.1 M118.2 134.1L127.6 123.5 M127.6 123.5L141.2 123.5 M141.2 123.5L141.8 127.6 M141.8 127.6L145.3 128.8 M145.3 128.8L148.8 125.3 M80.6 72.6L82.9 82.9 M82.9 82.9L81.6 88.6 M81.6 88.6L75.6 96.6 M75.6 96.6L67.3 103.8 M67.3 103.8L58.8 105.3 M58.8 105.3L49.4 103.5 M49.4 103.5L42.4 99.4 M42.4 99.4L35.3 95.9 M35.3 95.9L30.6 91.2" fill="none" stroke="#d3d5d8" stroke-width="1.2" stroke-linecap="round"/>
<polygon points="125.9,5.3 127.1,23.5 127.6,34.1 137.1,38.8 145.3,44.1 151.2,50.6 153.5,55.3 158.2,60.0 165.3,61.8 174.7,61.2 180.6,64.7 184.1,70.6 184.7,76.0 181.8,81.8 182.9,85.3 184.1,87.6 180.6,91.2 174.7,94.7 172.4,96.5 177.6,100.0 172.4,103.5 167.6,106.5 168.2,110.0 172.4,111.8 168.8,115.3 164.1,117.1 165.3,120.6 170.0,121.0 166.5,125.3 167.6,128.8 164.1,131.2 157.1,134.7 148.8,141.8 144.1,145.3 141.8,154.7 140.6,165.3 143.5,174.1 137.1,178.8 131.2,180.6 127.6,179.4 124.1,174.7 121.2,170.6 116.5,172.4 112.9,175.9 110.6,181.8 108.2,184.1 106.5,181.8 104.7,175.9 103.5,168.8 100.0,168.2 92.9,170.0 91.2,166.5 89.4,160.6 87.1,156.5 76.5,156.5 67.1,157.1 61.2,158.8 51.8,157.1 41.2,153.5 42.4,147.6 37.6,148.2 34.7,146.5 35.3,139.4 32.4,132.4 33.5,127.6 29.4,120.6 28.8,114.7 25.3,111.2 26.5,105.3 28.2,100.6 25.3,98.2 25.9,94.7 30.6,91.2 37.6,88.8 41.2,81.8 47.2,79.0 51.8,75.8 55.4,74.9 61.5,76.0 66.0,74.5 70.0,73.5 74.0,71.0 76.8,68.2 80.0,70.0 81.5,72.9 89.4,71.8 88.8,69.4 89.4,64.7 91.8,61.2 82.4,54.1 69.4,45.9 61.8,40.0 70.6,35.3 75.3,30.6 69.4,28.2 76.5,23.5 82.4,21.2 84.7,17.6 88.2,12.9 92.9,14.1 93.5,18.5 107.6,17.6 112.9,16.0 113.5,11.8 121.8,9.4" fill="none" stroke="#a3a6ac" stroke-width="1" stroke-linejoin="round"/>
<g fill="none" stroke="#5a5a5e" stroke-width="0.6" stroke-dasharray="1.8 1.5" stroke-opacity="0.8">
<polyline points="90.2,61.5 96.4,58.5 105.9,56.0 113.5,54.7 119.4,51.8 125.3,47.4 132.4,52.9 134.7,57.6 137.1,57.6 143.0,55.9 153.5,55.3"/>
<polyline points="96.4,58.5 98.4,67.7 100.5,73.8 96.4,76.9 90.2,79.0 88.2,79.4 89.4,87.6 91.2,94.4 87.1,95.9 84.1,99.4 84.1,104.1 86.5,108.8 88.2,114.1 87.1,115.9 87.6,126.5 80.0,134.7 82.4,140.6 85.5,145.3 86.3,152.0 87.1,156.5"/>
<polyline points="104.7,75.3 110.7,81.0 116.9,88.2 119.4,93.5 120.6,98.5 120.0,102.9 121.2,110.0 132.9,110.2 139.4,111.2 139.4,114.7 141.2,123.5 141.8,127.6 145.3,128.8 148.8,125.3 167.0,127.5"/>
</g>
<g font-family="'Liberation Sans',sans-serif" text-anchor="middle">
<g font-size="7.05" fill="#6c6c70">
<text x="45.8" y="13.80">HYDERABAD</text>
<text x="164.1" y="31.80">MIRPUR KHAS</text>
<text x="38.4" y="52.80">TANDO</text>
<text x="38.4" y="59.80">MUHAMMAD</text>
<text x="38.4" y="65.80">KHAN</text>
<text x="37.6" y="173.80">THATTA</text>
<text x="180.2" y="151.80">THARPARKAR</text>
</g>
<text x="148.0" y="189.80" font-size="9.1" fill="#c3c3c6">INDIA</text>
<g font-size="7.15" fill="#b9bdc5" fill-opacity="0.95">
<text x="96.8" y="40.80" font-size="7.5">Matli</text>
<text x="144.9" y="81.80" font-size="7.5">Tando Bago</text>
<text x="54.8" y="108.80" font-size="7.2">Shaheed Fazal</text>
<text x="56.3" y="115.80" font-size="7.2">Rahu</text>
<text x="113.2" y="141.80" font-size="7.5">Badin</text>
</g>
<g font-size="4.45" fill="#6e6e72">
<text x="121.0" y="16.80">Halepota</text>
<text x="100.1" y="21.80">Ghulam Shah</text>
<text x="104.1" y="26.80">Laghari</text>
<text x="121.7" y="30.80">Dumbalo</text>
<text x="87.1" y="32.80">Malhan</text>
<text x="114.6" y="35.80">Tando</text>
<text x="114.6" y="39.80">Ghulam</text>
<text x="114.6" y="43.80">Ali</text>
<text x="86.2" y="47.80">Haji</text>
<text x="87.1" y="52.80">Sanwal</text>
<text x="109.3" y="51.80">Thari</text>
<text x="139.5" y="46.80">Budho</text>
<text x="138.6" y="51.80">Qambrani</text>
<text x="104.7" y="63.80">Talhar</text>
<text x="124.7" y="60.80">Rajo</text>
<text x="124.7" y="65.80">Khanani</text>
<text x="153.1" y="68.80">Dadah</text>
<text x="139.2" y="75.80">Khadro</text>
<text x="174.1" y="75.80">Khairpur</text>
<text x="114.9" y="79.80">Saeedpur</text>
<text x="97.9" y="84.80">Peero</text>
<text x="97.9" y="88.80">Lashari</text>
<text x="128.4" y="86.80">Tando</text>
<text x="128.4" y="90.80">Bagho</text>
<text x="167.0" y="88.80">Pangrio</text>
<text x="60.1" y="91.80">Kario</text>
<text x="145.4" y="94.80">Khalifo</text>
<text x="145.4" y="99.80">Qasim</text>
<text x="163.3" y="100.80">Dai</text>
<text x="162.7" y="105.80">Jarkas</text>
<text x="106.9" y="102.80">Badin 1</text>
<text x="127.8" y="101.80">Pahar</text>
<text x="127.2" y="106.80">Mari</text>
<text x="90.8" y="106.80">Kadiwala</text>
<text x="113.0" y="110.80">Badin</text>
<text x="113.0" y="114.80">2</text>
<text x="130.9" y="116.80">Nindo</text>
<text x="130.9" y="121.80">Shahar</text>
<text x="146.9" y="117.80">Khoski</text>
<text x="93.3" y="121.80">Muhammad</text>
<text x="93.3" y="126.80">Khan</text>
<text x="93.3" y="130.80">Bhurgari</text>
<text x="112.4" y="126.80">Luwari</text>
<text x="112.4" y="130.80">Sharif</text>
<text x="56.0" y="134.80">Ghari</text>
<text x="118.0" y="155.80">Kadhan</text>
</g>
</g>
</g>
<rect x="0.5" y="0.5" width="209" height="192.10" fill="none" stroke="#9d9da1" stroke-width="1"/>
</svg>
<rect x="805.10" y="492.35" width="212.00" height="15.45" fill="#6d6e70"/>
</svg>
<div class="ptitle" style="left:356.00px;top:59.05px;width:211.40px;height:14.75px">Community Restoration</div>
<div class="ptitle" style="left:581.00px;top:59.05px;width:211.40px;height:14.75px">Food</div>
<div class="ptitle" style="left:805.90px;top:58.30px;width:211.40px;height:14.50px">Education</div>
<div class="ptitle" style="left:356.00px;top:275.35px;width:211.40px;height:16.45px">Agriculture</div>
<div class="ptitle" style="left:581.00px;top:275.35px;width:211.40px;height:14.55px">WASH</div>
<div class="ptitle" style="left:805.90px;top:275.35px;width:211.40px;height:14.55px">Shelter</div>
<div class="ptitle" style="left:356.00px;top:492.35px;width:211.40px;height:15.45px">Health</div>
<div class="ptitle" style="left:581.00px;top:492.35px;width:211.40px;height:15.45px">Nutrition</div>
<div class="ptitle" style="left:805.10px;top:492.35px;width:212.00px;height:15.45px">Protection</div>
<div class="abs" style="top:23px;font-size:15.70px;left:18.00px;color:#fff;font-weight:bold;">PAKISTAN</div>
<div class="abs" style="top:23px;font-size:15.90px;left:99.60px;color:#fff;">- Sindh Flood 2011 - Union Council Ranking</div>
<div class="abs" style="top:23px;font-size:15.70px;left:416.60px;color:#fff;font-weight:bold;">- Badin District</div>
<svg class="abs" style="left:868px;top:9px" width="46" height="40" viewBox="868 9 46 40"><g fill="none" stroke="#ffffff">
<ellipse cx="888.73" cy="44.22" rx="3.21" ry="1.29" transform="rotate(-143.1 888.73 44.22)" fill="#ffffff" stroke="none"/>
<ellipse cx="884.18" cy="43.09" rx="3.21" ry="1.29" transform="rotate(-128.9 884.18 43.09)" fill="#ffffff" stroke="none"/>
<ellipse cx="880.17" cy="40.92" rx="3.21" ry="1.29" transform="rotate(-114.0 880.17 40.92)" fill="#ffffff" stroke="none"/>
<ellipse cx="877.00" cy="37.87" rx="3.21" ry="1.29" transform="rotate(-97.9 877.00 37.87)" fill="#ffffff" stroke="none"/>
<ellipse cx="874.92" cy="34.19" rx="3.21" ry="1.29" transform="rotate(-80.6 874.92 34.19)" fill="#ffffff" stroke="none"/>
<ellipse cx="874.10" cy="30.15" rx="3.21" ry="1.29" transform="rotate(-62.3 874.10 30.15)" fill="#ffffff" stroke="none"/>
<ellipse cx="874.60" cy="26.08" rx="3.21" ry="1.29" transform="rotate(-43.9 874.60 26.08)" fill="#ffffff" stroke="none"/>
<ellipse cx="876.37" cy="22.28" rx="3.21" ry="1.29" transform="rotate(-26.3 876.37 22.28)" fill="#ffffff" stroke="none"/>
<ellipse cx="893.47" cy="44.22" rx="3.21" ry="1.29" transform="rotate(143.1 893.47 44.22)" fill="#ffffff" stroke="none"/>
<ellipse cx="898.02" cy="43.09" rx="3.21" ry="1.29" transform="rotate(128.9 898.02 43.09)" fill="#ffffff" stroke="none"/>
<ellipse cx="902.03" cy="40.92" rx="3.21" ry="1.29" transform="rotate(114.0 902.03 40.92)" fill="#ffffff" stroke="none"/>
<ellipse cx="905.20" cy="37.87" rx="3.21" ry="1.29" transform="rotate(97.9 905.20 37.87)" fill="#ffffff" stroke="none"/>
<ellipse cx="907.28" cy="34.19" rx="3.21" ry="1.29" transform="rotate(80.6 907.28 34.19)" fill="#ffffff" stroke="none"/>
<ellipse cx="908.10" cy="30.15" rx="3.21" ry="1.29" transform="rotate(62.3 908.10 30.15)" fill="#ffffff" stroke="none"/>
<ellipse cx="907.60" cy="26.08" rx="3.21" ry="1.29" transform="rotate(43.9 907.60 26.08)" fill="#ffffff" stroke="none"/>
<ellipse cx="905.83" cy="22.28" rx="3.21" ry="1.29" transform="rotate(26.3 905.83 22.28)" fill="#ffffff" stroke="none"/>
<path d="M885.81 44.04 q5.29 -1.92 10.58 0" stroke="#ffffff" stroke-width="1.13"/>
<circle cx="891.10" cy="26.60" r="13.61" fill="#ffffff" stroke="none"/>
<circle cx="891.10" cy="26.60" r="11.16" stroke="#0f6cb6" stroke-width="1.50"/>
<circle cx="891.10" cy="26.60" r="7.89" stroke="#0f6cb6" stroke-width="1.50"/>
<circle cx="891.10" cy="26.60" r="4.63" stroke="#0f6cb6" stroke-width="1.50"/>
<line x1="878.44" y1="26.60" x2="903.76" y2="26.60" stroke="#0f6cb6" stroke-width="1.02"/>
<line x1="882.15" y1="17.65" x2="900.05" y2="35.55" stroke="#0f6cb6" stroke-width="1.02"/>
<line x1="891.10" y1="13.94" x2="891.10" y2="39.26" stroke="#0f6cb6" stroke-width="1.02"/>
<line x1="900.05" y1="17.65" x2="882.15" y2="35.55" stroke="#0f6cb6" stroke-width="1.02"/>
<polygon points="882.66,22.52 887.02,19.12 891.78,19.80 895.18,23.20 892.46,25.92 890.42,29.32 886.34,27.96 884.30,25.92" fill="#ffffff" stroke="none"/>
<polygon points="893.14,26.87 898.58,24.56 900.63,28.64 897.22,32.72 893.82,31.36" fill="#ffffff" stroke="none"/>
<polygon points="883.62,30.00 887.70,30.68 889.74,35.04 886.34,36.13 883.62,33.40" fill="#ffffff" stroke="none"/>
<polygon points="891.10,32.72 894.50,33.40 893.82,36.81 891.10,36.13" fill="#ffffff" stroke="none"/>
</g></svg>
<div class="abs" style="top:14px;font-size:33.00px;left:915.00px;color:#fff;letter-spacing:-1.1px;">OCHA</div>
<div class="abs" style="top:60px;font-size:10.65px;left:6.30px;color:#1d1d1f;">Union council ranking exercise, coordinated by UNOCHA and</div>
<div class="abs" style="top:74px;font-size:10.65px;left:6.30px;color:#1d1d1f;">UNDP, is a joint effort of Government and humanitarian partners</div>
<div class="abs" style="top:88px;font-size:10.65px;left:6.30px;color:#1d1d1f;">in the notified districts of 2011 floods in Sindh. Its purpose is to:</div>
<div class="abs" style="top:102px;font-size:10.65px;left:6.30px;color:#1d1d1f;"><span class="bul">•</span>Identify high priority union councils with outstanding needs.</div>
<div class="abs" style="top:117px;font-size:10.65px;left:6.30px;color:#1d1d1f;"><span class="bul">•</span>Facilitate stackholders to plan/support interventions and divert</div>
<div class="abs" style="top:131px;font-size:10.65px;left:6.30px;color:#1d1d1f;">resources where they are most needed.</div>
<div class="abs" style="top:145px;font-size:10.65px;left:6.30px;color:#1d1d1f;"><span class="bul">•</span>Provide common prioritization framework to clusters, agencies</div>
<div class="abs" style="top:159px;font-size:10.65px;left:6.30px;color:#1d1d1f;">and donors.</div>
<div class="abs" style="top:174px;font-size:10.65px;left:6.30px;color:#1d1d1f;">First round of this exercise is completed from February - March</div>
<div class="abs" style="top:187px;font-size:10.65px;left:6.30px;color:#1d1d1f;"> 2012.</div>
<svg class="abs" style="left:8px;top:220px" width="88" height="88" viewBox="8 220 88 88">
<defs><clipPath id="gclip"><circle cx="51.5" cy="264.0" r="39.5"/></clipPath></defs>
<circle cx="51.5" cy="264.0" r="39.5" fill="#e6eef9"/>
<g clip-path="url(#gclip)">
<polygon points="15.0,260.0 18.0,246.0 26.0,237.0 37.0,231.0 50.0,228.0 63.0,230.0 74.0,237.0 82.0,247.0 85.0,257.0 81.0,264.0 74.0,266.0 69.0,273.0 64.0,270.0 60.0,277.0 56.0,286.0 52.0,279.0 48.0,270.0 42.0,266.0 34.0,268.0 30.0,278.0 25.0,284.0 20.0,279.0 16.0,271.0" fill="#e5e5e6"/>
<polygon points="62.0,290.0 72.0,284.0 80.0,288.0 76.0,296.0 66.0,298.0" fill="#e5e5e6"/>
<g fill="none" stroke="#ffffff" stroke-width="0.95">
<line x1="51.5" y1="224.0" x2="51.5" y2="304.0"/>
<ellipse cx="51.5" cy="264.0" rx="8.00" ry="40.0"/>
<ellipse cx="51.5" cy="264.0" rx="15.60" ry="40.0"/>
<ellipse cx="51.5" cy="264.0" rx="22.40" ry="40.0"/>
<ellipse cx="51.5" cy="264.0" rx="28.40" ry="40.0"/>
<ellipse cx="51.5" cy="264.0" rx="33.20" ry="40.0"/>
<ellipse cx="51.5" cy="264.0" rx="36.80" ry="40.0"/>
<ellipse cx="51.5" cy="264.0" rx="39.20" ry="40.0"/>
<path d="M39.14 299.75A12.36 4.23 0 0 0 63.86 299.75"/>
<path d="M31.50 296.55A20.00 6.84 0 0 0 71.50 296.55"/>
<path d="M24.73 291.93A26.77 9.15 0 0 0 78.27 291.93"/>
<path d="M19.14 286.09A32.36 11.07 0 0 0 83.86 286.09"/>
<path d="M14.96 279.29A36.54 12.50 0 0 0 88.04 279.29"/>
<path d="M12.37 271.81A39.13 13.38 0 0 0 90.63 271.81"/>
<path d="M11.50 264.00A40.00 13.68 0 0 0 91.50 264.00"/>
<path d="M12.37 256.19A39.13 13.38 0 0 0 90.63 256.19"/>
<path d="M14.96 248.71A36.54 12.50 0 0 0 88.04 248.71"/>
<path d="M19.14 241.91A32.36 11.07 0 0 0 83.86 241.91"/>
<path d="M24.73 236.07A26.77 9.15 0 0 0 78.27 236.07"/>
<path d="M31.50 231.45A20.00 6.84 0 0 0 71.50 231.45"/>
<path d="M39.14 228.25A12.36 4.23 0 0 0 63.86 228.25"/>
<path d="M45.93 226.78A5.57 1.90 0 0 0 57.07 226.78"/>
</g></g>
<circle cx="51.5" cy="264.0" r="39.7" fill="none" stroke="#f1f5fb" stroke-width="1"/>
<polygon points="33.5,264.2 37.0,261.5 39.5,261.0 41.0,257.5 42.0,258.5 41.3,262.0 42.5,263.0 40.0,264.0 38.5,266.8 36.5,267.2 36.5,265.4" fill="#e0242c"/>
<text x="42.6" y="265.6" font-family="'Liberation Sans',sans-serif" font-size="4.6" font-weight="bold" fill="#1a1a1c">Pakistan</text>
</svg>
<svg class="abs" style="left:117.1px;top:223.4px;overflow:visible" width="111.8" height="86.0" viewBox="0 0 111.8 86.0">
<rect x="0" y="0" width="91.8" height="86.0" fill="#dcdcde"/>
<polygon points="0.0,69.2 7.0,68.3 15.1,67.9 27.2,67.9 29.8,70.2 32.5,74.9 39.2,78.6 41.3,82.0 40.6,86.0 0.0,86.0" fill="#e4edf8"/>
<polygon points="3.0,47.7 16.4,46.4 28.5,42.3 36.6,38.3 42.6,33.6 48.7,26.9 52.0,18.1 58.1,13.4 66.1,11.4 74.2,13.4 82.3,18.8 87.6,25.5 89.0,31.6 80.9,29.3 74.2,30.9 68.1,34.9 64.8,41.7 61.4,49.7 54.0,54.4 48.7,55.4 44.9,54.8 42.2,59.1 44.6,64.5 48.0,67.9 48.9,71.2 41.9,73.7 35.2,75.3 32.5,74.6 29.8,69.9 27.2,67.9 15.1,67.9 5.0,68.5 6.3,64.5 11.7,61.2 12.4,57.1 7.7,52.4" fill="#ffffff"/>
<g fill="none" stroke="#c6c6c9" stroke-width="0.7">
<polyline points="0.0,20.2 7.0,18.8 15.1,14.8 21.8,9.4 31.2,8.1 35.2,4.0 33.9,0.0"/>
<polyline points="35.2,4.0 41.9,6.7 47.3,4.0 51.3,8.1 52.0,18.1"/>
<polyline points="51.3,8.1 59.4,5.4 64.8,0.0"/>
<polyline points="64.8,2.7 70.2,6.7 78.2,9.4 87.6,16.1 91.7,17.5"/>
<polyline points="0.0,39.0 3.0,41.7 3.0,47.7"/>
<polyline points="87.6,25.5 91.7,28.2"/>
<polyline points="89.0,31.6 87.6,37.6 91.7,40.3"/>
</g>
<polyline points="82.3,18.8 75.5,22.2 70.2,23.1 64.8,22.2 63.4,25.5 64.8,29.8 68.1,32.3" fill="none" stroke="#4a4a4c" stroke-width="0.5"/>
<polygon points="31.9,56.5 35.2,53.8 41.9,52.4 44.9,54.8 42.2,59.1 44.6,64.5 48.0,67.9 48.9,71.2 41.9,73.3 35.2,75.0 31.9,73.9 29.6,69.2 32.5,65.9 30.9,61.2" fill="#de2229"/>
<rect x="27.2" y="49.7" width="24.2" height="26.2" fill="none" stroke="#b5b5b8" stroke-width="0.5"/>
<line x1="51.3" y1="63.8" x2="110.2" y2="63.8" stroke="#b5b5b8" stroke-width="0.5"/>
<g font-family="'Liberation Sans',sans-serif" fill="#7a7a7d">
<text x="5.0" y="29.2" font-size="4.4">AFGHANISTAN</text>
<text x="29.8" y="44.8" font-size="4.3" letter-spacing="1.2">PAKISTAN</text>
<text x="67.5" y="55.4" font-size="4.4">INDIA</text>
<text x="7.0" y="80.6" font-size="3.9" font-style="italic" fill="#5b6fb0">Arabian Sea</text>
</g>
<rect x="0.25" y="0.25" width="91.3" height="85.5" fill="none" stroke="#cfcfd2" stroke-width="0.5"/>
</svg>
<svg class="abs" style="left:227.1px;top:222.3px" width="93.7" height="87.1" viewBox="0 0 93.7 87.1">
<rect x="0" y="0" width="93.7" height="87.1" fill="#ffffff"/>
<polygon points="93.7,14.5 86.3,15.9 78.2,17.2 72.8,13.2 67.5,14.5 62.1,21.2 58.1,25.3 56.7,30.6 59.4,34.7 66.1,36.0 68.1,41.4 66.1,46.8 70.2,50.8 75.5,53.5 78.2,60.2 80.9,66.9 82.9,72.3 78.2,73.0 74.2,75.0 67.5,73.7 60.8,75.7 54.0,75.0 48.7,74.3 44.6,76.3 39.2,79.0 35.2,81.7 33.9,83.1 29.8,81.7 27.2,83.1 35.2,87.1 93.7,87.1" fill="#e3e3e5" stroke="#b9b9bc" stroke-width="0.7"/>
<polygon points="0.0,54.8 4.3,56.2 8.3,60.2 11.0,64.2 16.4,66.9 21.8,71.0 23.1,76.3 25.1,80.4 29.8,83.1 35.2,87.1 0.0,87.1" fill="#e2ecf8"/>
<polygon points="0.3,53.5 3.0,52.2 7.7,52.2 8.3,55.5 4.3,55.9 0.3,54.8" fill="#b4b4b7"/>
<polygon points="17.1,65.9 22.4,65.6 23.8,71.0 23.4,75.7 21.8,71.2 19.1,68.3" fill="#b4b4b7"/>
<polygon points="31.9,81.7 35.2,81.0 34.5,83.7 32.5,83.3" fill="#b4b4b7"/>
<g fill="none" stroke="#adadb0" stroke-width="1.0" stroke-linejoin="round">
<polyline points="56.7,1.1 52.7,5.1 39.2,5.8 35.2,9.1 28.5,13.2 21.8,15.9 18.4,21.2 17.7,30.6 19.8,37.4 22.4,45.4 20.4,52.2 16.4,58.9 11.0,64.2 16.4,66.3"/>
<polyline points="52.7,5.1 58.1,6.5 60.8,8.5 58.1,10.5 56.0,9.1 62.1,11.8 67.5,14.5"/>
</g>
<polygon points="42.6,59.5 47.3,58.3 48.1,61.6 52.7,62.9 53.6,66.3 50.7,69.0 50.0,73.0 45.3,73.9 40.6,72.3 37.9,69.6 38.2,65.6 41.9,63.6" fill="#de2229"/>
<line x1="50.7" y1="68.3" x2="57.8" y2="68.3" stroke="#1a1a1c" stroke-width="0.4"/>
<g font-family="'Liberation Sans',sans-serif">
<text x="57.8" y="70.0" font-size="4.4" font-weight="bold" fill="#1a1a1c">Badin</text>
<text x="3.0" y="9.1" font-size="5.8" fill="#b0b0b3">Balochistan</text>
<text x="68.1" y="8.1" font-size="5.9" fill="#b0b0b3">Punjab</text>
<text x="7.0" y="28.4" font-size="5.5" letter-spacing="1.5" fill="#8e8e91">PAKISTAN</text>
<text x="72.6" y="32.7" font-size="5.4" fill="#8e8e91">INDIA</text>
<text x="39.2" y="41.4" font-size="5.6" fill="#c2c2c5">Sindh</text>
</g>
<rect x="0.3" y="0.3" width="93.1" height="86.5" fill="none" stroke="#c9c9cc" stroke-width="0.6"/>
</svg>
<div class="abs" style="top:333px;font-size:12.40px;left:6.30px;color:#2a2a2c;font-weight:bold;">Priority Scale</div>
<div id="legend"><span style="background:#0f6cb6;color:#4878a8">High</span><span style="background:#5e94d4;color:#56779f">Moderate</span><span style="background:#95b6e2;color:#5f7086">Low</span><span style="background:#c8d7f0;color:#6f7784">No Priority</span></div>
<div class="abs" style="top:394px;font-size:10.60px;left:6.30px;color:#3e3e40;font-weight:bold;letter-spacing:1.0px;transform:scaleX(1.3);transform-origin:0 0;">Brief Overview of district:</div>
<div class="abs" style="top:408px;font-size:12.60px;right:785.40px;color:#4a4a4c;letter-spacing:0.6px;margin-right:-0.6px;">Total</div>
<div class="abs" style="top:408px;font-size:12.60px;right:693.40px;color:#4a4a4c;letter-spacing:0.8px;margin-right:-0.8px;">Affected</div>
<div class="abs" style="top:423px;font-size:10.60px;left:6.30px;color:#3a3a3c;">Population (estimated 2011)</div>
<div class="abs" style="top:423px;font-size:10.50px;right:785.20px;color:#3a3a3c;">1'448'870</div>
<div class="abs" style="top:423px;font-size:10.50px;right:693.20px;color:#3a3a3c;">1'021'301</div>
<div class="abs" style="top:440px;font-size:10.60px;left:6.30px;color:#3a3a3c;">Area (square km)</div>
<div class="abs" style="top:440px;font-size:10.50px;right:785.20px;color:#3a3a3c;">6'392</div>
<div class="abs" style="top:440px;font-size:10.50px;right:693.20px;color:#3a3a3c;">3'985</div>
<div class="abs" style="top:459px;font-size:10.60px;left:6.30px;color:#3a3a3c;">Number of  talukas</div>
<div class="abs" style="top:459px;font-size:10.50px;right:785.20px;color:#3a3a3c;">5</div>
<div class="abs" style="top:459px;font-size:10.50px;right:693.20px;color:#3a3a3c;">5</div>
<div class="abs" style="top:479px;font-size:10.60px;left:6.30px;color:#3a3a3c;">Number of union councils</div>
<div class="abs" style="top:479px;font-size:10.50px;right:785.20px;color:#3a3a3c;">46</div>
<div class="abs" style="top:479px;font-size:10.50px;right:693.20px;color:#3a3a3c;">46</div>
<div class="abs" style="top:498px;font-size:10.60px;left:6.30px;color:#3a3a3c;">Number of dehs</div>
<div class="abs" style="top:498px;font-size:10.50px;right:785.20px;color:#3a3a3c;">511</div>
<div class="abs" style="top:498px;font-size:10.50px;right:693.20px;color:#3a3a3c;">55</div>
<div class="abs" style="top:517px;font-size:10.60px;left:6.30px;color:#3a3a3c;">Number of villages</div>
<div class="abs" style="top:517px;font-size:10.50px;right:785.20px;color:#3a3a3c;">N/A</div>
<div class="abs" style="top:517px;font-size:10.50px;right:693.20px;color:#3a3a3c;">6'395</div>
<div class="abs" style="top:538px;font-size:8.87px;left:6.30px;color:#1f1f21;">Data source: PDMA - 17 Feb 2012</div>
<div class="abs" style="top:594px;font-size:7.10px;left:6.30px;color:#a5a5a7;">Disclaimer: The designation employed and the presentation of material on this map do not</div>
<div class="abs" style="top:603px;font-size:7.10px;left:6.30px;color:#a5a5a7;">imply the expression of any opinion whatsoever on th epart of the Secretariat of the</div>
<div class="abs" style="top:611px;font-size:7.10px;left:6.30px;color:#a5a5a7;">United Nations concerning the legal status of any country, teritary, city or areaor of its</div>
<div class="abs" style="top:619px;font-size:7.10px;left:6.30px;color:#a5a5a7;">authorities, or concerning the edelimitation of its frontiers or boundaries.</div>
<div class="abs" style="top:628px;font-size:7.10px;left:6.30px;color:#a5a5a7;">Dotted line represents approximately the Line of Control in Jammu &amp; Kashmir agreed upon</div>
<div class="abs" style="top:637px;font-size:7.10px;left:6.30px;color:#a5a5a7;">by India and Pakistan. The final Status of Jammu &amp; Kashmir has not yet been agreed upon</div>
<div class="abs" style="top:645px;font-size:7.10px;left:6.30px;color:#a5a5a7;">by the parties.</div>
<div class="abs" style="top:656px;font-size:6.20px;left:6.30px;color:#48484a;"><b>Doc Name:</b>PAK587_Sindh_Badin_Thematic_a3_V01_L_20120328</div>
<div class="abs" style="top:667px;font-size:6.20px;left:6.30px;color:#48484a;"><b>Creation date:</b> 28 March 2012</div>
<div class="abs" style="top:667px;font-size:6.20px;left:102.00px;color:#48484a;"><b>Glide number:</b> FL-2011-000130-PAK</div>
<div class="abs" style="top:678px;font-size:6.20px;left:6.30px;color:#48484a;"><b>Sources:</b></div>
<div class="abs" style="top:678px;font-size:6.20px;left:33.00px;color:#48484a;">Union council ranking data (UNOCHA, UNDP), admin 0 boundaries (GAUL),</div>
<div class="abs" style="top:686px;font-size:6.20px;left:33.00px;color:#48484a;">admin 1, admin 2 and admin 3 boundaries (PCO), admin 4 (TSSU, this data is collected from</div>
<div class="abs" style="top:694px;font-size:6.20px;left:33.00px;color:#48484a;">field, still its cleaning and verification is required)</div>
<div id="undp">
<svg width="50" height="93.4" viewBox="0 0 50 93.4" style="display:block">
<rect x="0" y="0" width="50" height="45.6" fill="#1f5a96"/>
<rect x="0" y="47.6" width="24.4" height="21.6" fill="#1f5a96"/>
<rect x="26" y="47.6" width="24" height="21.6" fill="#1f5a96"/>
<rect x="0" y="71.2" width="24.4" height="22.2" fill="#1f5a96"/>
<rect x="26" y="71.2" width="24" height="22.2" fill="#1f5a96"/>
<rect x="0" y="45.6" width="50" height="2" fill="#9db4cf"/>
<rect x="0" y="69.2" width="50" height="2" fill="#9db4cf"/>
<rect x="24.4" y="47.6" width="1.6" height="45.8" fill="#9db4cf"/>
<g fill="none" stroke="#eef3f8">
<ellipse cx="23.16" cy="37.63" rx="3.32" ry="1.33" transform="rotate(-143.8 23.16 37.63)" fill="#eef3f8" stroke="none"/>
<ellipse cx="18.46" cy="36.59" rx="3.32" ry="1.33" transform="rotate(-131.0 18.46 36.59)" fill="#eef3f8" stroke="none"/>
<ellipse cx="14.32" cy="34.59" rx="3.32" ry="1.33" transform="rotate(-117.0 14.32 34.59)" fill="#eef3f8" stroke="none"/>
<ellipse cx="11.05" cy="31.78" rx="3.32" ry="1.33" transform="rotate(-101.1 11.05 31.78)" fill="#eef3f8" stroke="none"/>
<ellipse cx="8.91" cy="28.38" rx="3.32" ry="1.33" transform="rotate(-82.8 8.91 28.38)" fill="#eef3f8" stroke="none"/>
<ellipse cx="8.06" cy="24.66" rx="3.32" ry="1.33" transform="rotate(-62.6 8.06 24.66)" fill="#eef3f8" stroke="none"/>
<ellipse cx="8.57" cy="20.91" rx="3.32" ry="1.33" transform="rotate(-42.1 8.57 20.91)" fill="#eef3f8" stroke="none"/>
<ellipse cx="10.40" cy="17.41" rx="3.32" ry="1.33" transform="rotate(-23.3 10.40 17.41)" fill="#eef3f8" stroke="none"/>
<ellipse cx="28.04" cy="37.63" rx="3.32" ry="1.33" transform="rotate(143.8 28.04 37.63)" fill="#eef3f8" stroke="none"/>
<ellipse cx="32.74" cy="36.59" rx="3.32" ry="1.33" transform="rotate(131.0 32.74 36.59)" fill="#eef3f8" stroke="none"/>
<ellipse cx="36.88" cy="34.59" rx="3.32" ry="1.33" transform="rotate(117.0 36.88 34.59)" fill="#eef3f8" stroke="none"/>
<ellipse cx="40.15" cy="31.78" rx="3.32" ry="1.33" transform="rotate(101.1 40.15 31.78)" fill="#eef3f8" stroke="none"/>
<ellipse cx="42.29" cy="28.38" rx="3.32" ry="1.33" transform="rotate(82.8 42.29 28.38)" fill="#eef3f8" stroke="none"/>
<ellipse cx="43.14" cy="24.66" rx="3.32" ry="1.33" transform="rotate(62.6 43.14 24.66)" fill="#eef3f8" stroke="none"/>
<ellipse cx="42.63" cy="20.91" rx="3.32" ry="1.33" transform="rotate(42.1 42.63 20.91)" fill="#eef3f8" stroke="none"/>
<ellipse cx="40.80" cy="17.41" rx="3.32" ry="1.33" transform="rotate(23.3 40.80 17.41)" fill="#eef3f8" stroke="none"/>
<path d="M20.14 37.47 q5.46 -1.77 10.92 0" stroke="#eef3f8" stroke-width="1.17"/>
<circle cx="25.60" cy="21.39" r="12.69" fill="#eef3f8" stroke="none"/>
<circle cx="25.60" cy="21.39" r="10.40" stroke="#1f5a96" stroke-width="1.40"/>
<circle cx="25.60" cy="21.39" r="7.36" stroke="#1f5a96" stroke-width="1.40"/>
<circle cx="25.60" cy="21.39" r="4.31" stroke="#1f5a96" stroke-width="1.40"/>
<line x1="13.80" y1="21.39" x2="37.40" y2="21.39" stroke="#1f5a96" stroke-width="0.95"/>
<line x1="17.26" y1="13.05" x2="33.94" y2="29.73" stroke="#1f5a96" stroke-width="0.95"/>
<line x1="25.60" y1="9.59" x2="25.60" y2="33.18" stroke="#1f5a96" stroke-width="0.95"/>
<line x1="33.94" y1="13.05" x2="17.26" y2="29.73" stroke="#1f5a96" stroke-width="0.95"/>
<polygon points="17.74,17.58 21.79,14.41 26.23,15.05 29.41,18.22 26.87,20.75 24.97,23.92 21.16,22.66 19.26,20.75" fill="#eef3f8" stroke="none"/>
<polygon points="27.50,21.64 32.58,19.48 34.48,23.29 31.31,27.10 28.14,25.83" fill="#eef3f8" stroke="none"/>
<polygon points="18.62,24.56 22.43,25.19 24.33,29.25 21.16,30.27 18.62,27.73" fill="#eef3f8" stroke="none"/>
<polygon points="25.60,27.10 28.77,27.73 28.14,30.90 25.60,30.27" fill="#eef3f8" stroke="none"/>
</g>
<g font-family="'Liberation Sans',sans-serif" font-size="19.5" fill="#ffffff" text-anchor="middle">
<text x="12.2" y="65.8">U</text><text x="38" y="65.8">N</text><text x="12.4" y="89.6">D</text><text x="37.6" y="89.6">P</text>
</g></svg></div>
<div class="abs" style="top:702px;font-size:8.84px;left:355.80px;color:#1d1d1f;">Note: The maps represent sections in the UC ranking exercise. Food security cluster has separate sections for food and agriculture.</div>
</div>
</body>
</html>
